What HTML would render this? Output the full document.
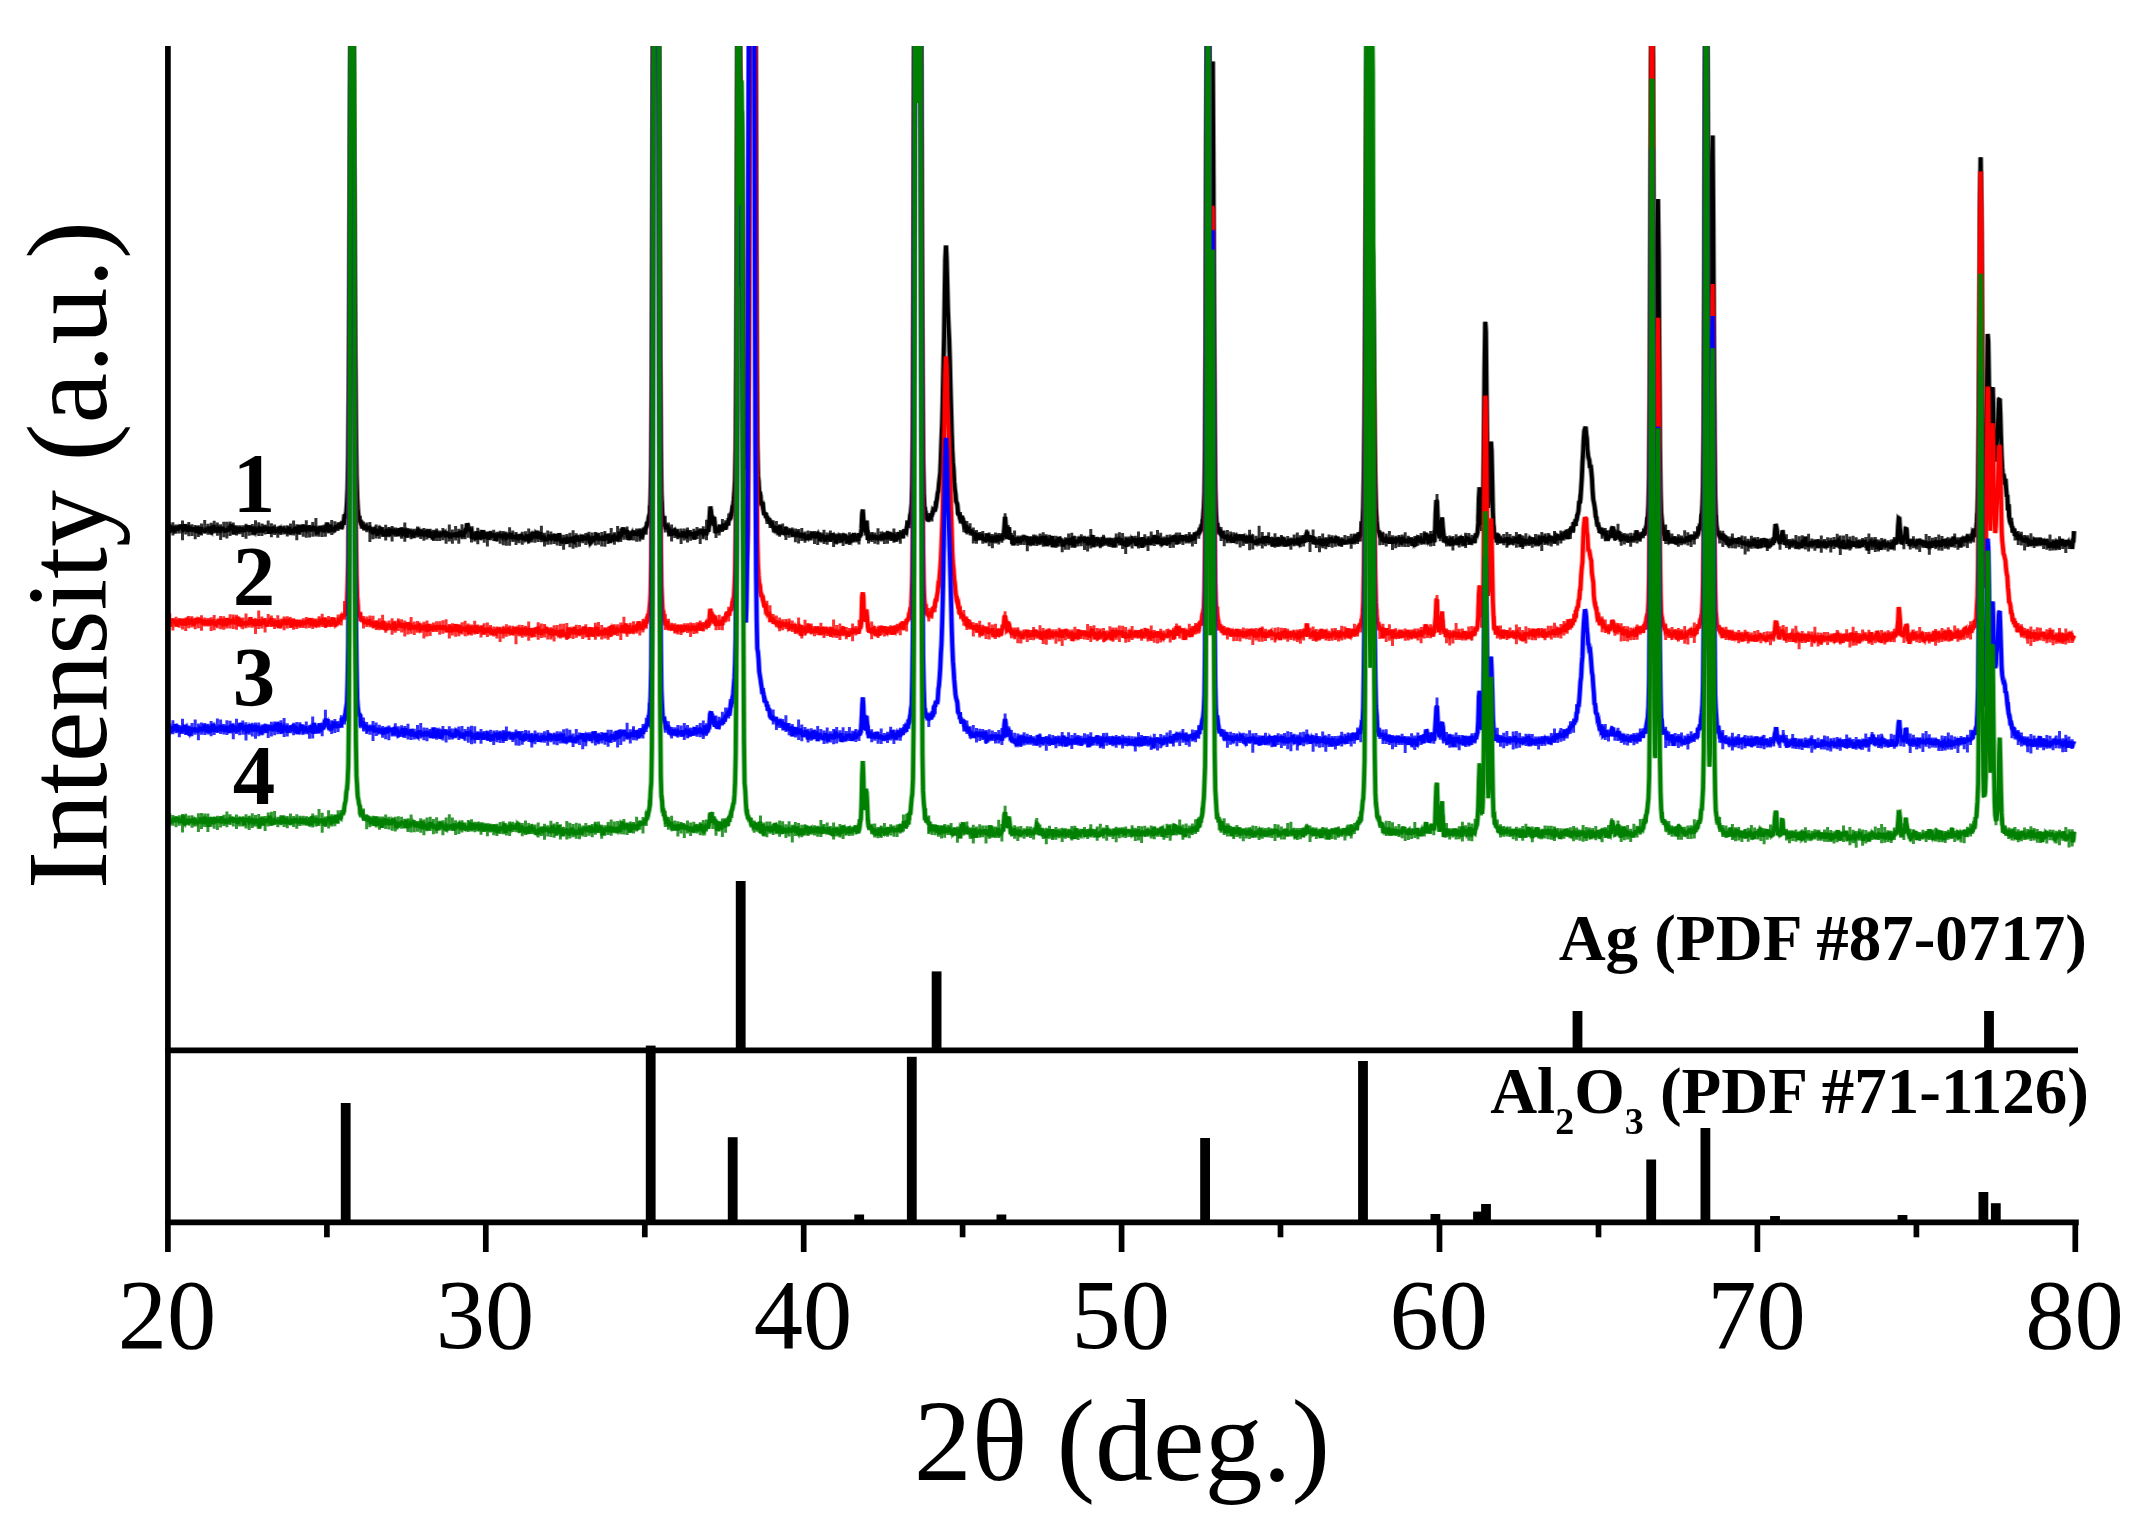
<!DOCTYPE html>
<html lang="en"><head><meta charset="utf-8"><title>XRD patterns</title>
<style>html,body{margin:0;padding:0;background:#fff}svg{display:block;filter:blur(0.65px)}</style></head>
<body>
<svg width="2150" height="1535" viewBox="0 0 2150 1535">
<rect width="2150" height="1535" fill="#ffffff"/>
<defs><clipPath id="plot"><rect x="166" y="46" width="1914" height="1180"/></clipPath></defs>
<defs><path id="c0" d="M168.5,528.8l.6,.8l.7-1.3l.6-1.1l.6,.9l.7-1.1l.6,2.3l.6,2.6l.7-3.9l.6,0l.7,2.2l.6-.5l.6-.5l.7-2.2l.6,1.7l.6,1.6l.7-4.2l.6,2l.6-3l.7,1.2l.6-1.1l.6,3.4l.7-2.1l.6,3.3l.6-.2l.7-.6l.6-4.8l.7,4.2l.6,1l.6,.2l.7-3.4l.6,2.3l.6-1.2l.7,.4l.6,3.8l.6-3.8l.7,1.6l.6,2l.6-2.9l.7,1l.6,.5l.6,.1l.7-2.6l.6,2.6l.6,2.6l.7-6l.6,4.9l.7-1.4l.6-1.8l.6,5.6l.7-2.6l.6-4.1l.6,2.5l.7,.9l.6-1.6l.6,1.9l.7-1.6l.6,1.3l.6,1.7l.7-4.3l.6,1.9l.6-1.4l.7,1.4l.6-2.7l.7,1.2l.6,.8l.6,2.3l.7,.5l.6-5.1l.6,.9l.7,3l.6-5.7l.6,3.1l.7,.7l.6,3l.6-1l.7-2.1l.6-.2l.6,0l.7,3.9l.6-4.2l.7,.3l.6,1.3l.6-.8l.7-.2l.6-1.8l.6,2.3l.7-.8l.6,3.4l.6-1.1l.7-1.4l.6,1.4l.6-2.3l.7,2.8l.6-2.2l.6,1.3l.7-3.8l.6,3.4l.6-4.3l.7-.7l.6,3.7l.7-1.3l.6,2.3l.6,4.5l.7-6.4l.6,.3l.6,1.7l.7,.5l.6-1.3l.6,0l.7,1.9l.6-.3l.6-3.3l.7,2.1l.6,.4l.6-2.2l.7,2.6l.6-2.3l.7,3.6l.6-1.6l.6-.2l.7-1.4l.6,1l.6-3.7l.7,1.8l.6,3.2l.6-5.3l.7,6.2l.6-5.5l.6,5.2l.7-3.3l.6,3.5l.6-1.3l.7-3.6l.6,5.7l.7,.4l.6-3.2l.6-.4l.7,.4l.6-1.6l.6,4.4l.7-3.4l.6,.9l.6-1.5l.7,.3l.6-1.4l.6,5.2l.7-2.9l.6,2.6l.6-2l.7-1.5l.6,.7l.7-.6l.6,1.3l.6-.9l.7,.2l.6-2.1l.6,1.4l.7,5.1l.6-4.8l.6-.7l.7,2.8l.6,2.2l.6-6l.7,2.8l.6-.8l.6-2.3l.7,5.4l.6-1.6l.6,.2l.7-1.8l.6,2.6l.7-2.1l.6,.8l.6-2l.7-.3l.6,5.2l.6-3.8l.7,1.7l.6-1.1l.6-.8l.7-.1l.6,2.5l.6-1.9l.7,.3l.6,.3l.6,2.4l.7-1.3l.6-.8l.7-1.8l.6-1.7l.6,4.8l.7,0l.6-2.4l.6,1.3l.7,.4l.6,0l.6,.1l.7-2.9l.6,4.1l.6-5.8l.7,4.3l.6-1l.6,.8l.7,2.2l.6-.7l.7-5.5l.6-1l.6,5.2l.7-3.7l.6,2.2l.6,1.8l.7-5.2l.6-1l.6,4.9l.7-.6l.6-.5l.6,.6l.7-1.8l.6-1.4l.6,2.9l.7-1.8l.6-1.5l.6,4.7l.7-1.1l.6,1.1l.7-3l.6,.7l.6-.6l.7,.1l.6,2.4l.6-2.2l.7,2.5l.6,.1l.6,3.6l.7-7.2l.6,4.7l.6-2l.7-.1l.6-3.1l.6,1.9l.7,2.4l.6-1.6l.7,.4l.6-.8l.6,3l.7-2.4l.6-4.6l.6,3.2l.7-2.7l.6-2.7l.6,5.6l.7,3.7l.6-2.7l.6-2.8l.7,.3l.6,4.3l.6-2.1l.7-.3l.6-.2l.7,0l.6,1.3l.6-.6l.7-.9l.6-2.8l.6,3l.7-2.6l.6,3.2l.6-5.2l.7,2.2l.6-.1l.6-3.2l.7,5.9l.6-1.2l.6-5l.7,1.6l.6-2l.7-7.7l.6,4.1l.6-3.3l.7-3.6l.6-9.4l.6-13.6l.7-33.8l.6-66l.6-118.6l.7-159l.6-105.2l.6,0l.7,0l.6,0l.6,0l.7,117.9l.6,126.1l.6,106l.7,74.2l.6,45.2l.7,22.1l.6,11.4l.6,5.9l.7,6.1l.6,.3l.6,.3l.7,.2l.6,.9l.6,5.8l.7-1.7l.6-.3l.6-.3l.7-1.1l.6,2.4l.6,2.4l.7-2.4l.6,.7l.7,.4l.6,1l.6-3.3l.7,3.1l.6-1.2l.6,3.9l.7-3.3l.6,2.9l.6,2.2l.7-3.9l.6-.4l.6,1.9l.7-.4l.6-2l.6,3.2l.7,3.3l.6-4.6l.7,.2l.6-1.8l.6,3l.7-3.3l.6,.4l.6,4.9l.7-4.5l.6,4.3l.6,1l.7-2.6l.6,.8l.6,2.9l.7-4.4l.6-.9l.6-1.6l.7,2.9l.6,3.1l.6-1.2l.7-3.8l.6,.1l.7,.9l.6,1.6l.6-1.1l.7,.8l.6,.3l.6-1.5l.7,.6l.6,.5l.6-.7l.7,1.2l.6,2.9l.6-2.6l.7-1l.6-3.7l.6,4.5l.7-5l.6,1.3l.7,4.8l.6-.2l.6-1.8l.7-3.3l.6,2.7l.6-.4l.7,2.6l.6,3.4l.6-4.2l.7-2.1l.6-.8l.6,2.4l.7-.2l.6-1.9l.6,2.6l.7-2.6l.6,4.9l.7,.2l.6-.1l.6-3.3l.7,2.2l.6-1.2l.6-.4l.7,0l.6-1.9l.6-.3l.7,4.7l.6-2l.6,.9l.7,1.7l.6-5.7l.6,2l.7,1.9l.6,.4l.7-1.4l.6,3l.6-1.9l.7-2.9l.6,.7l.6,3.7l.7-.7l.6-5.1l.6,7l.7-1.6l.6,1.5l.6-3.5l.7,.3l.6-1.7l.6,7.6l.7-5.6l.6,3.9l.6-4.7l.7,1.7l.6-3.8l.7,3.1l.6,2.9l.6-4.7l.7,4.8l.6-1.4l.6-2.8l.7,1.1l.6,0l.6,.6l.7-.8l.6-.5l.6,1.1l.7-1.6l.6-.3l.6,2.6l.7,2l.6-5l.7,3.2l.6-1.3l.6-.8l.7,3.8l.6-2.9l.6,4.3l.7-4.8l.6,2.5l.6-1.3l.7-1.1l.6,2.8l.6-1.6l.7,1.6l.6-1.3l.6-2.4l.7,2l.6,.3l.7,1.9l.6-3.9l.6,2l.7-3.6l.6,5.1l.6-3.7l.7-1.6l.6,3.5l.6,2.2l.7-5.6l.6,.7l.6,0l.7-3l.6-.8l.6-4.7l.7,1.8l.6,5.2l.6-2.6l.7,2.8l.6-1l.7,1.5l.6-.4l.6,8.1l.7-4.3l.6,1.2l.6-.5l.7,.5l.6-.1l.6,3.9l.7-6.2l.6-1.2l.6,1.3l.7-.6l.6,4.3l.6,.1l.7-3.7l.6-.7l.7,2.2l.6,3.6l.6-8.6l.7,7.1l.6-3.4l.6,4.4l.7-4.5l.6,1.7l.6-2.5l.7,1.2l.6,5l.6-1.4l.7-2.5l.6-1l.6-2.1l.7,3.2l.6,.7l.7-.1l.6,0l.6-2.2l.7,2.1l.6,.1l.6,2.9l.7,1.4l.6-4l.6-1.4l.7,1.3l.6-1.2l.6-.1l.7,1.6l.6-2l.6,3.5l.7-1.4l.6,.7l.7-.9l.6-1.1l.6-.3l.7,1.7l.6-.6l.6,1.6l.7-.5l.6-2.9l.6,3.2l.7-3.1l.6,1.5l.6,.8l.7-3.6l.6,4.5l.6,.1l.7-.4l.6-.5l.6,.2l.7-1.3l.6,1.5l.7-.5l.6,1.4l.6-2.7l.7,3.1l.6-.1l.6-.7l.7-.5l.6,2l.6-4.8l.7,4.6l.6-.5l.6,.1l.7,.1l.6-2.3l.6,.8l.7,1.9l.6-.5l.7-.4l.6-3.5l.6,4.1l.7,1.5l.6-.4l.6-1.7l.7-3.9l.6,5.3l.6-2.4l.7-5.2l.6,6.2l.6-4.1l.7,.3l.6,1l.6,2.9l.7-5.3l.6,.3l.7,4l.6,.9l.6-3.5l.7-.6l.6-1.4l.6,2.4l.7,2.9l.6,.3l.6-.5l.7,2.1l.6-3.7l.6,1.6l.7,1.7l.6-.1l.6,1.1l.7-1.3l.6-1.4l.6,1.6l.7-3l.6-1.3l.7,4.8l.6-1.3l.6,.9l.7-4.2l.6,2.7l.6-.4l.7-.4l.6-2.9l.6,3.8l.7,2.7l.6-1.2l.6-1.8l.7,1.3l.6,1.5l.6-7.3l.7,5.7l.6,1.3l.7,.5l.6,2.1l.6-1l.7-1.8l.6-.1l.6,1.1l.7-2.7l.6,1.2l.6,2l.7,2.1l.6-4.5l.6,.2l.7,.6l.6,2.3l.6-2.9l.7,2.9l.6-5.1l.7,1.8l.6,.1l.6,2.1l.7,.4l.6-5.3l.6,1.2l.7,2.4l.6-2.1l.6-1.9l.7,5.4l.6-1.2l.6-.1l.7-2.1l.6,3.3l.6-2.8l.7,2.8l.6-4.4l.7,.1l.6,2.4l.6-2l.7,2.7l.6-1l.6-2.7l.7,2.1l.6-.8l.6,2.7l.7-3.1l.6,.5l.6,3.5l.7,2.2l.6-.6l.6-4l.7,.2l.6,2.8l.6-3.3l.7-1.8l.6,2.4l.7,.7l.6-2.5l.6-1.9l.7,.3l.6,4.6l.6-3.1l.7,1.2l.6,.6l.6,.9l.7-2.1l.6,1.9l.6-3.1l.7,1l.6-1.3l.6,4.5l.7-2.5l.6-1.5l.7,.6l.6,.2l.6,1.9l.7-5.1l.6,1.2l.6,1.2l.7,6.1l.6-3.3l.6-2.4l.7,1.8l.6,2.5l.6-4.9l.7-.3l.6,3.1l.6-1.7l.7,.3l.6-2.5l.7,5.1l.6-.5l.6-2.4l.7,0l.6-5.9l.6,5.3l.7-2.2l.6-.1l.6-1.7l.7-3.7l.6-1.6l.6,6.2l.7-2.1l.6,0l.6-.2l.7,1.8l.6-3.3l.6,7.8l.7-2l.6,1.9l.7,1.9l.6-4.2l.6-3.8l.7,1.7l.6-.8l.6,1.3l.7,1.1l.6-4.3l.6,4.9l.7-4.1l.6,3.7l.6-1l.7-.7l.6,.3l.6-1.2l.7-.2l.6-2.5l.7,3.1l.6,3.6l.6-.1l.7-1.7l.6-1.9l.6-3.5l.7,3.8l.6-3.9l.6-.9l.7-1.6l.6-.5l.6-2.6l.7-1.3l.6-4.9l.6-2.3l.7-.2l.6-17.6l.7-33l.6-80.9l.6-177.8l.7-199.7l.6,0l.6,0l.7,0l.6,0l.6,0l.7,0l.6,0l.6,0l.7,0l.6,181.9l.6,162.7l.7,94.4l.6,47l.7,18.1l.6,9.3l.6-2.4l.7,7.5l.6-.3l.6,.8l.7,3.9l.6-2.2l.6-1.6l.7,4.3l.6-1.7l.6,2.5l.7,2.4l.6,.3l.6,2.8l.7-3.5l.6-2.5l.6,2l.7,0l.6-.5l.7,3.7l.6-2.2l.6-2.8l.7,5.7l.6-1.6l.6,1.2l.7-.5l.6,1l.6-1.3l.7,2.5l.6-1.7l.6,.1l.7,.1l.6-4l.6,2.8l.7-.1l.6,.9l.7-3.2l.6,6.3l.6-3.2l.7-2.9l.6-1.1l.6,2.8l.7,.4l.6-1.3l.6,1.8l.7-1.6l.6,2.5l.6-2.8l.7,1.4l.6,2.1l.6,3.3l.7-7.5l.6,1.1l.7-.9l.6,3.4l.6-4.1l.7,1.4l.6,1l.6-2l.7,.2l.6,1.1l.6-3.5l.7,1.2l.6,2.1l.6,.9l.7-1l.6-3.3l.6,2.4l.7,2.5l.6-.9l.6-1.8l.7-2.2l.6,2.1l.7-6.2l.6-9.9l.6-9.1l.7,4.2l.6,6.3l.6,7.6l.7-5.3l.6-.9l.6-1.4l.7,6.6l.6,9.5l.6-2.2l.7-2.3l.6,.8l.6,.8l.7,1.9l.6-3.9l.7-3.1l.6,2.8l.6,.2l.7-.2l.6,2.3l.6-2.5l.7,.6l.6-4.7l.6,3.8l.7,1.9l.6-3.4l.6-1.8l.7-1.2l.6,2.4l.6-6.7l.7,.5l.6-.2l.7-1.1l.6-4.7l.6-1l.7-4.1l.6-2.9l.6-5.4l.7-9.4l.6-11l.6-30.2l.7-81.6l.6-151.1l.6-210l.7-.4l.6,0l.6,0l.7,61.3l.6,46.4l.7-2.9l.6,33.1l.6,99l.7,104.6l.6,71.9l.6,36.9l.7,5.7l.6,7.3l.6-4.3l.7-2.9l.6-22.3l.6-68.7l.7-183.6l.6-181.5l.6,0l.7,0l.6,0l.6,0l.7,0l.6,0l.7,0l.6,0l.6,0l.7,193.5l.6,166.3l.6,78.9l.7,31.2l.6,5.2l.6,11.2l.7,.6l.6,2.7l.6,8.1l.7,0l.6-.1l.6,4l.7,4.6l.6,2.3l.7-2l.6,3.1l.6,2.2l.7-1.7l.6,3l.6,.2l.7,0l.6,1.1l.6,2l.7,.7l.6-.4l.6,.8l.7,3.8l.6-1.4l.6,2l.7,1.3l.6-.9l.7,3.9l.6-6l.6,3.9l.7-2l.6,4.9l.6,0l.7-7.4l.6,2.3l.6,3.7l.7,.6l.6,.1l.6-1.4l.7,1.3l.6,.5l.6-1.3l.7,2.5l.6-6.8l.6,6.3l.7-3.3l.6,4.3l.7-2.4l.6-1.2l.6,2.7l.7-2.5l.6,.2l.6-1.1l.7,3.3l.6,1.3l.6,1.1l.7-2.4l.6,2.6l.6-2l.7-.2l.6,1.5l.6,1.3l.7-2.9l.6,.5l.7,.3l.6,.5l.6-2l.7,4.1l.6-2.9l.6,1.9l.7-2.6l.6,2.8l.6,.1l.7-1.6l.6,5.2l.6-3.5l.7,3.2l.6-1.4l.6-3.3l.7,.7l.6,1.7l.7-.7l.6,0l.6-.7l.7-3.2l.6,3.5l.6-4.1l.7,5.6l.6-2.2l.6-.1l.7,1.1l.6,1.3l.6-3.5l.7-.7l.6,1.4l.6-2l.7,2.3l.6,5.5l.7-5.6l.6,3.7l.6-4.1l.7,3.4l.6-1.4l.6,.6l.7,1.3l.6,2.4l.6-3.2l.7,0l.6-2.5l.6,3.3l.7-1.6l.6,2.2l.6-1.7l.7,3.7l.6-7.9l.6,3.6l.7,2.5l.6-2.5l.7-.8l.6,1.1l.6-2.1l.7,3.2l.6,4.6l.6-2.8l.7-4.8l.6,.6l.6,1l.7,3l.6-3.7l.6,.4l.7,3.3l.6-.1l.6-2.4l.7-1.6l.6-.9l.7,1.9l.6-3.1l.6,6.3l.7-2.8l.6,2.5l.6,2.8l.7-1.6l.6-5l.6,4.3l.7,.5l.6-3.9l.6-.4l.7,1.8l.6-3.2l.6,6.1l.7-8.1l.6,2.7l.7,1.7l.6,.2l.6,.8l.7,.3l.6-1.1l.6,2.7l.7-7.2l.6,4l.6-2.3l.7-.4l.6-5.9l.6-13.3l.7-5.9l.6,9.1l.6,9.1l.7,1.6l.6,2.9l.6-4.4l.7-7.2l.6,9.7l.7,9.5l.6-1.5l.6-.5l.7-.6l.6-.6l.6,.8l.7-.6l.6,2.7l.6-2.1l.7-.4l.6-1.7l.6,2.3l.7-1.8l.6,1.4l.6,2.4l.7-1.4l.6,.2l.7-.2l.6-.8l.6-.5l.7-.3l.6,2.1l.6-4l.7,5.1l.6-2.6l.6-1.8l.7,.6l.6-.5l.6,1.9l.7-2l.6,3.9l.6-4.1l.7-3.2l.6,3.3l.7-2.8l.6,4.1l.6,2.2l.7-.9l.6-4.2l.6,1.1l.7,5.5l.6-3.1l.6-.6l.7,2l.6,2.8l.6-2.5l.7-2.5l.6,.1l.6,.4l.7-2.9l.6-1l.7,1.8l.6-2.2l.6,1.5l.7-.2l.6,4.4l.6-7.2l.7,1.1l.6-.7l.6,.4l.7,.5l.6-4.2l.6-1.8l.7-3.1l.6-.4l.6,1l.7-3.6l.6-5.6l.6-3.5l.7-7.9l.6-20.1l.7-57.8l.6-130.3l.6-256.3l.7-32.8l.6,0l.6,0l.7,0l.6,0l.6,0l.7,0l.6,0l.6,0l.7,0l.6,32l.6,202.4l.7,139.6l.6,77.6l.7,35.3l.6,13.9l.6,6l.7,0l.6,4.5l.6,1.7l.7,.6l.6,1l.6-2.9l.7-.1l.6,1.7l.6-5.2l.7,2.5l.6-2.4l.6-.8l.7-4.3l.6,.2l.7,.1l.6-.2l.6-2l.7-5.1l.6-3.7l.6-5.3l.7-2.2l.6-7.1l.6-5.2l.7-6.3l.6-14.9l.6-17.3l.7-16.8l.6-25.3l.6-29.7l.7-30.7l.6-40.3l.6-37.5l.7-14.3l.6,12.5l.7,27.4l.6,23.7l.6,15.5l.7,15.1l.6,19.5l.6,25.1l.7,24.9l.6,22l.6,18.6l.7,12.9l.6,6.8l.6,11.9l.7,8.2l.6,4.2l.6,7.6l.7,1.4l.6,2.2l.7,7.9l.6,1l.6,1.3l.7,3.2l.6,2.1l.6-.1l.7-4.6l.6,5l.6,1.7l.7,0l.6,3.4l.6,2.9l.7-2.7l.6-.6l.6,7.3l.7-4.7l.6-1l.7,3.7l.6,.8l.6-1.9l.7,3.6l.6-2.1l.6-.6l.7,2.7l.6,1.6l.6-2.6l.7,2.4l.6-.6l.6,6.4l.7-7.1l.6,4.7l.6-2.9l.7,.2l.6,2.1l.7,.7l.6,.9l.6-1.7l.7-1.7l.6,.3l.6,2.3l.7,.3l.6,1.8l.6-2l.7,1.5l.6,1.1l.6-2.7l.7-3.5l.6,.7l.6-.6l.7,6.4l.6-5l.6,4.4l.7-1.4l.6,2.5l.7-1.3l.6-2.4l.6-.2l.7,.5l.6,.4l.6-1.5l.7,1.1l.6,3.6l.6-6.9l.7,4l.6-2.6l.6,2.3l.7,1.3l.6-1.9l.6,1.7l.7-5.1l.6,5.3l.7-4.8l.6-1.1l.6-7.4l.7-9.9l.6,7.6l.6,8.4l.7,6l.6-3l.6-3.1l.7-5.7l.6,7.9l.6,4.4l.7-1.4l.6,.2l.6-2.6l.7,5.5l.6,4.1l.7-3.9l.6,1.1l.6-1.2l.7-3.2l.6,4.8l.6-5.3l.7,2.2l.6,1.1l.6,1.4l.7-1l.6,0l.6-2.4l.7-1.1l.6,2.8l.6-1.6l.7-1.4l.6,.1l.6,1.7l.7-2.7l.6,1.1l.7-.6l.6,3.7l.6,.4l.7,3.5l.6-7.3l.6,1.9l.7,3.2l.6-2.2l.6-.1l.7,4.3l.6-4.2l.6-1.9l.7-.3l.6,3.3l.6-.1l.7-3.4l.6,.8l.7,3.2l.6,.2l.6-2.8l.7,2.5l.6,0l.6-5l.7,2.9l.6,1.6l.6-2.1l.7-3l.6,3.9l.6,2.3l.7,1.6l.6-8l.6,10.2l.7-7.8l.6,4.5l.7,.6l.6-.5l.6-1.6l.7-2.6l.6,3.7l.6-2.7l.7-3.8l.6,11.2l.6-4.2l.7,2.2l.6-5.6l.6,4.9l.7,.3l.6-.1l.6-3.1l.7-2.4l.6,2.2l.7-4.1l.6,1l.6,3.8l.7-2l.6,1.7l.6,.1l.7,4.2l.6-1.5l.6-3l.7,2.8l.6-4.2l.6,.9l.7,2.5l.6-4.6l.6,2l.7-2.3l.6,3.1l.6,3.2l.7-4.9l.6,1.9l.7-2.4l.6-.7l.6-.2l.7,5.7l.6,1.9l.6-4l.7-2.5l.6,2.8l.6-2.3l.7,2.3l.6-1.2l.6-.1l.7,.7l.6-2.5l.6,.3l.7-2.7l.6,2.7l.7-2l.6,2.8l.6-1.7l.7,2.2l.6,.7l.6-4l.7,1.3l.6-.2l.6,3.7l.7,2.1l.6-2.2l.6-2.5l.7,3.9l.6-6.1l.6,6.4l.7-4.4l.6-4.7l.7,11.4l.6-2.2l.6-5.4l.7,2.5l.6-.7l.6,.6l.7-3.3l.6,1.7l.6,2.6l.7-.4l.6,2.1l.6-2.3l.7,4.7l.6-6.5l.6,1.9l.7-4.6l.6,1.5l.6,5.6l.7-4.7l.6,3.2l.7-1.4l.6-1.9l.6,1.4l.7-.5l.6,.1l.6,2.7l.7-.3l.6-2.7l.6-.8l.7,2.5l.6-.6l.6,2.5l.7,3.4l.6-3.8l.6-1.9l.7-.3l.6-1.6l.7-.1l.6-.1l.6,1.2l.7-.3l.6,2.5l.6-2.7l.7,.5l.6-2.1l.6,6.3l.7-2.6l.6,2.8l.6-2.1l.7,1.4l.6-3.6l.6,2l.7,4l.6-8.2l.7,5l.6,1.3l.6-2.8l.7,.6l.6,1.2l.6-4l.7,2.3l.6-3l.6,.5l.7,.1l.6,1.1l.6,.6l.7,.9l.6-3.8l.6,7.4l.7-2l.6-1l.7-2.3l.6,.5l.6,1.5l.7-.3l.6-4.4l.6,5.1l.7,4.7l.6-10.3l.6,5.9l.7-1.3l.6-1.1l.6,3.3l.7-5.2l.6,2.8l.6,2.9l.7-3.7l.6-.6l.6,1.2l.7-1.3l.6,4.1l.7-5.2l.6,3.7l.6-4.7l.7,3.9l.6-1.6l.6-5.4l.7,5.4l.6-2.4l.6,1.3l.7,4.4l.6-5.7l.6,0l.7,5.5l.6-2.8l.6,3.1l.7-2.7l.6-2.5l.7,1.8l.6,2.8l.6-.5l.7-2.2l.6,.1l.6-.4l.7-1.1l.6,5.5l.6-4.2l.7-2.3l.6,1.4l.6,2.6l.7-.1l.6-1.7l.6-1.4l.7,1.7l.6-3.7l.7,.7l.6,4l.6-4.1l.7-.6l.6,.5l.6,0l.7,.8l.6,5.7l.6-3l.7-2.9l.6,1.1l.6-1.4l.7-1.9l.6,3.1l.6,0l.7-3.7l.6,3.9l.6-.1l.7-.4l.6-2.6l.7,2.6l.6,.6l.6,.2l.7-2.8l.6,3.8l.6-4.1l.7,1.9l.6,3.1l.6-4.3l.7,.2l.6,3.4l.6-3.2l.7-.1l.6,.8l.6,1.7l.7-7.5l.6,2.5l.7-.8l.6-.7l.6,0l.7-.7l.6,1.5l.6-3.8l.7,.8l.6-1.1l.6-4.4l.7-.8l.6-.4l.6-7.8l.7-9.7l.6-14.3l.6-42.5l.7-101l.6-206.1l.7-137.1l.6,0l.6,0l.7,0l.6,102.9l.6,154.9l.7,3.2l.6-102l.6-96.9l.7-6.6l.6,112.2l.6,147.1l.7,110.1l.6,57.8l.6,21.7l.7,13.1l.6,.7l.7,5.7l.6-.2l.6,2.5l.7-2.9l.6,4l.6,1l.7,.2l.6-3.4l.6,6.9l.7-2.1l.6,.3l.6,.8l.7,.3l.6,1.6l.6-3.5l.7,.8l.6,2.8l.6-.1l.7-1l.6-.2l.7-.5l.6,1.7l.6,2.7l.7-4.6l.6,5.4l.6-1.4l.7-2.9l.6,2.7l.6-4.7l.7-.5l.6,.8l.6,1.8l.7,.4l.6-.5l.6,1.4l.7-4.7l.6,5.6l.7-3.9l.6,1.7l.6,.6l.7-1.7l.6-.4l.6,.8l.7,2.2l.6,1.2l.6,.1l.7-3l.6,.5l.6-.4l.7,2.8l.6-5.2l.6,6.9l.7-3.6l.6-.6l.7,2.3l.6,1.6l.6-1.3l.7,1.6l.6-2l.6,2.3l.7,.3l.6-2.8l.6,3.2l.7-2.7l.6,.1l.6-2l.7,1.4l.6,2.3l.6-4.5l.7,4.1l.6-.5l.6,0l.7-5.4l.6,4.6l.7,1.6l.6-3l.6,1.7l.7-5.3l.6,6.4l.6-2.7l.7,3.1l.6-5.6l.6,5.4l.7-1.7l.6,2.1l.6-3.4l.7,.6l.6,6.1l.6-6.5l.7,.2l.6,.9l.7-1.6l.6,4.8l.6,1l.7-5l.6-2.3l.6,6l.7-.1l.6-.4l.6,.8l.7-4.3l.6,1.6l.6-2.7l.7,.2l.6,5l.6-3.5l.7,6.2l.6-4.7l.7-1.4l.6,3l.6,2.2l.7-2.7l.6-3.8l.6,3.3l.7,2l.6-3.9l.6-.7l.7,3.7l.6-1.8l.6-2.7l.7,1.7l.6-.9l.6,2.1l.7-.5l.6,2.2l.7-1l.6-4.8l.6,4.2l.7,1.1l.6-1.1l.6,1l.7-3.1l.6-1l.6,3.9l.7-4.4l.6-2.4l.6,6.6l.7-3.8l.6,.2l.6-4.1l.7-1.8l.6,.1l.6,3.6l.7,3.3l.6-5l.7,6.5l.6-4.7l.6-.9l.7,3.2l.6-1l.6-1.8l.7,7.7l.6-5.3l.6,2.5l.7,0l.6,2.9l.6-3.9l.7,3.1l.6-3.6l.6,3.6l.7-4.1l.6,.9l.7,4.6l.6-3.3l.6-.3l.7,4.6l.6-3.9l.6-2.4l.7,3.3l.6-4l.6,4.8l.7,.2l.6-3.6l.6-.1l.7,1.7l.6-.3l.6-2.1l.7,3.4l.6-5.4l.7,3.3l.6-.1l.6,.2l.7,1.3l.6-3.4l.6,4l.7-1.7l.6-1.3l.6-1.4l.7,.4l.6,3.2l.6-2.5l.7,2.2l.6,2.1l.6,0l.7,1.1l.6-4l.6-1.8l.7,4.5l.6-1.8l.7,1.4l.6-2.4l.6,2.4l.7-.9l.6-.2l.6-.5l.7-.3l.6-.4l.6-.1l.7,1.4l.6-3.3l.6,4.7l.7-4l.6,2l.6-2.5l.7-.5l.6,4.3l.7-5.1l.6-2.3l.6,.7l.7,.4l.6,4.7l.6-4.7l.7,.7l.6-5l.6,1.6l.7-.9l.6,.3l.6-8.6l.7-3.7l.6-13.8l.6-31.7l.7-53.8l.6-92.7l.7-129l.6-124.6l.6-69.4l.7,0l.6,52.8l.6,119.6l.7,91.4l.6,44.6l.6-7.3l.7-38.9l.6-22.4l.6,10.7l.7,51.8l.6,67.5l.6,61.7l.7,46.3l.6,24.3l.7,12.8l.6,6.2l.6,4.6l.7-.9l.6,2.1l.6,1.9l.7-.4l.6,1.3l.6-.3l.7,6l.6-1.2l.6-1.5l.7-.9l.6,5l.6-3.7l.7-.5l.6,.9l.6,.1l.7,2.4l.6-2.8l.7,4.4l.6-5.9l.6,3.5l.7-3.5l.6,6l.6-4.5l.7,.7l.6,2.1l.6,.9l.7-4.7l.6,1.7l.6-2.1l.7,3.2l.6-.5l.6-.4l.7-.8l.6,.8l.7-.7l.6,2.9l.6,2l.7-7.3l.6,3.9l.6-.6l.7,2.1l.6-3.2l.6,1.7l.7-1.8l.6,3.7l.6-1.2l.7-.6l.6,1.2l.6-1.3l.7-2.8l.6,4.6l.7-.7l.6-.9l.6,2.4l.7,.5l.6-4.9l.6,.7l.7,4.8l.6-.3l.6-4.6l.7-.9l.6,1l.6,.2l.7-2.3l.6,3.3l.6-2.7l.7,0l.6,4.4l.6-3.3l.7,1.2l.6,1.3l.7,.1l.6-3.1l.6-.8l.7-5.2l.6,3.5l.6-.4l.7-.7l.6,3.9l.6,2.1l.7-.7l.6,2l.6-2.6l.7-5.4l.6,1.6l.6-1l.7,3.9l.6-.7l.7,3.7l.6-11l.6-18.2l.7-12.8l.6,1.7l.6,12.9l.7,14.2l.6,6.4l.6,2.6l.7-2.6l.6-7.4l.6-5.3l.7-5.2l.6,8l.6,6.5l.7,5.3l.6,4.4l.7-4.2l.6,3.5l.6,1.9l.7-2.1l.6,1.4l.6-2.9l.7,5.2l.6-.6l.6-1.8l.7-4l.6,1.4l.6,4.1l.7,1.5l.6-3l.6,2l.7-3.9l.6,.9l.7,.4l.6,.9l.6-4.1l.7,5.1l.6,.9l.6-5.3l.7-.4l.6,3.6l.6-2.3l.7-3.6l.6,6.7l.6-1.4l.7-1.4l.6,5.3l.6-4.2l.7-1.9l.6,1.8l.6-2.6l.7,.5l.6,2.5l.7-2.3l.6,.3l.6,4.3l.7-1.9l.6-.3l.6-.6l.7-.3l.6,1.9l.6-3.5l.7,3.6l.6-6.3l.6,.7l.7-3.3l.6,.6l.6-2.1l.7-9.4l.6-24.6l.7-11l.6,9.7l.6,17.3l.7,7.9l.6,2.3l.6-12.3l.7-21l.6-51.7l.6-70.8l.7-46.8l.6,9.4l.6,61.4l.7,55l.6,47.2l.6,12.9l.7-9.1l.6-25l.7-22.2l.6-9.9l.6,9l.7,31.1l.6,29.8l.6,14.5l.7,10.7l.6-2.6l.6,3.7l.7-3.1l.6,7.7l.6-5.6l.7-2.8l.6,4.6l.6,.1l.7,4.4l.6-4.5l.6,.7l.7,1.3l.6,2.1l.7-3.3l.6,2.3l.6-1l.7-1.7l.6,.8l.6,.1l.7-2l.6,4.6l.6-5.2l.7,5.5l.6-.3l.6-2.1l.7-1.3l.6,1.1l.6,1.6l.7,.4l.6-1l.7,1.4l.6-3.2l.6,1.6l.7-3.9l.6,4.9l.6-1.5l.7-.9l.6,3.5l.6-.8l.7-7.3l.6,6.1l.6-3l.7,5.5l.6,3l.6-6.4l.7,1.4l.6-.7l.7,1.2l.6,.5l.6,1.4l.7-4.8l.6,5.2l.6-5.2l.7,2.7l.6,1.7l.6-1.2l.7-3.4l.6,.5l.6,.4l.7,.8l.6,2.5l.6-5.3l.7,3.7l.6,.4l.7,0l.6-.1l.6,2.4l.7-2.3l.6,.6l.6-.8l.7,2.5l.6-7.8l.6,6.6l.7-3.2l.6-.2l.6-1.4l.7-2l.6,3.1l.6-.6l.7,2.6l.6-4.2l.6,5.9l.7-2.4l.6-1.2l.7-1.2l.6-.2l.6-.6l.7,1.2l.6,1.1l.6-.4l.7-2.6l.6,2.4l.6-1.3l.7,2l.6,3.4l.6-2.8l.7-2.1l.6-2.9l.6,.3l.7-.7l.6,4.7l.7-3.2l.6,1.4l.6-1.7l.7,1.1l.6,2.5l.6-4.4l.7,.4l.6-1.3l.6,3.2l.7-4.5l.6-.5l.6-.8l.7-.6l.6,3.5l.6,4.2l.7-8.1l.6,3.3l.7-2.1l.6-3.6l.6,.8l.7-.7l.6-2l.6,4.6l.7-9.1l.6,3.5l.6-1.5l.7-3.6l.6-.3l.6-.6l.7-4l.6-2.2l.6-2.9l.7-9.6l.6,2.2l.6-4.5l.7-10.3l.6-9.4l.7-15.9l.6-9.6l.6-13.7l.7-9.2l.6-1.6l.6-2.3l.7,7.5l.6,4.5l.6,11.3l.7,6.2l.6,2.2l.6,2.2l.7,7.5l.6-3.2l.6,5.7l.7,7.6l.6,11.9l.7,9.3l.6,2.9l.6,3.3l.7,5.1l.6,6.8l.6-1.1l.7,7.6l.6,2.2l.6-.9l.7,2.8l.6,1.5l.6,3l.7-4.6l.6,5.7l.6-2.3l.7-.2l.6,2.5l.7-.1l.6-1.2l.6-.9l.7,1.8l.6,5.4l.6,1.3l.7-2.3l.6,1.2l.6-3.5l.7,.9l.6,.5l.6-4.2l.7-3l.6-1.7l.6-.8l.7,2.5l.6,6.6l.7,.1l.6,3.1l.6-1.8l.7-1l.6-.9l.6-2.9l.7-1.5l.6,2.7l.6,4.4l.7,.8l.6,1.8l.6-6.4l.7,2.8l.6-.1l.6,1.4l.7-1.3l.6-.1l.6,2.8l.7-1.2l.6-2.9l.7,5.2l.6-.6l.6-3.2l.7,3l.6-3.2l.6,4l.7-2.9l.6-1.3l.6,1l.7-.9l.6,1.9l.6,0l.7-.3l.6-1.4l.6-6.9l.7,7.9l.6-4.3l.7,4.2l.6,1.6l.6-2l.7-1.6l.6-.1l.6-.3l.7-1.3l.6-.7l.6-1.5l.7,3.2l.6-3.8l.6,.3l.7-4.7l.6-2.1l.6-4.3l.7-4.4l.6-11l.7-30.3l.6-74.4l.6-143.7l.7-193.7l.6-57.4l.6,0l.7,53.5l.6,195.2l.6,137.6l.7,59.9l.6,8.6l.6-49.8l.7-86.3l.6-91.7l.6-33.9l.7,55.6l.6,103.9l.6,86.2l.7,48l.6,19.7l.7,8l.6,6.4l.6,.2l.7,6.9l.6,2l.6,4.7l.7-3.2l.6-2.3l.6-.1l.7-4.9l.6,6.5l.6,1.5l.7,2.7l.6-.5l.6,.2l.7-.7l.6,1l.7,1.7l.6-5.1l.6,1.4l.7-1.7l.6,6.4l.6-.5l.7-.9l.6-4.1l.6,2.9l.7-.9l.6,.7l.6-.6l.7,1.6l.6-1.9l.6,2.6l.7-1.3l.6-1.3l.7,.3l.6-.7l.6,2.7l.7-2.5l.6,1l.6-1.4l.7-2.5l.6,4.8l.6-4.4l.7,3.7l.6-.8l.6-4.6l.7,1.3l.6,.7l.6-.7l.7-1.2l.6,3.7l.7-2.4l.6,.7l.6-2.3l.7,.9l.6-3l.6,.6l.7,0l.6-2.4l.6-2.7l.7-3.6l.6-.2l.6-3.5l.7-6.7l.6-10.1l.6-18.8l.7-51.9l.6-133.8l.6-214.3l.7-79.8l.6,0l.7,0l.6,72l.6,216.7l.7,118.1l.6,40.5l.6-14.7l.7-67.9l.6-113.1l.6-101.1l.7-21l.6,85.5l.6,124.8l.7,99l.6,49.1l.6,20.7l.7,10.6l.6,4.1l.7,4.1l.6,.9l.6-.9l.7,2l.6,1l.6,.9l.7,.4l.6-1.4l.6-2.4l.7,3.4l.6-2.4l.6,4.6l.7,.4l.6-3.3l.6,5.2l.7,.7l.6-1.6l.7,3.6l.6,.7l.6-6.2l.7,4.9l.6-1.3l.6,0l.7,1.2l.6-3.5l.6,.3l.7-.1l.6,.1l.6,1.4l.7-2.9l.6,.8l.6,3.5l.7-1.4l.6,1l.6-4.8l.7,2.3l.6,.7l.7,1.4l.6-1.4l.6,3.4l.7-2l.6,.1l.6,0l.7,1.5l.6-2.2l.6,3.4l.7-1.4l.6-.5l.6-.3l.7,.9l.6,1l.6-.2l.7-1l.6,1.2l.7-1.7l.6,2.5l.6-2.6l.7-4.5l.6,7.2l.6-2.6l.7-2.8l.6,2.2l.6-1.3l.7,6.3l.6-3.4l.6-4.4l.7,4.6l.6-2l.6,4.8l.7-6.2l.6-2.5l.7,4.8l.6-.9l.6-.1l.7-3.9l.6,5.4l.6,2.7l.7-7.7l.6,6.6l.6-3.5l.7,6l.6-3.9l.6-1.5l.7,2.7l.6-1.2l.6-2.7l.7,2.6l.6-3l.7-3.5l.6,5.4l.6-11l.7-7.8l.6,1.8l.6,3l.7,6.5l.6,4.3l.6,.7l.7,1.3l.6,2l.6-4.4l.7-1l.6-3.7l.6-4.1l.7,6.7l.6,1.1l.6,5.9l.7-.8l.6-.7l.7-2.8l.6,3.2l.6-1.8l.7,3.2l.6-1.8l.6-1.4l.7,3.6l.6-.5l.6-2.6l.7,3.6l.6-3.2l.6,0l.7,1.1l.6-1.9l.6,.7l.7,.5l.6,3.6l.7,0l.6-3.8l.6,3.9l.7-3.4l.6,.8l.6,1.1l.7-1.3l.6,4.5l.6-4.6l.7-3.1l.6,5.3l.6-3.7l.7,.2l.6-5.6l.6,8.5l.7-.5l.6,0l.7,.4l.6,1.6l.6-3.6l.7,2.2l.6-3.4l.6,.9l.7,3l.6-1.3l.6-3.4l.7,3.5l.6-1.1l.6-1.4l.7,2.8l.6-1.7l.6-2.5l.7,.9l.6,6.2l.6-7.1l.7,3.8l.6,.8l.7,.1l.6-3.8l.6,2l.7,1l.6,1.3l.6-3.1l.7-1.1l.6,4.4l.6,.3l.7-1.6l.6-2.1l.6,2.1l.7-.7l.6,1.4l.6-4.5l.7,2.7l.6-.6l.7-1.9l.6,2.8l.6-.5l.7-1l.6,1.8l.6-3.8l.7,2.9l.6,1l.6-.3l.7,1.9l.6-4.8l.6-.5l.7,3.7l.6,.4l.6,3.4l.7-3.2l.6-3.2l.7,3.5l.6-3.4l.6-1.4l.7,8.6l.6-4.7l.6,.8l.7-.2l.6,2.4l.6-3.2l.7,1.8l.6-4.7l.6-.8l.7,5.9l.6,0l.6-2.1l.7-.6l.6-.2l.7-1.8l.6,4.8l.6-1.9l.7-.4l.6-.2l.6,1.6l.7-1.3l.6,.6l.6-4l.7,3.5l.6,3.6l.6-5.7l.7,.8l.6,2.2l.6,0l.7-.7l.6-4.5l.6,4.5l.7-3.5l.6,.8l.7,2.8l.6-1.8l.6,2.4l.7,5.1l.6-4.8l.6,0l.7-3.2l.6,.7l.6-.8l.7,1.1l.6-1l.6,1.1l.7,.8l.6-1.5l.6-.8l.7,0l.6,3.8l.7-.8l.6,2l.6,0l.7-2.8l.6,2.1l.6-4.4l.7,7.8l.6-2.3l.6-2.9l.7-2l.6,3.2l.6-4.8l.7,2.3l.6,3.2l.6-1.3l.7-1l.6,3.1l.7-4.2l.6,2.8l.6-1.8l.7-.7l.6,2.6l.6-3.2l.7,6.1l.6-5.5l.6,5.2l.7-6.7l.6,3.4l.6-4l.7-.4l.6,2.7l.6,.6l.7-5.3l.6,1.4l.6-13.2l.7-8.7l.6,.4l.7,10.9l.6,3.6l.6,10.8l.7-1l.6-1.8l.6-1.1l.7-1.8l.6-1.6l.6-1.2l.7-7.1l.6-.5l.6,7.3l.7,8.7l.6-2.3l.6-.1l.7,4.4l.6-1.7l.7-.7l.6-1.3l.6-1.9l.7,.9l.6,1.4l.6,.5l.7,1.1l.6,.4l.6-.7l.7,.2l.6-2.5l.6-2.2l.7,3.6l.6-.7l.6,.4l.7,.9l.6-2.2l.7,.2l.6,2.2l.6,.4l.7-1.7l.6,2.3l.6-1.7l.7-1.8l.6,2.2l.6,4l.7-5.2l.6,3.9l.6,.5l.7,0l.6-4.8l.6,5.8l.7-3.9l.6-.8l.7,.1l.6,1.7l.6-1.1l.7-.5l.6,3.1l.6-4.3l.7-.8l.6,3.7l.6-.4l.7,.7l.6-4.6l.6,4.7l.7-1.3l.6,2.9l.6-6.2l.7,2.9l.6-1l.6-2.9l.7,2l.6,3.9l.7-3.3l.6-.5l.6,3.2l.7,.2l.6-.1l.6-3.8l.7,1.5l.6,2.2l.6-3.6l.7-.2l.6,3.2l.6,1.5l.7-5.7l.6-3.2l.6,2.4l.7,.7l.6,1.8l.7,1.5l.6-1.6l.6-1.2l.7,1.8l.6-2.1l.6,1.7l.7-1.4l.6,6.8l.6-4.2l.7-3.6l.6-.5l.6,.9l.7-2.6l.6,1.8l.6-.3l.7,3.3l.6-3l.7-1l.6-1.2l.6,.2l.7,1.9l.6-.6l.6,2.6l.7-4l.6,3.1l.6-2.4l.7-1.1l.6-5l.6,.4l.7,3.1l.6,0l.6-4.5l.7-1.6l.6-7.3l.6-10.4l.7-27.9l.6-57.6l.7-104l.6-113.1l.6-51.4l.7,51.5l.6,109.7l.6,98.4l.7,64l.6,20.8l.6,5.2l.7-2.9l.6-22.9l.6-46.3l.7-56.5l.6-44.3l.6,7.1l.7,42.5l.6,56.3l.7,16.3l.6-4.2l.6-34l.7-29l.6-1.7l.6,23.6l.7,29.2l.6,19.9l.6,.8l.7-3.3l.6-10.8l.6-6.8l.7-13.2l.6-15.8l.6-11.6l.7-.5l.6,15.7l.7,23.6l.6,17.9l.6,11.4l.7,8.9l.6-2.3l.6,3.9l.7,6.6l.6-5.7l.6,8.7l.7,8.1l.6,.4l.6,14.3l.7-6l.6,13l.6,4.1l.7,1.9l.6,.3l.7,3.6l.6-.7l.6,5.2l.7-2.8l.6,3.1l.6,3.7l.7-3.5l.6,2.3l.6,1.8l.7-2.3l.6,5.7l.6-1.2l.7-3.5l.6,3.4l.6-1.4l.7,.6l.6,1.9l.6-1.5l.7,3.7l.6-3.2l.7,3.7l.6-2l.6,2l.7-2.8l.6,.4l.6-1.1l.7,3.9l.6,.5l.6,2.5l.7-1.7l.6-2.1l.6-1l.7,1.5l.6-.8l.6,3.3l.7-1.1l.6-3.7l.7,.4l.6,4.5l.6-2.2l.7-1.3l.6,3l.6-3.1l.7,.1l.6-.1l.6-3l.7,6.1l.6-4.2l.6,1.4l.7-.3l.6,3.2l.6-1.7l.7,.2l.6-3.5l.7,3.5l.6-3.1l.6,3.8l.7,.1l.6-.5l.6,4.4l.7-3.2l.6,.2l.6-.7l.7-.9l.6,2.6l.6,.2l.7-5l.6,5l.6-.9l.7,.9l.6-.9l.6-3.5l.7,.3l.6,6.3l.7-3l.6-3.6l.6,3.8l.7-1.5l.6-3.2l.6-.9l.7,1.5l.6,3.8l.6-.8l.7-.2l.6,1l.6,.6l.7-5.6l.6,3.8l.6-1.1l.7-.8l.6,1.5l.7,.9l.6-.4l.6-2.4l.7,2.2l.6,5.2l.6-6.3l.7-1.4l.6-10"/>
<path id="c1" d="M168.5,619.5l.6,6.1l.7-2l.6,2.8l.6-5.7l.7-.8l.6,3.2l.6-4.1l.7,3.9l.6-1.9l.7,.8l.6,1.2l.6-.6l.7,3.9l.6-2.5l.6-4l.7,4.6l.6-4.7l.6,2.8l.7-2.8l.6,.9l.6,4.5l.7-3.9l.6-.2l.6,0l.7,.8l.6,3.6l.7-5.3l.6-.3l.6,3.7l.7-4.6l.6,2.5l.6,3.2l.7-2.4l.6-.8l.6-.5l.7-.5l.6,.6l.6,1.5l.7,2.3l.6-.7l.6-3.2l.7-.4l.6,3.1l.6-5.4l.7,2.9l.6,.2l.7-1.5l.6,.2l.6,3l.7-4l.6,1.6l.6,.5l.7,1.6l.6-3.1l.6,5.2l.7-2.9l.6,.1l.6-.2l.7-.5l.6-.8l.6,4.5l.7-2l.6-.5l.7,2.4l.6-3.6l.6,2.9l.7-1.4l.6-1.9l.6,3.4l.7-4.6l.6,4.7l.6-3.2l.7,2.6l.6,2l.6-1.6l.7-2.5l.6,1.3l.6-.9l.7-1.6l.6,0l.7,2.5l.6,.9l.6-4.8l.7,3.4l.6,1.1l.6-.9l.7-2.4l.6,4.2l.6-4.8l.7,4l.6,2.1l.6-7.7l.7,4.7l.6,.1l.6-.2l.7-2l.6,.9l.6-2.1l.7,3.1l.6,.9l.7-2.6l.6-.7l.6,.9l.7,1.2l.6,.1l.6-.3l.7,.3l.6-2.8l.6-2.8l.7,6.9l.6,1.7l.6-6.1l.7,1.6l.6,2.1l.6,1.3l.7-.6l.6,1.3l.7-2.6l.6,1.1l.6-.1l.7-1.7l.6,3.3l.6-1.1l.7,.8l.6-3l.6,3.1l.7-4.3l.6,2.9l.6-6.1l.7,3.4l.6,3.7l.6-2.5l.7,1.2l.6-3.7l.7,6.5l.6-1.9l.6-1.4l.7,.9l.6-.2l.6,2.3l.7-2.5l.6-3.5l.6,2.6l.7,3.1l.6-1.6l.6-1.9l.7,2.1l.6-1l.6,.9l.7-4.5l.6,1.6l.7,3.2l.6-1.9l.6,1l.7,3.2l.6-4.5l.6,1.2l.7-1.5l.6-.1l.6,1.1l.7-2.8l.6-1.4l.6,7.3l.7-3l.6,2.5l.6-2.1l.7-.1l.6,1.3l.6,0l.7-4l.6,4.9l.7-4.7l.6,2.7l.6,4.8l.7-4.9l.6,3.4l.6-4.2l.7,1.9l.6-1l.6,.9l.7-2.8l.6-.2l.6,2.6l.7-3.7l.6,1.6l.6,3.1l.7-2.5l.6-.7l.7-.5l.6,2.7l.6-1l.7,.9l.6-.7l.6,4.3l.7-4.7l.6-3l.6,4.3l.7-.3l.6,.2l.6-3.4l.7,5.7l.6-2.5l.6,.1l.7-3.3l.6,4.3l.7-1.2l.6,2.7l.6-3.6l.7-1.6l.6,2.9l.6-2.1l.7,2.7l.6-3.2l.6,1.8l.7-.4l.6,.4l.6-1l.7-.5l.6,1.4l.6-1.1l.7,1.6l.6-1.2l.6-3.9l.7,4.3l.6,2.9l.7-2.2l.6,.6l.6-.3l.7-1.8l.6-1.8l.6,4.5l.7,.4l.6-.9l.6-.2l.7,0l.6-1.1l.6,.7l.7-.5l.6,.8l.6-2.5l.7,.4l.6,2.5l.7-1.9l.6-4.3l.6,5.2l.7-4.8l.6,8.5l.6-2.4l.7-.4l.6-2.6l.6-1l.7,1.7l.6,.6l.6-1.6l.7,1.9l.6,.8l.6-.3l.7-3.5l.6-2.3l.7,4.4l.6-1.5l.6,2.1l.7,2.2l.6-.4l.6-3l.7,1.4l.6,.9l.6-3.5l.7,.2l.6,.8l.6-2.2l.7-1.4l.6-1.2l.6,.8l.7-2.1l.6,1.8l.7-3.6l.6,1.9l.6-2.9l.7-8.5l.6-1.6l.6-17l.7-28l.6-65.6l.6-109.6l.7-145.5l.6-152.2l.6-78.4l.7,0l.6,26.1l.6,97.7l.7,113.4l.6,120.1l.6,95.6l.7,73.7l.6,41.6l.7,22l.6,7.8l.6,12.2l.7-3.5l.6,2.8l.6-.2l.7,5.6l.6-2.8l.6,3.8l.7-3.3l.6,3.2l.6-.9l.7,2.9l.6-2.1l.6-.8l.7,2.7l.6-3.2l.7,.7l.6,3.5l.6-5.2l.7,5.3l.6-2.2l.6-.9l.7,2.4l.6,1.1l.6-2.4l.7,.7l.6,2.2l.6-.1l.7-1.5l.6-1.2l.6-.1l.7,.8l.6,2.7l.7-.3l.6-.5l.6,2.1l.7-3.4l.6-.2l.6,.1l.7,4.8l.6-7.9l.6,4.8l.7,.3l.6-.5l.6,4.6l.7-2.3l.6-.7l.6-3.3l.7,2.8l.6-1.6l.6,.9l.7,.3l.6-1.1l.7,2.2l.6,1.8l.6-1.2l.7-1.6l.6-4.3l.6,6.1l.7-.1l.6-2.6l.6-.8l.7,2.3l.6-2.9l.6,3.2l.7-3.6l.6,.5l.6,2l.7-2.8l.6,2.7l.7,.9l.6-3.7l.6,4.5l.7-2.9l.6,2.1l.6-.6l.7-1.2l.6-.1l.6-2.2l.7,2.1l.6-.2l.6,4.7l.7-1l.6-4.9l.6,4.4l.7-1l.6-1l.7,2l.6,.7l.6-2.8l.7,.8l.6,.9l.6-2l.7,2.2l.6-.4l.6-1.2l.7-.5l.6,2.1l.6,1.2l.7-1l.6-2.3l.6,3.3l.7-1l.6,.7l.7,1.2l.6-4.2l.6,1.7l.7-1l.6-.5l.6,5.7l.7-2.1l.6-5.2l.6,4.4l.7-1.8l.6,3.4l.6-2.1l.7-.5l.6,.6l.6,.4l.7-.6l.6-.7l.6,.3l.7,1.2l.6-3.2l.7,2.4l.6-.3l.6-.7l.7,2.5l.6-4l.6,1.8l.7-.9l.6,2.8l.6-1.9l.7,1l.6,.7l.6-3.7l.7,4.1l.6-2.4l.6,.8l.7,.3l.6,1.8l.7,0l.6,1.8l.6-2.9l.7-1.3l.6-.1l.6,2.7l.7,1.8l.6-2.5l.6-1.7l.7,1.6l.6,.3l.6-.4l.7-1.5l.6-3.5l.6,3.9l.7,3.3l.6-1.6l.7-4.8l.6,4.3l.6-3.8l.7,7.5l.6-3.4l.6-2.8l.7,3.9l.6-3.1l.6,2.6l.7-1l.6-2.3l.6,3.8l.7-3.9l.6,5.1l.6-2.4l.7-2l.6-1.7l.6,6.7l.7-.3l.6-5.6l.7,5.7l.6-2.8l.6-.8l.7,.5l.6-.6l.6,3.2l.7-2.4l.6-4l.6,7.8l.7-2.5l.6-3.9l.6,1.6l.7-.9l.6,1.9l.6,.9l.7-.1l.6-1.7l.7-.3l.6,3.4l.6-1.9l.7,4.5l.6-6.1l.6,3.2l.7-1.3l.6-1.6l.6,4.1l.7-2.4l.6-1.8l.6,1.1l.7,2.7l.6-4.3l.6,5.2l.7-1.2l.6-1.9l.7,3.1l.6,.9l.6-2.1l.7-.8l.6,3.3l.6-.7l.7-4.7l.6,1.5l.6-.1l.7-.3l.6-2.1l.6,4.6l.7-1.7l.6,0l.6,2.6l.7-3.9l.6,1l.7,.8l.6-1.4l.6,.6l.7,1.6l.6-1.5l.6,2.7l.7-4.3l.6,1.9l.6-3.1l.7,2.6l.6-1.1l.6,4.1l.7-1.5l.6-.4l.6,2.7l.7-.7l.6-1.4l.6-2.8l.7-1.4l.6,2.8l.7-.6l.6-.6l.6,.8l.7-2.5l.6,6.3l.6-5.2l.7,1l.6,2.5l.6-4.5l.7,5.1l.6-.1l.6-2.4l.7-1.3l.6,1.3l.6-2.7l.7,6.5l.6-2.7l.7-1.4l.6-.2l.6,2.9l.7,1.8l.6-5.4l.6,1.3l.7-2.2l.6,4.8l.6-1l.7,4.1l.6-4.6l.6-.7l.7-.7l.6,2.9l.6-5.5l.7,3.6l.6-1.6l.7-1l.6-.1l.6,3.9l.7,1.3l.6-4.3l.6,2.6l.7,2.8l.6-4.4l.6,.8l.7-1.9l.6,2.1l.6,.2l.7-.6l.6-.6l.6-1.7l.7,.3l.6,.8l.6,3.2l.7-2.3l.6-.7l.7,3.2l.6-.1l.6-2.5l.7,.1l.6,2.5l.6-.5l.7-2.4l.6,2.1l.6-.4l.7,2.3l.6-4l.6,3.4l.7-.6l.6-2.8l.6,4.3l.7-.3l.6-4.3l.7,6.7l.6-6.3l.6,.5l.7,1.2l.6,2.2l.6-.3l.7-1.3l.6,2.9l.6-2l.7,1.9l.6,2.9l.6-5.2l.7-5.7l.6,4.2l.6-1.3l.7,2.2l.6-.3l.7-2.5l.6,.2l.6,1.6l.7,.1l.6-4.9l.6,7.1l.7-2l.6-.2l.6,.6l.7-2.8l.6,1.9l.6,2.1l.7,.1l.6-1.2l.6-1.7l.7-1l.6,4.1l.7-1.5l.6-2l.6-3.6l.7,2.6l.6-2l.6,6.4l.7-2.1l.6-1.8l.6,.8l.7,5.8l.6-2.7l.6-5.3l.7,2.5l.6-2l.6-1.2l.7,3.8l.6,4.7l.6-1.7l.7-3.1l.6-.9l.7,1.4l.6,1.6l.6-5l.7-.9l.6,7.8l.6-3.3l.7,2.7l.6-3l.6,2.8l.7-4.5l.6,2.3l.6,2.3l.7-1.2l.6-3l.6,2.9l.7-3.3l.6-1.5l.7,4.1l.6,1.7l.6-1.2l.7-4.3l.6,4.3l.6-.4l.7-2.5l.6-4.1l.6,7.3l.7-.4l.6-.8l.6-4.6l.7,.5l.6,5l.6-.6l.7-.6l.6-1.5l.7,1.2l.6-2.1l.6,.4l.7-1.3l.6,2.5l.6-1.7l.7,2.5l.6-1.2l.6-4.9l.7,4.5l.6-5.4l.6,4.3l.7,1.3l.6-.1l.6-7.2l.7,7.6l.6,1.2l.6,.7l.7-7.6l.6,3.1l.7,1.2l.6-.9l.6,3.7l.7-4.2l.6,3.9l.6-1.6l.7-4.4l.6,.9l.6,1.1l.7,1.1l.6,1.6l.6-2.6l.7,2.1l.6-5.4l.6-3.3l.7,5.3l.6,1.3l.7-2.1l.6-1.8l.6,2.7l.7,2.7l.6-4.7l.6-2l.7-.8l.6,5.1l.6-5.1l.7,.3l.6-.3l.6-2.1l.7-6.2l.6,1.3l.6-3.8l.7-6.7l.6-11l.7-34.1l.6-76.1l.6-167l.7-280.6l.6-29.9l.6,0l.7,0l.6,0l.6,0l.7,0l.6,0l.6,0l.7,104.6l.6,191.7l.6,155.9l.7,84.3l.6,42.5l.7,16.1l.6,11.1l.6,0l.7,5.5l.6,3.4l.6,2.5l.7,.3l.6,0l.6-2.9l.7,6l.6,.3l.6-.3l.7,.5l.6-1l.6-1l.7,3.4l.6,.6l.6-4.6l.7,4.4l.6-1.2l.7,1.5l.6-1.1l.6,1.8l.7,0l.6-.3l.6-4.7l.7,4.8l.6-1.8l.6-2.4l.7,3.9l.6-4.2l.6,4.7l.7,1.6l.6-4.6l.6,3l.7-1.2l.6,.5l.7-4.3l.6,3.9l.6-1.1l.7,1.2l.6-1.5l.6,2.3l.7-1.6l.6,.7l.6,1.4l.7-2.6l.6,1.4l.6-1.7l.7,.7l.6-2.3l.6,2.7l.7,1l.6-2.6l.7,1.7l.6-.7l.6-3.2l.7,2.9l.6,1.9l.6-3.9l.7-2.7l.6,4l.6-1.9l.7,5.3l.6-4.2l.6-.1l.7-1.3l.6,1.7l.6-1.9l.7-.8l.6,1.5l.6-2l.7,4.1l.6-5.8l.7,.1l.6-6l.6-7.1l.7,6.1l.6-3l.6,10.5l.7-7.1l.6,1l.6,5.6l.7-6.1l.6,3.7l.6,6.2l.7-2.4l.6-1.6l.6,1l.7-1.9l.6,2.1l.7,2.5l.6-4.1l.6,.7l.7,1.7l.6,1.2l.6-5.8l.7,1.4l.6-2.3l.6-.5l.7-.1l.6-1.2l.6-2.8l.7-1.5l.6,1.7l.6,.7l.7,.9l.6-4.9l.7-.8l.6-.2l.6-2.2l.7-4.7l.6-3.8l.6-1l.7-11.8l.6-13.8l.6-34.4l.7-73.2l.6-154.2l.6-207.6l.7-96.8l.6,0l.6,27.1l.7,128.9l.6,37.6l.7,3.6l.6,34.8l.6,96.6l.7,105.6l.6,71.6l.6,33.8l.7,7.5l.6,8.3l.6-2.8l.7-8.1l.6-18l.6-61.9l.7-189.5l.6-275.1l.6,0l.7,0l.6,0l.6,0l.7,0l.6,0l.7,0l.6,0l.6,37.8l.7,249.5l.6,166.1l.6,78.6l.7,26.8l.6,10.6l.6,7.5l.7,2.2l.6,6.5l.6,2l.7,1.4l.6,3.2l.6,2.4l.7,2.5l.6,2.4l.7,1l.6-.1l.6,6.1l.7,0l.6-.6l.6,2.8l.7-.4l.6-.1l.6,1.5l.7,6.1l.6-2.8l.6,.7l.7-2.3l.6,2.4l.6,3.9l.7-3.1l.6,1.9l.7,.5l.6-.9l.6,2.2l.7-2.2l.6,.9l.6-2l.7,7l.6-4.3l.6-.1l.7,2.8l.6-3.6l.6,1.3l.7-1.2l.6,1.9l.6-.7l.7,2.1l.6-1.3l.6-.7l.7,.7l.6,.6l.7-.6l.6,3l.6-.4l.7-.8l.6-2.5l.6,3.6l.7-3.4l.6,3.2l.6,0l.7-1.3l.6-.5l.6,.8l.7,5.8l.6-4.5l.6,.2l.7,2.4l.6-.7l.7,1.2l.6-4.5l.6,.4l.7,9l.6-6.9l.6-.5l.7,.9l.6,1.7l.6-4.2l.7,3l.6-.5l.6,1.6l.7-.8l.6-1.5l.6-.9l.7-3.1l.6,7l.7-5l.6,2.3l.6,4.1l.7-4.1l.6,2l.6-1.6l.7,1.9l.6-1.2l.6-1.1l.7,3.8l.6-3.4l.6-2.1l.7,2.2l.6,1.5l.6-3.2l.7,3.9l.6,0l.7,2.8l.6-5.4l.6,2.7l.7-4.5l.6,2.5l.6,1l.7,.9l.6-.8l.6-.1l.7-1.1l.6,.4l.6,1.8l.7,.5l.6,.1l.6,.8l.7,.4l.6-5.9l.6,2.7l.7,.9l.6-.9l.7,3.5l.6-.6l.6-1.6l.7,.5l.6,2.5l.6-3.3l.7,.1l.6,2.6l.6-.8l.7,1.8l.6-2l.6,.9l.7-2.7l.6-.7l.6,1.7l.7-5.4l.6,6.2l.7,.9l.6-2l.6-.6l.7,2.8l.6-2.2l.6,2l.7,2.4l.6-2.9l.6,.2l.7-.9l.6-.5l.6-.2l.7-.5l.6,2l.6-5.5l.7,2.6l.6,1.8l.7-3.1l.6,1.2l.6-1.3l.7,2.2l.6,.5l.6,1l.7-2.2l.6-3.1l.6,.8l.7-2.4l.6-7.1l.6-22.5l.7-4.2l.6,4.4l.6,19.5l.7,5.1l.6-4.1l.6-6.1l.7,.2l.6,6.5l.7,8.9l.6,4.6l.6-1.7l.7,.6l.6-2.2l.6,4.9l.7-3.1l.6-.3l.6,.7l.7-.9l.6,1.2l.6,3.1l.7-.8l.6,1.3l.6,0l.7-4.7l.6,2.6l.7,2l.6,1.4l.6-7.5l.7,0l.6,3.8l.6-1.7l.7-1.2l.6,2.8l.6-2.3l.7-2.9l.6,4.5l.6,.1l.7,1l.6,.5l.6-1.6l.7-.9l.6-.7l.7-2l.6,2.4l.6,2.9l.7-1l.6,2.7l.6-4.5l.7-3.3l.6,5l.6,.3l.7-4.6l.6-1l.6,3.5l.7,1l.6-3.9l.6,1.4l.7-1l.6-1l.7-.6l.6,2.7l.6-1.4l.7-1.1l.6-4.5l.6,8.2l.7-6l.6,.9l.6-2.6l.7,2l.6-4.7l.6,2.2l.7-2l.6,.6l.6-6l.7-1.8l.6-2.5l.6,0l.7-16l.6-17.5l.7-57.3l.6-129l.6-252.1l.7-131.8l.6,0l.6,0l.7,0l.6,0l.6,0l.7,0l.6,0l.6,0l.7,0l.6,130.5l.6,198.8l.7,142.8l.6,70.1l.7,39.5l.6,12.4l.6,5.4l.7,.3l.6,5.6l.6,2.3l.7,.7l.6-1.8l.6,1.6l.7,.6l.6,1.7l.6-1.6l.7-2.7l.6-.9l.6-.7l.7-1.1l.6-2.8l.7,.8l.6-4.8l.6-2.4l.7-.2l.6-4.9l.6-3l.7-8l.6,.3l.6-8.1l.7-8.5l.6-9.3l.6-13.9l.7-19.2l.6-17.1l.6-33.4l.7-31.1l.6-34.1l.6-36.7l.7-16.6l.6,8.7l.7,32.7l.6,20.1l.6,12.4l.7,17.7l.6,16.7l.6,18.7l.7,27.4l.6,18.9l.6,22.2l.7,11.4l.6,6l.6,9.1l.7,5.5l.6,7.6l.6,4.3l.7,5l.6,1.9l.7-.5l.6,3.8l.6,6.5l.7,1.3l.6-1.2l.6,1.6l.7,1.2l.6,1.6l.6-2.3l.7,6.2l.6-2.2l.6,2.5l.7-4.5l.6,6.2l.6,2.8l.7-6.6l.6,8.1l.7-1.5l.6-2l.6-1.2l.7,5.8l.6-1.6l.6,1.1l.7-1.3l.6-.6l.6,3.4l.7-3.3l.6,4l.6-4.8l.7,1.7l.6-.9l.6,5.8l.7-6.1l.6,1.4l.7,3.9l.6-.6l.6,4.1l.7-.6l.6-2.4l.6,.3l.7-4.8l.6,2l.6,1.2l.7,.3l.6-2.1l.6,.9l.7,.1l.6,3.9l.6-1.2l.7-1.4l.6,.1l.6,1.4l.7-1.7l.6,.8l.7-2.9l.6,4.8l.6,.8l.7-1.2l.6,.2l.6-.2l.7,3.4l.6-3.6l.6-3l.7,.7l.6,3.5l.6,.6l.7-.6l.6,0l.6-1.5l.7-3.6l.6,1l.7-3.5l.6-.9l.6-8.4l.7-1l.6,3.3l.6,2.8l.7,8.5l.6-.4l.6-7.4l.7,.9l.6,3.1l.6,1.7l.7,4.4l.6-.5l.6,2l.7-1.5l.6-.5l.7,1.6l.6,.7l.6-.9l.7-1.2l.6-.5l.6,1.1l.7-.4l.6,1.6l.6,.2l.7-.5l.6,.3l.6,.5l.7,2.9l.6-.6l.6-3.4l.7,2.1l.6-1.7l.6,.5l.7-.2l.6-.9l.7-1.5l.6-2.2l.6,5.3l.7,1.9l.6-4l.6,3l.7-1.8l.6,1.3l.6-2.2l.7,1.2l.6,.2l.6-4.5l.7,5.1l.6-.7l.6-5l.7,6.4l.6-1.5l.7,.3l.6,.2l.6-1.6l.7-1.4l.6,1.3l.6,.1l.7,5.5l.6-.7l.6-4.9l.7,.1l.6,1.6l.6,.4l.7-2.6l.6-.6l.6,6l.7-1.7l.6-5.4l.7-.2l.6,1.7l.6,2.1l.7,.7l.6-1.6l.6-2.6l.7,3.6l.6,.7l.6-1.3l.7-1l.6,2.3l.6-1.2l.7-2.3l.6,2.4l.6-2.7l.7,4.8l.6-1.1l.7-3l.6,2.4l.6,2l.7-7.2l.6,4.2l.6,3.7l.7-6.6l.6,3l.6-2.5l.7,2.7l.6-4.9l.6,1.7l.7,2.2l.6,1.4l.6,.3l.7,.1l.6,1.5l.6-.9l.7,0l.6-3.5l.7,1.7l.6,7l.6-1.9l.7-2.9l.6-.4l.6,.5l.7-2.8l.6,4.9l.6-4.8l.7,.6l.6,4.7l.6-8.7l.7,5l.6-4.1l.6,2.4l.7,1l.6-.5l.7,1.1l.6-2l.6,1.1l.7-2.2l.6,1.9l.6-2.1l.7,4.3l.6-3.8l.6,4.2l.7-2.2l.6,.2l.6,3l.7-2.3l.6-4.1l.6,5l.7-7.1l.6,6.6l.7-1.4l.6-2l.6,3.1l.7-.8l.6,4.8l.6-5.1l.7,4.9l.6-1.3l.6-4l.7-.3l.6,4.4l.6-3.1l.7,.8l.6-.7l.6-2l.7,1.8l.6-1.3l.6-1.2l.7,2.4l.6,4.3l.7-.4l.6-3.7l.6,.5l.7,.7l.6,1.8l.6-2.2l.7-1.7l.6,0l.6,3.2l.7,3.1l.6-6.8l.6-3l.7,6l.6-2l.6,.5l.7,2.2l.6-2.4l.7-2.9l.6-1l.6,3.8l.7-2.4l.6,3l.6-3.4l.7,1.8l.6-2.6l.6,2.5l.7-.2l.6,2.3l.6,1.7l.7-3.1l.6-1.5l.6,5.8l.7-3.4l.6,.5l.7-.1l.6,1.8l.6-.9l.7-.5l.6,.1l.6-3.5l.7,.4l.6,1.2l.6,.4l.7-.2l.6,.7l.6-.6l.7-.7l.6-2.6l.6,5.2l.7-.7l.6-3.1l.7,3l.6-.2l.6-.6l.7-4l.6,1.4l.6,1.2l.7,4.8l.6-5.1l.6,1l.7-1.5l.6,1.4l.6,1.8l.7-4.9l.6-1.6l.6,7.5l.7-1.4l.6-1.2l.6,3.3l.7,.2l.6-6.4l.7,4.1l.6,2.7l.6-3.8l.7,.8l.6,2.6l.6-2.7l.7-2l.6,1.2l.6-1.4l.7,3.9l.6-4.7l.6,5.6l.7-5.6l.6,3.6l.6-3.2l.7,2.4l.6,3l.7,.1l.6,.4l.6-3l.7,.3l.6,.1l.6,.8l.7-2.2l.6,3.1l.6-1.9l.7,1.7l.6-1.7l.6,.6l.7-3.1l.6,.5l.6-2l.7,2l.6,.1l.7,2.1l.6-4.9l.6,8.6l.7-8.9l.6,1.9l.6,.2l.7-6.1l.6,5.6l.6,3.8l.7-8.6l.6,5.8l.6-4l.7,1.6l.6,2.1l.6-4l.7,4.3l.6-1.7l.6-.2l.7,3.1l.6,5.9l.7-6.6l.6,.4l.6-1.2l.7-1.7l.6,2.1l.6,2.4l.7-2.9l.6,1.4l.6-2.5l.7,5.7l.6-8.9l.6,4.4l.7-.3l.6-.8l.6-3l.7-.5l.6,1.6l.7,.4l.6-3.3l.6-.4l.7,2.6l.6,.2l.6-4.4l.7-1.8l.6-1.7l.6,4.5l.7-6.7l.6-4.6l.6-2.5l.7-4.7l.6-16.8l.6-42.4l.7-89.4l.6-184.4l.7-254.6l.6-13.5l.6,0l.7,0l.6,239.2l.6,138.9l.7,0l.6-90.4l.6-87.4l.7,2l.6,99.6l.6,129.2l.7,90.1l.6,55.8l.6,20.3l.7,9.1l.6,2.7l.7,4.7l.6,1.6l.6,8.8l.7-2.7l.6-.7l.6,1.3l.7,.6l.6,1.3l.6-.7l.7,1.2l.6,2.4l.6,0l.7-.9l.6,2.2l.6-2l.7-2.3l.6-1.4l.6,2.3l.7,1.5l.6,1.2l.7,1.5l.6-3.3l.6-.3l.7,3.3l.6,.8l.6-3.5l.7,1.7l.6,2.3l.6-2.2l.7-.7l.6-4.1l.6,7.3l.7-1.4l.6-1l.6-1.1l.7-1.6l.6,2.4l.7-.1l.6,2.4l.6-4.8l.7,5.7l.6-2.9l.6,2.3l.7-4.6l.6,2.9l.6,1.7l.7-2.1l.6-3.2l.6,2.4l.7,1.9l.6-4.2l.6-.1l.7,3.5l.6-2.6l.7,3.5l.6-3.9l.6-1.2l.7,2.3l.6,4.8l.6-5l.7,1.9l.6,.5l.6-2.6l.7,4.3l.6-1.8l.6,.6l.7-4.5l.6-.2l.6-2.2l.7,5.5l.6-.2l.6,1.9l.7,1.7l.6-3.6l.7,.1l.6,1.5l.6,2.2l.7-4.9l.6,2.8l.6-1.8l.7-.3l.6,2.5l.6-3.4l.7-.5l.6,3.8l.6-1.6l.7-.3l.6,.2l.6,1.2l.7-1.8l.6,2.5l.7-.8l.6,2.1l.6-.5l.7-.8l.6-2.3l.6,.7l.7-1.5l.6,7.4l.6-6.5l.7,1.8l.6,1.7l.6-5.6l.7,1.2l.6,1l.6-1.3l.7-.4l.6,1.8l.7,3.8l.6-1l.6-1.5l.7,.1l.6-3.7l.6,5.1l.7-.6l.6-3.1l.6,2.8l.7-1l.6-.6l.6-.8l.7,.6l.6-.8l.6,3l.7-.2l.6-.1l.7-1.1l.6-.4l.6,5.1l.7-8.2l.6,6.5l.6-1.5l.7-.8l.6-1.2l.6,.4l.7-2.1l.6-.5l.6,2.6l.7-3.6l.6,4.5l.6-.7l.7-11.4l.6,4l.6,5.3l.7,1.3l.6,.4l.7,.6l.6,.2l.6-.6l.7,1.6l.6-3.4l.6,2.6l.7-4.7l.6,3.6l.6-2.3l.7,5.9l.6,2l.6-3.7l.7-3.9l.6,2.5l.6,.3l.7,.1l.6,1.7l.7-.3l.6-7.6l.6,8.4l.7-3.9l.6-.1l.6,4.1l.7-3.4l.6-2.4l.6-.1l.7,3l.6,1.8l.6,1.3l.7-3.5l.6-.7l.6,4.4l.7-4.4l.6,4l.7-2.6l.6,.1l.6-.9l.7,1.1l.6-1.7l.6-.4l.7,.9l.6-1l.6,2.1l.7-.6l.6-.7l.6,.1l.7-.1l.6,4.2l.6-3.7l.7-1.1l.6,.6l.6,2.1l.7-2l.6,.2l.7-.2l.6,.8l.6,.6l.7-.1l.6-4.4l.6,1.1l.7-3.5l.6,6.9l.6,.7l.7,.4l.6-2.7l.6,1.9l.7-2.6l.6-.2l.6-3.2l.7,1.3l.6,.1l.7,3l.6,1.1l.6-4.8l.7,1.4l.6-.9l.6-2.9l.7-2.6l.6,1.1l.6-2.7l.7,.8l.6-1.6l.6-3.3l.7-6.1l.6-12l.6-31.5l.7-51.1l.6-96l.7-118.6l.6-127.6l.6-90.1l.7-4.9l.6,83.4l.6,109l.7,95.2l.6,42.5l.6-9.4l.7-34.4l.6-22.9l.6,11.3l.7,47.9l.6,68.6l.6,61l.7,42.7l.6,25.8l.7,12.5l.6,6.6l.6,1.6l.7,.6l.6,6.5l.6-2.6l.7,2.5l.6-2.9l.6,3.9l.7-1.5l.6,8.3l.6-8l.7,.3l.6,4.2l.6,.6l.7-6.7l.6,5.3l.6,1.3l.7-4.3l.6,4l.7-2.5l.6-.9l.6,1.4l.7,0l.6-2l.6,7.7l.7-5.5l.6-.3l.6,3.5l.7-2l.6,3l.6-3.3l.7,1.3l.6-.5l.6,.3l.7-.8l.6,.1l.7,3.6l.6-5.1l.6,.3l.7,.5l.6,2.1l.6-.3l.7,1.2l.6-4.6l.6,3.2l.7-.8l.6-.2l.6,1.1l.7-4.5l.6,4.7l.6-.3l.7-3.2l.6,2.7l.7,3.4l.6-3.9l.6,2l.7-1.9l.6-1.3l.6-.2l.7,1l.6,3.5l.6-1.1l.7-3.1l.6,3.6l.6-2.5l.7-1.1l.6,2.4l.6-2.9l.7-1.3l.6,5.8l.6-6.7l.7,4.5l.6-4.5l.7,2.9l.6-1l.6-1.8l.7-5.9l.6,2.8l.6,1.4l.7,.5l.6,3.1l.6,2.6l.7-3.7l.6,1.4l.6-4.3l.7,2.1l.6,.9l.6,5l.7-2.9l.6-1.2l.7,.8l.6-9.4l.6-6.9l.7-16.5l.6-.5l.6,16.7l.7,9.3l.6,6.6l.6-4.9l.7,2.4l.6-6.4l.6-6.8l.7-5l.6,12.4l.6,5.5l.7,.9l.6,.3l.7,1.4l.6,5l.6-2.9l.7-.5l.6,1.9l.6-1l.7,.7l.6,1.1l.6-.6l.7,1.3l.6-4.2l.6,2.5l.7-.9l.6,1l.6-.4l.7-1.4l.6,.5l.7,2.8l.6-2.9l.6-1.5l.7,3.8l.6,.7l.6-2.4l.7,.6l.6-1.9l.6,1.3l.7,2.6l.6-.7l.6-1.3l.7-1l.6-2.8l.6,4l.7,.2l.6,1.1l.6,2l.7-3.4l.6,1l.7-4.4l.6,4.7l.6-1l.7,.7l.6-1.7l.6-.5l.7,1.8l.6-4.7l.6,2.4l.7,.6l.6-4.3l.6-1.5l.7,2.5l.6-2.2l.6-2.8l.7-10.3l.6-21.1l.7-9l.6,10.8l.6,12.9l.7,7.7l.6-2.7l.6-6l.7-24.9l.6-63.5l.6-72l.7-52.1l.6,6l.6,60.5l.7,67.8l.6,47.2l.6,18.6l.7-7.1l.6-27.4l.7-29l.6-13.9l.6,13.7l.7,39.3l.6,29.9l.6,14.3l.7,13l.6,.6l.6,.8l.7,4.4l.6-8.3l.6,2.3l.7,5.2l.6-1.4l.6-1.1l.7,5.1l.6-1.9l.6-3.5l.7,1.5l.6,3.3l.7,2l.6-7.6l.6,4.7l.7-1.5l.6-2.6l.6,3.2l.7-2.9l.6,2.1l.6,4.6l.7-2.3l.6,.6l.6-.4l.7-.5l.6,1.3l.6-4.3l.7,1.7l.6,2.5l.7-3.1l.6,.6l.6,3.4l.7,.7l.6-4.5l.6-.5l.7,2.9l.6-.8l.6-2l.7,2.7l.6,0l.6-1l.7,5.8l.6-3.3l.6-1.1l.7,.4l.6,3.9l.7-3.9l.6-3.8l.6,2.1l.7-.7l.6-1.2l.6,1.8l.7,0l.6-.6l.6-.9l.7,2.5l.6-5l.6,4.8l.7-1.7l.6,.4l.6-5.3l.7,8.3l.6-7l.7,1.9l.6,3.2l.6-2.6l.7,.3l.6-3.8l.6,3.9l.7,1.2l.6,.8l.6-2.1l.7,.9l.6,.4l.6-2.3l.7-.1l.6,5.7l.6-5.7l.7,4.3l.6-2.5l.6,2.9l.7-4.5l.6,2.2l.7-.5l.6-1.2l.6,1.2l.7-2.2l.6,1.2l.6-.7l.7,2.4l.6-1.8l.6-3l.7,2l.6,.5l.6-2l.7,4.5l.6-2.2l.6,.8l.7-3.2l.6,.5l.7,2.8l.6-5.1l.6,3.6l.7-.5l.6-1.5l.6,.9l.7-2.8l.6,2.3l.6-3.1l.7-.5l.6,5.3l.6-4.7l.7-3.4l.6,6l.6-4l.7-6.4l.6,6.5l.7,1.4l.6-1.8l.6,1.9l.7-4.7l.6,.6l.6-4.1l.7,1.2l.6,1.4l.6-3.4l.7-2.3l.6-6.2l.6,1.2l.7-4.7l.6,1.1l.6-6.8l.7-2.1l.6-8.2l.6-.8l.7-14.2l.6-7l.7-6.4l.6-17.9l.6-15.3l.7-7.2l.6-4.3l.6,1.1l.7,.6l.6,12.9l.6,3.3l.7,14.5l.6,.1l.6,1.2l.7,4.4l.6,3.1l.6,1.9l.7,13.2l.6,4l.7,4.5l.6,13.3l.6,6l.7,4l.6,2.3l.6,.3l.7,6.5l.6,4.4l.6-.3l.7,3.3l.6-3.5l.6,5.1l.7,.8l.6-4.1l.6,.8l.7,2.8l.6,2.4l.7,1.4l.6-1.1l.6,.9l.7,.3l.6,.9l.6,1.2l.7,0l.6-1l.6,.8l.7-1.6l.6,2.4l.6-3.7l.7,1.3l.6-7.3l.6,.8l.7,2l.6,4.5l.7,2.6l.6,.2l.6-1.3l.7-1.5l.6,1l.6-1.8l.7,.6l.6,3.6l.6-1.1l.7-2.5l.6,4.2l.6-3.5l.7,1.3l.6,4.9l.6-.9l.7-2.2l.6,.2l.6,1.2l.7-3.5l.6,4.9l.7-1.6l.6,4.7l.6-6.2l.7,4.6l.6-3.4l.6,3.4l.7-4.3l.6,3.8l.6-2.6l.7-1l.6,1.2l.6,1.3l.7-.2l.6,2.1l.6-1.8l.7-7.5l.6,4.5l.7-3.5l.6,2.9l.6,1.8l.7-4.4l.6-.1l.6,2.4l.7-1.4l.6,3.3l.6-3.5l.7-.6l.6,1.2l.6-6.4l.7-1l.6-4.8l.6-1.1l.7-4l.6-10l.7-30.1l.6-69.1l.6-134.8l.7-187.7l.6-144.2l.6,1.6l.7,137.4l.6,184.2l.6,137.8l.7,51.9l.6,6.8l.6-46l.7-76.7l.6-84.8l.6-30.8l.7,53.2l.6,92.4l.6,82l.7,48.9l.6,18.6l.7,4.4l.6,3.6l.6,3.6l.7,1.7l.6,2l.6-.3l.7,3.6l.6-.5l.6,1.3l.7-.1l.6,1.6l.6-3.7l.7,6l.6-2.3l.6,.4l.7,.5l.6,1.3l.7-.7l.6-.9l.6-.9l.7-3l.6,4l.6-1l.7,.1l.6,6l.6-8.8l.7,4l.6,2.6l.6-.4l.7,.7l.6-5.3l.6,.5l.7,3.3l.6-1.7l.7,4.2l.6-3.2l.6-.2l.7,.5l.6-1.6l.6,.7l.7-1.9l.6,1.3l.6-1.2l.7,1.6l.6-3.8l.6-.4l.7,3.8l.6-.8l.6-2.7l.7,1.3l.6-2l.7,6.2l.6-8.1l.6,6.4l.7-6.1l.6,1.9l.6-2.4l.7-1.2l.6,1.5l.6-1.9l.7-4.2l.6-3.8l.6,2.9l.7-6.3l.6-11.1l.6-19.9l.7-47.9l.6-112.2l.6-186l.7-209.9l.6-21.9l.7,20.2l.6,207.1l.6,186.1l.7,102.2l.6,37.8l.6-11.7l.7-63.3l.6-98.6l.6-84.9l.7-16.9l.6,71.1l.6,110.5l.7,81.8l.6,41l.6,23.7l.7,6.9l.6,8l.7-1.5l.6,1.4l.6,2.8l.7,.6l.6-2.5l.6,3.9l.7-.4l.6,4.1l.6,2.5l.7-7.1l.6,.7l.6,.5l.7,.8l.6,0l.6,1.8l.7,2.5l.6-5l.7-.4l.6-.5l.6,6.3l.7,.7l.6-5.8l.6,0l.7,3.9l.6,1.9l.6,.1l.7-1.7l.6,.9l.6-.9l.7-1.8l.6,5.2l.6-3.9l.7-2.2l.6,1.6l.6-2.1l.7,3.3l.6,2.2l.7-4.9l.6,5.1l.6,2.1l.7-3.5l.6-3.2l.6,.6l.7,1.1l.6-1.7l.6-.1l.7,2l.6,.3l.6,1.7l.7-3.8l.6,6.3l.6-1.7l.7-.3l.6-3.2l.7,5l.6-4.3l.6,4.5l.7-1.5l.6-4.1l.6,1.1l.7,4.9l.6-1.9l.6-2.5l.7,.7l.6-.1l.6-2l.7,1l.6-.8l.6,.5l.7,1.8l.6-3l.7,3.5l.6-1.4l.6,1.5l.7,.2l.6,.6l.6-1.1l.7,.3l.6-1.9l.6,1.6l.7-3.1l.6,1.5l.6,1.8l.7-1.7l.6,.9l.6-3.3l.7,4.8l.6-4.4l.7,1.5l.6-2.7l.6-3l.7-8.4l.6-1.2l.6,3.5l.7,8.1l.6,0l.6,4.2l.7,2.1l.6-7.9l.6,1.1l.7,1.1l.6-1.3l.6-2.1l.7,3.1l.6,3.1l.6,1.4l.7,2.6l.6-2.1l.7-3.8l.6,1.8l.6,1.4l.7-2.1l.6,1.3l.6-.4l.7-.5l.6,3.1l.6-2.3l.7-1.3l.6,.7l.6,1.6l.7,4.2l.6-3.8l.6,2.6l.7-2l.6-5.3l.7,5.3l.6-2.6l.6-1.2l.7,.6l.6,6.1l.6-7l.7,2l.6,3.9l.6-1.1l.7-4.9l.6,3.5l.6-.7l.7,.7l.6,2.1l.6-2.8l.7,.5l.6,3.7l.7-7l.6,3.1l.6,1.7l.7-3.5l.6,1.2l.6-1.5l.7,3.1l.6-1.6l.6,3l.7,.5l.6-2l.6-.9l.7,1.4l.6-.4l.6-2.5l.7,4.9l.6-1.8l.6,1.3l.7-4.5l.6,4.8l.7,2.6l.6-3.3l.6-4.5l.7,3.1l.6-.3l.6,.4l.7-1.1l.6,1.6l.6-2.1l.7,1.5l.6-1.9l.6,1.7l.7,1.9l.6-3l.6,2.4l.7-3.4l.6,1.1l.7,.3l.6,3.2l.6-4.3l.7,4.1l.6-5.9l.6,2.9l.7,2.2l.6-.6l.6-3.7l.7-.4l.6,4.3l.6-4.6l.7,4.1l.6-2.4l.6,1l.7,5l.6-1.6l.7-1.5l.6-4.7l.6,3.6l.7-.5l.6-.3l.6,3l.7-6.5l.6,4.2l.6-.3l.7-1.7l.6,5.1l.6-6.3l.7,3l.6,.1l.6-5l.7,1.6l.6,.8l.7,3.8l.6,.5l.6-.9l.7-.7l.6-5l.6,5.1l.7-1.5l.6,3.6l.6,.4l.7,1.6l.6-3.3l.6,.2l.7-4l.6,2.3l.6-2.6l.7,4.6l.6-4.4l.6,2.2l.7-1.5l.6,.7l.7,1.9l.6-2.2l.6,1.6l.7-2.7l.6,5.2l.6-4.3l.7,3.7l.6,2.3l.6-9.6l.7,3.2l.6,1.6l.6,2.9l.7-3.4l.6,1.8l.6-2.4l.7,2.8l.6-3.8l.7,4l.6-8.1l.6,2.3l.7,8l.6-3.6l.6-2.2l.7,6.8l.6-2.4l.6,0l.7-3.4l.6,2l.6-.5l.7-4.5l.6,4.8l.6-1.6l.7,3.2l.6-.1l.7-4.3l.6-.2l.6,1.7l.7,.6l.6-2.2l.6,.5l.7,1.6l.6-.4l.6,1.6l.7-2l.6-2.5l.6-2.2l.7,5.2l.6-2.7l.6-.3l.7-1l.6-6.1l.6-5.6l.7-14.4l.6,4.7l.7,8.3l.6,14l.6,.3l.7-.4l.6,1.2l.6,1.4l.7-3.7l.6-1.1l.6-5.1l.7,1.4l.6-3.9l.6,1.4l.7,10.2l.6,5.4l.6-6.9l.7,9.6l.6-7.4l.7,2.3l.6-3.3l.6,.6l.7-2.2l.6,.5l.6-2.2l.7,7l.6-5l.6,3.1l.7-.1l.6-2.1l.6,1.5l.7-.1l.6-.9l.6,1.3l.7,0l.6-2.3l.7-.5l.6,1l.6,2.1l.7,2.7l.6,.5l.6-2.5l.7,1.1l.6-1.6l.6,2l.7-2.2l.6,.5l.6-1.3l.7,.6l.6,4.1l.6-6.7l.7,2.6l.6-1.3l.7,3.3l.6,1.9l.6-4.7l.7-5.2l.6,7.5l.6-.1l.7-5l.6,3.1l.6,.4l.7-5.1l.6,6.4l.6-.7l.7-.5l.6-3l.6,.8l.7,.1l.6,2.4l.6-3.4l.7,5.1l.6-2.3l.7-5.5l.6,8.3l.6-3.4l.7-1.5l.6,1.4l.6-4.4l.7,4.4l.6-5.8l.6,3.1l.7,5.2l.6-.2l.6-3.5l.7-1.4l.6,4.1l.6-2.2l.7,.5l.6,.8l.7-3.8l.6,4.1l.6-6.5l.7,7.8l.6-6.6l.6,2l.7-.2l.6,3l.6-.2l.7-1l.6,.2l.6-.3l.7-1.2l.6-4.1l.6-.9l.7-.4l.6,4.7l.7-.7l.6-.1l.6,.5l.7-1.5l.6-2.1l.6-1.6l.7-1.5l.6,6.1l.6-1.4l.7-5.7l.6,1.3l.6,.3l.7,1l.6-6.6l.6-.8l.7-1.4l.6-12.2l.6-10.6l.7-31.3l.6-75l.7-117.4l.6-137.7l.6-63.2l.7,57.1l.6,136.7l.6,121l.7,68.2l.6,28.9l.6,4.4l.7-4.3l.6-24.6l.6-52.5l.7-70.7l.6-49.1l.6,3.9l.7,55.1l.6,61.7l.7,23.3l.6-19.8l.6-42.5l.7-40.3l.6-4.7l.6,31.6l.7,40.3l.6,28l.6,9.7l.7-8.3l.6-11.4l.6-10.3l.7-20.1l.6-17.8l.6-19.5l.7,1l.6,18.8l.7,34l.6,30.3l.6,11.1l.7,6.6l.6,6.4l.6,1.2l.7,3.2l.6,2.4l.6,8l.7,5.5l.6,2.2l.6,10.9l.7,7.5l.6,7.4l.6,.8l.7,3.3l.6,7.9l.7-1l.6,4l.6,2.9l.7,2.3l.6,0l.6-1l.7,5.7l.6-2.2l.6,.8l.7,6.4l.6-1.8l.6-3.4l.7,1.8l.6,1.1l.6-.6l.7-2.2l.6,6.4l.6,.3l.7-.8l.6-1.2l.7,1.7l.6,1.2l.6-3.4l.7,1.8l.6-.2l.6,2.9l.7-.6l.6-3.3l.6,1.6l.7,5.3l.6-5.9l.6,2.6l.7-1.6l.6,4.1l.6-2.8l.7-.7l.6-1.5l.7,2.2l.6,2.4l.6-.3l.7-4.2l.6,6.4l.6-4.2l.7-1.8l.6,2.7l.6-1.5l.7,.1l.6-.1l.6,1.2l.7-1.1l.6-2.5l.6,4.8l.7-2.2l.6,3.8l.7-1.4l.6,.3l.6-1l.7,2.3l.6-3.6l.6-1.4l.7,3l.6-6.5l.6,5.1l.7,1.2l.6-1.2l.6,3.8l.7-1.1l.6-1.1l.6-1l.7,3.3l.6-3.9l.6,.5l.7,2.6l.6-.2l.7,3.2l.6-4.9l.6-3.6l.7,5.5l.6,1.3l.6-3l.7,3.9l.6,.5l.6-5.3l.7,.4l.6-1.8l.6,3.9l.7,.3l.6-.1l.6-3.9l.7,1l.6-1.5l.7-.4l.6,.5l.6-.3l.7,2.9l.6,1.3l.6,.3l.7-1.4l.6-1.6"/>
<path id="c2" d="M168.5,728.2l.6-1.6l.7,5l.6-3.3l.6-1.9l.7,3.9l.6-.5l.6-.4l.7,0l.6-1.3l.7,.6l.6-4.3l.6,1.3l.7,.8l.6,3.2l.6,2l.7-3l.6,0l.6,2.8l.7-3.1l.6,2.2l.6-.4l.7-3.6l.6,3.4l.6-.3l.7-2.7l.6,.2l.7-.4l.6,5.4l.6,1.6l.7-3l.6,2l.6-6l.7,5.7l.6,1.2l.6-.7l.7-5.3l.6,4.4l.6-2.6l.7,2.4l.6-3.7l.6,1.3l.7-1.2l.6,2l.6-1.2l.7,2.7l.6-.6l.7-.9l.6-1l.6-.7l.7,.6l.6,1.4l.6-1.4l.7,.3l.6-.7l.6-.1l.7-1.4l.6-2.6l.6,5.1l.7,.1l.6-3.4l.6,5.9l.7-6.6l.6,4.4l.7-1.6l.6,.2l.6,1.8l.7-.4l.6-2l.6-2.3l.7-.3l.6,2.9l.6,3l.7-1.5l.6-1.7l.6,.7l.7,.7l.6,2.1l.6-5.2l.7,3.2l.6-.9l.7-2.3l.6-.5l.6,4.8l.7-2l.6-1l.6,.7l.7,1.9l.6-1.9l.6,3.2l.7-4l.6-1.1l.6,1.6l.7-1.8l.6,1.3l.6,3.3l.7,1l.6-2.4l.6-1l.7-2.4l.6-.2l.7,3.1l.6-.5l.6-1.5l.7,.3l.6,4.3l.6-1.2l.7-1.9l.6,.4l.6,2.2l.7-1.9l.6-.3l.6-3.9l.7-.2l.6-.5l.6-.8l.7,4.5l.6,.7l.7-2.5l.6,2.9l.6-.1l.7-1.1l.6-2.9l.6,6.1l.7-.2l.6-3.9l.6,5.3l.7-4l.6-1.6l.6,.7l.7-2.7l.6,3.2l.6-2.8l.7,5.9l.6-1.8l.7-3.6l.6,3.9l.6-4.6l.7,3.8l.6,.7l.6-.8l.7-2.5l.6,2l.6,.1l.7,.5l.6,3.1l.6,.5l.7,0l.6-4.6l.6-.2l.7,1.3l.6,1l.7-5.2l.6,3l.6,4.8l.7-6.3l.6,1.1l.6,.1l.7,2.5l.6-1.1l.6-.6l.7-2.5l.6,4.4l.6-1.1l.7-1.4l.6,1.3l.6,1.8l.7-4.7l.6-.2l.6,1.1l.7,.3l.6-4.6l.7,5.1l.6,3.8l.6-3.1l.7,2.7l.6-8.1l.6,5.9l.7,2.9l.6,.5l.6-4.6l.7-.6l.6,2.6l.6-3.4l.7,1.8l.6-2.5l.6,3.6l.7-.3l.6,3.3l.7-2.6l.6-2.2l.6,1.2l.7-2.5l.6,2.8l.6-.6l.7,1.2l.6,1.1l.6-6.2l.7,5l.6,.8l.6-4.1l.7,6.6l.6-5.4l.6,6.6l.7-3.7l.6,.5l.7-1.2l.6,1.4l.6-4.2l.7,.3l.6-2.4l.6,5.6l.7-2.6l.6,3.1l.6-.4l.7-4l.6,4.4l.6-.8l.7-.1l.6,.6l.6-.9l.7,.1l.6,2.2l.6-4.4l.7-.5l.6,.9l.7,3.7l.6-2.8l.6,4.6l.7-10.5l.6,4.9l.6,.5l.7,1.4l.6,2.3l.6-3.3l.7-1.7l.6,3.8l.6,1.4l.7-8.8l.6,6.6l.6-.5l.7-2.4l.6,.4l.7,1.4l.6-1l.6-1.7l.7-4.6l.6,0l.6-2.6l.7,3.2l.6-.5l.6,2.2l.7,2.9l.6,.4l.6,1.6l.7-4l.6,3.8l.6-.2l.7-2l.6,.8l.7-5.6l.6,5.9l.6-1.2l.7-4.2l.6,5.6l.6-2.4l.7,1.8l.6-1.5l.6,1.2l.7-1.1l.6-1.4l.6,.9l.7,0l.6-7l.6,3.9l.7-2.3l.6-2.4l.7,3.5l.6-3l.6-7l.7-4.5l.6-3.8l.6-20.4l.7-38.2l.6-82.2l.6-130l.7-178.5l.6-188l.6-59.3l.7,0l.6,0l.6,117.4l.7,141.6l.6,145.8l.6,115.8l.7,87.9l.6,49.5l.7,34.6l.6,8.2l.6,5.3l.7,2.2l.6,2l.6-1.8l.7,11.9l.6-3.8l.6,1.3l.7-2.3l.6,3.6l.6,1.5l.7-.5l.6,1.8l.6-2.6l.7,2.7l.6,1.5l.7-.4l.6-.1l.6-.8l.7-1.6l.6,3.3l.6-1.9l.7-1l.6,3.7l.6-5l.7,2.4l.6,2.7l.6,.7l.7-2.6l.6,1l.6,1l.7-1.3l.6-1.3l.7,2.6l.6-.5l.6-.1l.7,2.1l.6-1.7l.6-1.6l.7,1.5l.6,3.8l.6-5.4l.7,1.1l.6-1.1l.6,2.6l.7-3.4l.6,3.7l.6,.6l.7-3.2l.6,0l.6-1.2l.7,3.3l.6-2.4l.7,1.1l.6,.4l.6-.4l.7,3.1l.6,1.6l.6-7.8l.7,2.8l.6,2.3l.6-2.7l.7,1.2l.6,1.6l.6,2.5l.7-.5l.6-2.9l.6,1l.7-.8l.6,.3l.7-2.1l.6-1.2l.6,3l.7,2.6l.6-.3l.6-5.5l.7,3.5l.6-.7l.6,2.1l.7-2.9l.6,4.2l.6-2.3l.7,1.8l.6,.7l.6-5.7l.7,3.6l.6,3.5l.7-2.9l.6,2.3l.6-1.2l.7-2.1l.6,1.7l.6,1.6l.7,.5l.6,.4l.6-5.3l.7,4.1l.6-4.8l.6,2.7l.7-.1l.6,1.9l.6-.8l.7,2l.6-3.9l.7,3.2l.6-1l.6-.8l.7-2.4l.6,3.6l.6-.6l.7,1l.6-1.7l.6-.4l.7,1.3l.6,.1l.6,.4l.7,2.7l.6-5.2l.6,5.4l.7-10.4l.6,8.2l.6-3.7l.7,5.8l.6-6l.7,4l.6-4.2l.6-.3l.7,4.1l.6,.3l.6-3.2l.7,6.3l.6-5.7l.6,4.2l.7-5.5l.6,.1l.6,2.2l.7-2.2l.6,3l.6-5.4l.7,4.8l.6-1.5l.7-.9l.6,2.3l.6-.9l.7-.4l.6,2.7l.6-1l.7,.1l.6,2.1l.6-2.9l.7,1.8l.6-2.5l.6,2.2l.7-.2l.6-2.1l.6-1.9l.7,.5l.6,.7l.7,3.1l.6-1.4l.6-.4l.7,1.7l.6,.6l.6,1.4l.7-4.1l.6,2.4l.6,.5l.7-3.4l.6,2.4l.6-2.2l.7,1.5l.6,1.6l.6-4.5l.7,1.9l.6,0l.6,1.9l.7-1.6l.6,2.3l.7-2.5l.6,.6l.6,2.6l.7-.5l.6-.3l.6-.3l.7,2.3l.6,.7l.6-3.6l.7-.8l.6-.6l.6,6l.7-5.6l.6-.9l.6,3.3l.7,1.6l.6-4.8l.7,2.5l.6-2.7l.6,1.5l.7,4.9l.6-3.1l.6-.8l.7,.6l.6,.5l.6-.7l.7-2.2l.6,.3l.6,6.5l.7-5.8l.6,4.1l.6-4.1l.7,4.4l.6-1.5l.7-1.9l.6,4.6l.6-6.1l.7,1.5l.6-1.2l.6,.1l.7,.9l.6-1.3l.6,1.2l.7,4l.6-6.9l.6,1l.7,.5l.6,1.1l.6,2.9l.7-.7l.6-.4l.7-.7l.6,4.5l.6-7.2l.7-.1l.6,2.1l.6,.6l.7-1l.6-1.4l.6-.9l.7,2.1l.6-.8l.6,.4l.7-1.4l.6,5.1l.6-1.8l.7,2.9l.6-4.8l.6,1l.7-.5l.6,.5l.7-.5l.6,.5l.6-3.6l.7,3.5l.6,2.1l.6-5.4l.7,3.5l.6,1.9l.6,1.7l.7-2.8l.6,1.2l.6,2.8l.7-.9l.6-3.7l.6-.2l.7,3.6l.6-1.7l.7-1.5l.6,.6l.6,1.3l.7-1l.6,0l.6,.2l.7-2.6l.6,6.8l.6-.9l.7,.6l.6-3.4l.6,.5l.7,.9l.6,.6l.6-5.4l.7,4.5l.6-2.9l.7,2l.6-1.4l.6,5.1l.7-2.5l.6-1.1l.6,2.8l.7-3.1l.6-1.4l.6,1.1l.7-.4l.6,.9l.6,1.6l.7-2l.6,.1l.6,2.4l.7-1.5l.6,1.4l.6-1.8l.7-3l.6,.3l.7-1.1l.6,5.8l.6-1.6l.7-1.8l.6-1.1l.6,3l.7-1.1l.6,1l.6-2.6l.7-.7l.6,5.5l.6-5.2l.7,2.2l.6,2.9l.6-6.6l.7,5.2l.6-1.1l.7-.2l.6,.9l.6-2.8l.7-2.1l.6,8.5l.6-4.6l.7,2.5l.6,.4l.6-1.8l.7,.3l.6,.5l.6,1.9l.7-2.3l.6,1.6l.6-3.2l.7-.2l.6,1.1l.7,.5l.6,.3l.6,2.9l.7-2.3l.6-1.6l.6,4l.7-3.3l.6,.1l.6,.2l.7-1.8l.6-1.7l.6,2.4l.7-1l.6-1.3l.6,1.9l.7-.9l.6-1.1l.7-2.4l.6,3.4l.6,4.1l.7-1.8l.6,.3l.6-2.4l.7,2.3l.6-3.6l.6,.4l.7,2l.6-4l.6,3.2l.7,.3l.6,3l.6-4.9l.7,2.3l.6-2.3l.6,.2l.7-4.5l.6,3.5l.7,4.3l.6-1.3l.6-.6l.7,4.7l.6-4l.6-3.6l.7,2.2l.6,.3l.6,3.4l.7-5.1l.6,2.9l.6,1.4l.7-3.8l.6,1.9l.6-4.4l.7,4.5l.6-4.8l.7,3.6l.6,4.5l.6-2.8l.7-.8l.6,.1l.6,4.2l.7-3.3l.6,.8l.6-3.1l.7-.1l.6-1.2l.6,2l.7-1.2l.6,3.5l.6-.7l.7-1.5l.6-1.1l.7-5l.6,4.7l.6,1.7l.7,.6l.6-7.8l.6,1.2l.7,5l.6-3.5l.6-.1l.7-1.5l.6,2.9l.6-4l.7,2.7l.6,2.8l.6-1.4l.7-1.4l.6,3.3l.6-.2l.7-2.4l.6,3l.7-.2l.6-1.7l.6,2.2l.7-4.5l.6,4.1l.6-2.1l.7-1.6l.6,.7l.6,3.5l.7-3.9l.6,.3l.6-.8l.7-.3l.6,3.3l.6,2.5l.7-2.2l.6-1.8l.7,.2l.6-2.8l.6-.6l.7-1.9l.6,4.9l.6-4.1l.7-1.4l.6-.7l.6,.7l.7-2.8l.6-.3l.6-1.4l.7,.4l.6-7.9l.6-.4l.7-7.9l.6-12l.7-28.5l.6-84.9l.6-180.5l.7-302.5l.6-93.6l.6,0l.7,0l.6,0l.6,0l.7,0l.6,0l.6,0l.7,175.4l.6,211.3l.6,156.6l.7,94.7l.6,46l.7,15.9l.6,11l.6,3.5l.7-3.8l.6,5.4l.6,.5l.7,5.3l.6,1.3l.6-3.5l.7,1.6l.6,2l.6-.2l.7,2.7l.6,.9l.6-.6l.7,1.4l.6,0l.6-2l.7-.5l.6-.7l.7,3.4l.6,.2l.6,.2l.7-2.5l.6-.2l.6,1.5l.7,1.9l.6-1.7l.6-.2l.7-2.2l.6,2.7l.6,.2l.7-3l.6,5.6l.6-5.6l.7,3.7l.6-2.1l.7,.8l.6-2l.6,.5l.7,2.7l.6-2.1l.6-.4l.7,2.5l.6-.4l.6-1.2l.7,0l.6,2.9l.6-3.8l.7,1l.6,.1l.6-3.8l.7-1.1l.6,4.4l.7,1.4l.6-1.5l.6-1.6l.7-.3l.6,2.9l.6-2.5l.7-2.7l.6,4.4l.6-1l.7,.1l.6,1.2l.6,.4l.7-1.6l.6-1.7l.6-4.3l.7,4.7l.6-1.2l.6,2.6l.7-.6l.6-2.4l.7-.6l.6-8.3l.6-6.1l.7-2.1l.6,6.2l.6,4.3l.7,.7l.6-6.1l.6,4.1l.7,6.2l.6-5.5l.6,2.8l.7,.7l.6,1.8l.6,1.8l.7-2.1l.6-3l.7-2l.6,1.4l.6-.4l.7,0l.6-3l.6,4.5l.7-5.5l.6,2l.6-1.7l.7-3.5l.6,1.3l.6-1.1l.7-1.4l.6,.7l.6-3.9l.7,4.9l.6-4.7l.7-6.2l.6-5.5l.6,4.9l.7-5.6l.6-4.6l.6-7.7l.7-8.8l.6-14.9l.6-23.4l.7-80.4l.6-158.2l.6-207.7l.7-180l.6-6.8l.6,113.8l.7,122.9l.6,42.9l.7-5.1l.6,38.2l.6,97.2l.7,102.6l.6,67.3l.6,31.5l.7,1.1l.6,4.1l.6-18.1l.7-43.9l.6-118.6l.6-282.3l.7-153.6l.6,0l.6,0l.7,0l.6,0l.6,0l.7,0l.6,0l.7,0l.6,224.3l.6,213.8l.7,127.7l.6,48.8l.6,27.9l.7,3.8l.6,7.5l.6,11.5l.7,4.4l.6,3.7l.6,4.5l.7,4.5l.6,5.6l.6-2.1l.7,3.2l.6,2.4l.7,3.1l.6,2.1l.6-1.1l.7,5l.6-1.7l.6,3.5l.7,1.5l.6,1.2l.6,4.7l.7,1.3l.6,0l.6,2l.7-3.1l.6,4.4l.6-2.1l.7,1.3l.6,.8l.7-2.7l.6,2.2l.6,1.5l.7,1.7l.6-.6l.6-1.2l.7-.1l.6,3l.6-2.1l.7,.5l.6,2.8l.6,1l.7-1.9l.6-1.8l.6,4.9l.7,1.4l.6-2.1l.6,.3l.7-3.8l.6,7l.7-4l.6,4.2l.6-2.4l.7,1.3l.6,.2l.6-3.2l.7,9.9l.6-8.9l.6,3.6l.7-1.7l.6,1.3l.6,3.6l.7-6.7l.6,4l.6,1.3l.7-.4l.6,.9l.7-2.3l.6-1.8l.6,.9l.7,1.9l.6,2.5l.6-1.3l.7,3.4l.6-2.9l.6,.2l.7,.2l.6-4l.6,5.1l.7-3.5l.6,1.7l.6,5.9l.7-7.4l.6,2.9l.7,.3l.6-.4l.6-.1l.7-1.1l.6,5.6l.6-8.4l.7,2.1l.6,5.3l.6-1.8l.7-2.5l.6-.3l.6,1.3l.7,6.1l.6-4.5l.6-3.2l.7,2.6l.6-1.7l.7,4.5l.6-2.4l.6,2.1l.7-2.3l.6,3.9l.6-3.3l.7-.3l.6-2.8l.6,1.3l.7,1.7l.6-1.7l.6,6.3l.7-5.3l.6-1.6l.6,3.8l.7-3l.6,1.8l.6-1.1l.7-1.4l.6,4.7l.7-2.6l.6,2.1l.6-3l.7-2.4l.6,.4l.6,1.8l.7,.5l.6,.5l.6,1.1l.7-3.5l.6,3l.6-3.1l.7,1.2l.6,6.8l.6-2.7l.7-3.3l.6,4.4l.7-.8l.6-1.2l.6,1.3l.7-3.5l.6,.1l.6-1.5l.7,3.1l.6-3.7l.6,1.5l.7,1.9l.6-1.9l.6,1.8l.7,3.1l.6-6l.6,5l.7-4.4l.6-.6l.7,2.4l.6,1.7l.6-3.9l.7,0l.6,.2l.6-1l.7,1.6l.6-2.2l.6,0l.7-1.7l.6-9.9l.6-11.4l.7-12.9l.6,8.4l.6,19.6l.7,4.1l.6-7.1l.6-4.9l.7,.2l.6,6.4l.7,9l.6,1.9l.6,3l.7-6.2l.6,5.9l.6-1.1l.7-1.6l.6,.7l.6,.2l.7-1.9l.6,1.6l.6,2.8l.7-4.9l.6,2.5l.6-4.1l.7,3.9l.6,2.2l.7-.9l.6,.1l.6-2.4l.7,3.5l.6-3l.6,3.7l.7-1.5l.6-1.3l.6,3.9l.7-3.8l.6,3.1l.6-2l.7-.4l.6,1.9l.6-1.3l.7-1l.6-.3l.7,.6l.6-.3l.6-1l.7-1.5l.6-3.6l.6,5l.7-.3l.6,2.9l.6-1.6l.7,1.4l.6,1.1l.6-4.2l.7-1.8l.6,3.2l.6-3.4l.7,.5l.6,3.3l.7-2.1l.6,.7l.6-5.5l.7,2.4l.6,1.9l.6-5.5l.7,2.4l.6-.1l.6-6.5l.7,7.3l.6-5.7l.6,.2l.7,2.5l.6-8.9l.6,2.7l.7-4.5l.6-2.2l.6-6.6l.7-4.2l.6-26.2l.7-52.4l.6-130.6l.6-254.3l.7-235.4l.6,0l.6,0l.7,0l.6,0l.6,0l.7,0l.6,0l.6,0l.7,39.1l.6,192l.6,208.2l.7,135.7l.6,75l.7,32.6l.6,18.7l.6,4.8l.7,1l.6,2.1l.6,1.5l.7-.5l.6,3.7l.6-.9l.7-1.8l.6-3.5l.6,5.8l.7-4.6l.6-1.9l.6,3.8l.7-3.1l.6-6.7l.7-1l.6,.5l.6-4.2l.7-.7l.6,2.4l.6-3.4l.7-11.3l.6-4l.6-7.2l.7-10.9l.6-14.1l.6-9.3l.7-21.6l.6-23.3l.6-30.5l.7-40.1l.6-33.4l.6-37.8l.7-19.3l.6,10.2l.7,33.8l.6,25.7l.6,11.9l.7,16.5l.6,17l.6,22.5l.7,27.1l.6,24.4l.6,18.5l.7,16l.6,7.9l.6,9.9l.7,8.2l.6,7.1l.6,3.5l.7,2.5l.6,2.4l.7,8.8l.6,2.3l.6-1.3l.7,6.4l.6-1.4l.6,2.6l.7,3.2l.6-2.5l.6,.7l.7-1l.6,5.1l.6,1.3l.7,1.8l.6,.1l.6-.4l.7,2.7l.6-4l.7,3.6l.6,.8l.6-.7l.7,4.6l.6-2.4l.6,2.2l.7-.5l.6-2l.6,4.7l.7-1.6l.6-1.9l.6-.2l.7-1.8l.6,2l.6-.1l.7,1.2l.6-1.1l.7,2.3l.6-1.4l.6-3l.7,2.3l.6-.6l.6-.7l.7,2.3l.6,2.7l.6-4.4l.7-1.7l.6,4l.6,6.7l.7-7.4l.6,2l.6-1.6l.7,2.8l.6,1.1l.6-3.2l.7,3l.6-4.6l.7,2.8l.6-3l.6,3.2l.7-1.6l.6,1.9l.6-2.9l.7,2.9l.6-.2l.6-1.3l.7-.4l.6-.8l.6,1.7l.7,1.7l.6-1l.6,.5l.7,2.2l.6-3.9l.7-.1l.6-3.4l.6-8.8l.7-5.1l.6,4.1l.6,11.8l.7-.4l.6-1.5l.6-1.6l.7-.6l.6,2l.6,1.8l.7,4.5l.6,.4l.6-.4l.7,1.4l.6,0l.7-.8l.6,3.5l.6-4.3l.7,4.1l.6,1.6l.6,0l.7-3.8l.6-1l.6-3l.7,3.2l.6,5.4l.6-8.4l.7,0l.6,5.1l.6-.6l.7-5.3l.6,3.8l.6,.9l.7-3.8l.6,5.3l.7-4.8l.6,5.2l.6-1.7l.7-1.9l.6-2l.6,2.6l.7,.6l.6-.1l.6-.9l.7,.7l.6,2.5l.6-3.6l.7,1.4l.6,1.4l.6-1l.7,1.9l.6,1.6l.7-4.1l.6,1.3l.6-6.6l.7,5.4l.6,2.1l.6-3.8l.7,5.1l.6-6.7l.6,6.9l.7-3.9l.6-1.1l.6,1.1l.7,.3l.6-1.5l.6-.8l.7,1.9l.6,3l.7-1.2l.6,2l.6-4l.7,.4l.6,.1l.6,.9l.7,.8l.6,2.6l.6-2.3l.7-1.1l.6,2.4l.6-4.6l.7-1.1l.6,4.1l.6-1l.7,0l.6,1.5l.7-2.7l.6,.5l.6,1.1l.7,.7l.6,.6l.6-2l.7,.4l.6-5.5l.6,7.7l.7-5.7l.6,3.2l.6,5.5l.7-6.1l.6-2.7l.6,6.9l.7-4.5l.6,.9l.6,0l.7,1.9l.6,.1l.7-1.9l.6,2.6l.6-4.4l.7,3.4l.6-2.7l.6,2.7l.7-2.9l.6,.2l.6,4.3l.7-5.5l.6,0l.6,3.7l.7-1.9l.6-.3l.6,.6l.7,4.6l.6-6.5l.7,1.4l.6,.9l.6-2.5l.7,1.7l.6,1.1l.6-2.9l.7,4.3l.6-4.6l.6,1.9l.7,1.1l.6,5.9l.6-10.4l.7,4.2l.6,4.7l.6-6.5l.7,3.6l.6-1.7l.7-3.5l.6,4l.6-2.7l.7,2.1l.6-3.2l.6,4.6l.7-6.6l.6,4.7l.6,3l.7-1.6l.6-2l.6,.2l.7-.4l.6,6.7l.6-5.9l.7,.2l.6-1.4l.6,.4l.7,2.4l.6-2.6l.7-.5l.6,.7l.6,.4l.7,1.1l.6-1.3l.6,.6l.7-1.2l.6,4.4l.6-2.6l.7-.9l.6,1.3l.6-.6l.7-3.4l.6,2.9l.6,3.9l.7-2.4l.6,1.4l.7-3.8l.6-1.8l.6,1.8l.7,4.3l.6-4.6l.6,.5l.7,4l.6-2.9l.6,.3l.7,1l.6-.7l.6-.7l.7,1.2l.6-2.1l.6,1.4l.7,1.3l.6-3.5l.7,1.7l.6-2l.6,4.1l.7-.4l.6,.7l.6,.3l.7,0l.6-.6l.6-3.2l.7,3.6l.6-3.9l.6,6.8l.7-4.3l.6,.7l.6-4l.7,4.9l.6,.3l.7-5.7l.6,2l.6,.1l.7-.2l.6,4.2l.6,1.7l.7-6.7l.6,4.5l.6-2.7l.7,3.5l.6-8l.6,4.3l.7,3.5l.6-4.2l.6,4.2l.7-3.5l.6,3.5l.6-1.1l.7-2.2l.6-.9l.7,1.2l.6,2.6l.6-2.4l.7-1.4l.6,8.4l.6-10.2l.7,2.6l.6,1.6l.6-3.2l.7,2.2l.6-1l.6-2.1l.7,4.1l.6-3.4l.6,.7l.7,4.1l.6-5.1l.7,3.7l.6,1.1l.6-.4l.7-1.3l.6-1.5l.6-2.5l.7,3.1l.6,.5l.6-2l.7-1.2l.6,3.9l.6-4.2l.7,3l.6-2l.6-2.6l.7,6.9l.6-2.3l.7-.2l.6-4.2l.6,1.7l.7-.8l.6-3l.6,5.7l.7-6.4l.6,6.5l.6-5.5l.7,.2l.6-.2l.6,3.4l.7-2l.6,1l.6-.2l.7-1l.6,1.1l.6-.2l.7,1.4l.6-.1l.7-4.3l.6,3.8l.6,3.7l.7-3.7l.6,.7l.6-1.4l.7,.1l.6,1.1l.6-2.7l.7,2.4l.6-3.4l.6,4l.7-4.4l.6,4.4l.6,.6l.7-6.1l.6,4.5l.7-2.6l.6,2.8l.6-4.3l.7-.3l.6-1l.6,2.1l.7-8.2l.6,3.9l.6-3.5l.7-3.9l.6-3.1l.6-2.5l.7-8.1l.6-14.5l.6-47.7l.7-112.9l.6-218.9l.7-307.4l.6-1.2l.6,0l.7,0l.6,276.3l.6,164.1l.7,8.7l.6-113.6l.6-108.8l.7-.1l.6,119l.6,156.4l.7,117.1l.6,60.5l.6,23.6l.7,12.2l.6-6l.7,7.8l.6,2.9l.6,4.8l.7,0l.6,2.5l.6-3.8l.7,3.3l.6,2.5l.6-.9l.7-.1l.6,1.9l.6,3.2l.7-7.6l.6,8.1l.6-2.5l.7-2.3l.6,3.4l.6-1l.7,2.5l.6-4.1l.7,3.8l.6-3.8l.6,2.6l.7,.8l.6-1.5l.6,1.6l.7-2.5l.6,3.4l.6-3.2l.7-.3l.6,1.4l.6,.2l.7-1.6l.6,3.5l.6-1.9l.7,1.7l.6-4.5l.7,.5l.6,2.3l.6-1.5l.7,1.9l.6,1.6l.6,1.1l.7,.9l.6-1.3l.6-3.2l.7,2.6l.6-2.3l.6,2.2l.7-3.2l.6,5.1l.6-1.9l.7-1.4l.6-2.1l.7,3.6l.6-1.7l.6,1.7l.7-1.9l.6,.4l.6,2.5l.7,2l.6-5.7l.6,2.3l.7,1.2l.6-1.2l.6-.4l.7,5.4l.6-6.2l.6,2.5l.7-1.8l.6,.9l.6-4.7l.7,6.8l.6-2.3l.7-1.6l.6,5.4l.6-4.1l.7-.7l.6-.3l.6,4l.7-2.3l.6-.8l.6-2.1l.7,.7l.6,2.6l.6-.7l.7-4.2l.6,2.2l.6,2.4l.7,5.2l.6-7.2l.7-3.2l.6,6.2l.6-2.8l.7-1.7l.6,4l.6-1.8l.7-1.4l.6-.9l.6,2.6l.7,.4l.6-4l.6,5.6l.7-4.7l.6,5.6l.6-2.4l.7-.9l.6,1.1l.7-1.7l.6,.9l.6,3.4l.7-4.6l.6,2.8l.6-3.6l.7,2l.6,2l.6-4.6l.7,3.3l.6-5.1l.6,2.1l.7,1.5l.6,2.9l.6-.3l.7-3.6l.6,1.9l.7,.7l.6-3.7l.6,4.2l.7,2l.6-.2l.6-3.9l.7,.4l.6-1.1l.6,1.2l.7,.2l.6,2.1l.6-1.4l.7-2.4l.6,3.1l.6-1.3l.7-4.7l.6,.8l.6,2l.7-1.7l.6,4.1l.7,1l.6,2.3l.6-4.4l.7-1.6l.6,.7l.6,2.6l.7,.9l.6-3.4l.6,2.3l.7,1.1l.6-5.5l.6,7l.7-3.4l.6,2.4l.6-1.9l.7-.4l.6,.2l.7,.8l.6,1.4l.6-2.4l.7-1.7l.6,.8l.6-.3l.7,3.6l.6-3.6l.6,5.3l.7-2.8l.6-.6l.6,2.8l.7-3.5l.6,.2l.6,2.3l.7,0l.6-3.9l.7,7.3l.6-3.9l.6-3.7l.7,2.2l.6,2.3l.6-1.5l.7,1.3l.6,2.9l.6-3l.7,2.3l.6-2.9l.6-2.9l.7,4.5l.6-4.4l.6,3.3l.7-.8l.6-3.4l.6,.1l.7,1l.6,.9l.7,1.9l.6-2.7l.6,3.7l.7-2.2l.6-3.1l.6,0l.7,1.4l.6-1.3l.6,.8l.7,1.5l.6-1.2l.6,1.4l.7-3.8l.6-.8l.6-1.2l.7-1l.6,2.6l.7,.7l.6-.8l.6-.1l.7,3.8l.6-7.3l.6,.9l.7-1.2l.6-2.1l.6,3.6l.7-4.5l.6,.5l.6-8.4l.7-.4l.6-13.6l.6-37.6l.7-58.1l.6-99l.7-132.2l.6-143.8l.6-91.7l.7-3.1l.6,83l.6,118.5l.7,104l.6,46.9l.6-6.3l.7-40.1l.6-28.2l.6,17.4l.7,54.6l.6,73.1l.6,64.5l.7,49.6l.6,27.2l.7,9.5l.6,11.2l.6,4.8l.7,.3l.6,4.5l.6-3.1l.7,3.3l.6-3.3l.6,3.2l.7-.8l.6-.5l.6,0l.7,3.5l.6,.7l.6-2l.7-1.1l.6,.8l.6,3.5l.7-3.9l.6,4.9l.7-6l.6,4.4l.6,1l.7,1.3l.6-3.5l.6-.6l.7-1.2l.6,4.9l.6-2.2l.7-.7l.6,.2l.6,1.5l.7-.4l.6,2.4l.6-6.9l.7,6.4l.6-2.8l.7,.9l.6-.7l.6,.5l.7,1.9l.6-1.2l.6-3.5l.7,2.9l.6,0l.6,1l.7-.8l.6-.2l.6,2.4l.7-4.5l.6,6.9l.6-5.6l.7-1l.6,3.9l.7,.6l.6,.3l.6,.6l.7-2.1l.6-.9l.6,.7l.7-.8l.6-1.2l.6,4.4l.7,.4l.6-3.9l.6-.7l.7-.6l.6-2.5l.6,2.2l.7,.4l.6,1.1l.6-2.3l.7-1.9l.6,5.2l.7,1.9l.6-8.8l.6,2.2l.7-.8l.6-6.1l.6,1.4l.7,6.1l.6,1.2l.6-.4l.7,4.5l.6-1l.6-3.6l.7-2.8l.6-.2l.6,3.9l.7-1.5l.6,3.2l.7-2.1l.6-8.8l.6-9.3l.7-12.5l.6-1.9l.6,11.1l.7,13.4l.6,4.4l.6,1.9l.7-1.6l.6-6.3l.6-5.4l.7-1l.6,3l.6,5.8l.7,7.7l.6,.4l.7,1.3l.6-2l.6,2l.7-2.4l.6,4.3l.6,1.4l.7-5.3l.6-3.6l.6,4.5l.7,0l.6,1.5l.6-.2l.7,1l.6,4.8l.6-6.8l.7,.4l.6,1.6l.7-4.6l.6,5.4l.6-3l.7-1.8l.6,1.3l.6,2.8l.7,.5l.6,1.1l.6-1.7l.7-2.6l.6,2.7l.6-1.3l.7,4.9l.6-9.2l.6,7.8l.7-1.8l.6-.6l.6-1l.7-1l.6-1l.7-1.3l.6,7.5l.6-2.4l.7-.8l.6-.7l.6-4.9l.7,3.3l.6,.6l.6,2.1l.7-4.8l.6,2.2l.6-1.8l.7-.2l.6-3.3l.6-1.6l.7-11.8l.6-24l.7-5.8l.6,12.8l.6,11.8l.7,13.5l.6-4.3l.6-6.4l.7-16.5l.6-47.7l.6-56.7l.7-40.9l.6,11.6l.6,44.6l.7,55.1l.6,35.3l.6,10.3l.7-8.5l.6-18.8l.7-23.5l.6-6l.6,12l.7,22.2l.6,25.7l.6,10.2l.7,10.9l.6,.3l.6,2.6l.7-4.2l.6-.1l.6-1.2l.7,5.4l.6-3.6l.6,5.5l.7-2.3l.6,1.3l.6-4.4l.7,1.6l.6,1.7l.7,1.3l.6-4.3l.6,3.6l.7-2.4l.6,3.5l.6-2.1l.7-.1l.6,1.5l.6,1.5l.7-3.1l.6,3.2l.6-4.7l.7,2.5l.6-2.8l.6,2.9l.7-2.2l.6,1.7l.7,1.1l.6-3.3l.6-1.5l.7,3.2l.6,1.6l.6-.7l.7-2.3l.6,3.8l.6-2.4l.7,2.1l.6-3.3l.6,3l.7,1.6l.6-3.8l.6,.8l.7,2.1l.6-.3l.7-.4l.6-1l.6-3l.7,3.1l.6-2.5l.6,2.8l.7-5l.6,7.8l.6,1.1l.7-3l.6-2.8l.6,1.2l.7,2.5l.6-.4l.6-2.7l.7,4l.6-1.1l.7-.4l.6-1.8l.6,.7l.7-1.6l.6,1.8l.6-1.8l.7,3.8l.6-2.4l.6,.4l.7,.2l.6-.1l.6-3.6l.7,5.5l.6-2.4l.6-1.6l.7-.9l.6,.6l.6,.1l.7,1.1l.6-1.9l.7,2l.6-.1l.6-1.9l.7,5.8l.6-5l.6,.9l.7-.6l.6-.7l.6,1.5l.7,1.3l.6-3l.6-1.8l.7,2.7l.6-5.7l.6,4.4l.7-.9l.6,.9l.7-3.9l.6,2l.6-1.7l.7,.7l.6,2.3l.6-1.9l.7-1.1l.6,3.2l.6-2.8l.7-4.6l.6,1.5l.6,2.7l.7-.4l.6-1l.6-.5l.7-3l.6,1.1l.7-2.8l.6,0l.6-1.1l.7-.8l.6-.1l.6-1.1l.7-2.5l.6,2.4l.6-4.7l.7,2.2l.6-3.3l.6-6.9l.7,1.5l.6-8.2l.6,1.8l.7-7.1l.6-8.5l.6-9.5l.7-5.2l.6-12.8l.7-7.5l.6-19l.6-11.8l.7-9.8l.6-6.4l.6,2l.7,6.1l.6,11.3l.6,5.5l.7,9.7l.6,.5l.6,5.3l.7-.3l.6,5.8l.6,7.8l.7,9.5l.6,2.7l.7,10.6l.6,6.9l.6,10.8l.7,.7l.6,7.7l.6,1l.7,1.1l.6,5.8l.6-.4l.7,5.6l.6,1.7l.6,2.4l.7-3.7l.6,6.5l.6-.4l.7-5l.6,9.1l.7-.4l.6-5l.6,3.4l.7-3l.6,3l.6,1.1l.7,1.2l.6-2.8l.6,1.8l.7-1.9l.6,2.3l.6-.8l.7-4.5l.6-1.6l.6-.6l.7,3.5l.6,5l.7-3.2l.6,3.1l.6-3.3l.7,3.2l.6-2.4l.6,.5l.7-2.8l.6,1.8l.6,3.3l.7,.8l.6,1.7l.6-2.7l.7-1l.6,.1l.6,5.7l.7-5.1l.6,1.7l.6-1.3l.7,4l.6-3.2l.7,3.8l.6-3.9l.6,2l.7,1l.6,.6l.6-4.4l.7,1.8l.6,.6l.6-3.7l.7,5.1l.6-.7l.6,.1l.7-4.3l.6,3.1l.6,.4l.7,1l.6-3.4l.7,2.3l.6,2.4l.6-5.4l.7-.2l.6-.1l.6-2.9l.7,1.8l.6,3.3l.6-6.2l.7,.6l.6,1.7l.6-2.8l.7-2.6l.6-3.7l.6-3l.7-5.3l.6-9.3l.7-28.1l.6-64.9l.6-138.2l.7-177.6l.6-147.7l.6,0l.7,141.9l.6,182.7l.6,126.4l.7,58.7l.6-.3l.6-40.2l.7-77.4l.6-83.4l.6-32.2l.7,52l.6,91.4l.6,80.2l.7,45.8l.6,22.2l.7,6.6l.6,5.6l.6,2.5l.7-4.1l.6,4.6l.6-.6l.7-1.6l.6,1.7l.6,1.8l.7,5.1l.6-2.8l.6-.2l.7,.9l.6-1.3l.6,2.2l.7-.5l.6-2.9l.7,2.6l.6,8l.6-5.4l.7-1.4l.6,1.7l.6-3.1l.7,2.2l.6,1.8l.6-5.1l.7,1.9l.6,.8l.6,.1l.7-.4l.6,1.7l.6,1.6l.7-1.3l.6,1.5l.7,.1l.6-3.4l.6,1.9l.7-1.4l.6,2.1l.6-2.2l.7,.3l.6,3.7l.6-4l.7-3.1l.6,3.3l.6-.1l.7-1.8l.6,.9l.6,1.7l.7-3.2l.6,.2l.7-1.6l.6,1.6l.6-1.5l.7-2.4l.6,.9l.6,3.1l.7-8.4l.6-.7l.6,1.7l.7-5.8l.6,3.9l.6-10.9l.7-5l.6-8.1l.6-19.2l.7-60l.6-136.5l.6-230.6l.7-248.8l.6-3.2l.7,0l.6,249.1l.6,221.4l.7,132.4l.6,45.9l.6-16.9l.7-76.3l.6-115.1l.6-112l.7-18.5l.6,83.9l.6,131.6l.7,102.8l.6,60l.6,14.3l.7,10.1l.6,9.9l.7,1.5l.6-4.4l.6,7l.7,1.7l.6,4.1l.6-5.7l.7,3.5l.6,4l.6,0l.7-3.1l.6,1.7l.6-2.3l.7,6.1l.6-3.6l.6,3.7l.7-.7l.6-3.4l.7,1.8l.6,1.8l.6-.2l.7,2.2l.6-.7l.6-1.5l.7,.9l.6-2.7l.6,.4l.7,2.5l.6-.5l.6-2.9l.7,1.9l.6-1.4l.6,.5l.7,3.8l.6-4.7l.6,.4l.7,2.5l.6-.9l.7,.1l.6-3.4l.6,2.8l.7-.8l.6-.8l.6,.6l.7,.4l.6,2.4l.6,2.2l.7-3.5l.6,2.9l.6-2.9l.7-3.3l.6,3.1l.6,2.4l.7,.2l.6-4.6l.7,6.3l.6-6l.6-.1l.7,.5l.6,3.9l.6-2.2l.7,1l.6-6.5l.6,4.7l.7,0l.6,1.8l.6-2.2l.7,3.5l.6-3.8l.6-1.3l.7-.4l.6,5.9l.7-1l.6-3.2l.6,3.9l.7-2.4l.6,.1l.6-2.8l.7,1.9l.6,1.3l.6,.1l.7-1.5l.6,3.1l.6,1.1l.7-4.7l.6,2.3l.6-4l.7,3.8l.6-3l.7,.8l.6-1.2l.6-5.5l.7-2.8l.6-3.8l.6,6.1l.7,6.2l.6,1.1l.6,1.1l.7-.9l.6-1.4l.6,2.2l.7-3.6l.6-1.5l.6,.9l.7-.4l.6,1.9l.6,1.8l.7,0l.6-2.5l.7,7.5l.6-2.5l.6,4l.7-5.8l.6,2.5l.6-.7l.7-.6l.6,2.2l.6-2l.7-.1l.6,.4l.6-4.8l.7,2.9l.6-.1l.6,4.9l.7-2.1l.6,.4l.7-.3l.6-1.7l.6,3.9l.7-3.8l.6-2.5l.6,4l.7,1.2l.6-2.1l.6,.4l.7,1.3l.6,1.2l.6-2l.7,2.3l.6-2.8l.6,3.6l.7-6.9l.6,4.8l.7-1.3l.6-.5l.6-2.8l.7,4.8l.6-2.6l.6-1.6l.7,.7l.6,.9l.6,.9l.7-1.9l.6,.1l.6,2.7l.7-.9l.6,4l.6-4.7l.7,2.4l.6,1.9l.6-3.8l.7,2.6l.6-1.4l.7-.6l.6,3.1l.6-5.3l.7,.8l.6-2.3l.6,3.2l.7,2.1l.6-2.6l.6,2.2l.7-3.3l.6,3.7l.6-2.5l.7-.6l.6,4.2l.6-3.4l.7,1.2l.6-.9l.7,1.3l.6-1.1l.6-2.6l.7,3l.6,.3l.6-.2l.7-1.3l.6,4.2l.6-5l.7,1.8l.6,.2l.6-2.7l.7-.3l.6,3.7l.6,.1l.7-1l.6-3.5l.7,2.5l.6,1l.6,.8l.7,1.3l.6-1.4l.6,1l.7,1.5l.6-7.9l.6,6.6l.7-3l.6,1.9l.6-.5l.7-2.5l.6,.3l.6,2.7l.7-1.3l.6,1.7l.7-2.3l.6,5.1l.6-4.7l.7,4.6l.6-5.8l.6,2.7l.7,1.1l.6-4.9l.6,.6l.7,2.7l.6,1.4l.6,.5l.7-1.7l.6,.9l.6-4.3l.7,1.4l.6,3.9l.6-4.1l.7,.6l.6-3.1l.7,3l.6-3l.6,4.2l.7,2.2l.6-2.2l.6-.5l.7-1.2l.6,1.5l.6-4.2l.7-.8l.6,3l.6-7l.7,3.8l.6,.4l.6,6.1l.7-3l.6-2.1l.7-.1l.6,4.5l.6-1.3l.7-1.1l.6-2.6l.6,2.6l.7,2.2l.6-.2l.6-4.2l.7-.6l.6,1.1l.6,3.5l.7-3.4l.6,.9l.6,2.2l.7-1.7l.6-1l.7,4.6l.6-1.1l.6,.6l.7,.2l.6,1.2l.6-2.9l.7-.4l.6-3.3l.6,3l.7-.7l.6,3.1l.6-.9l.7,1.7l.6-1.1l.6-.2l.7-2.4l.6-3.7l.6-8.4l.7-7.6l.6-2.1l.7,11.2l.6,5.9l.6-1l.7-.6l.6,4.1l.6,.5l.7-.2l.6,1.5l.6-8.1l.7-5.6l.6,4.5l.6,6l.7,4.9l.6-4l.6,2l.7-.1l.6,4l.7-1.6l.6-1.3l.6,1.4l.7-2.3l.6,.4l.6,.4l.7-1.1l.6,.6l.6,1.4l.7-.1l.6,2.5l.6-1.1l.7-2l.6-4.2l.6,1.3l.7,2.1l.6,.2l.7-1.8l.6,1.9l.6,1l.7-1.5l.6,.7l.6,.2l.7-1.2l.6-.4l.6,1.5l.7,.9l.6-2.6l.6-1.9l.7,2.1l.6,2.8l.6-4.1l.7,5.1l.6-3l.7,1.6l.6-1.6l.6,2.7l.7-.9l.6,.6l.6-4.8l.7,5.3l.6-4.7l.6,2.8l.7,1.7l.6-1.4l.6,1.4l.7-.7l.6-.2l.6-1.7l.7,3.8l.6,.2l.6-3.4l.7-.6l.6,2.1l.7-2l.6,1.8l.6,1.4l.7-.4l.6,1.6l.6-2.1l.7-3l.6,.3l.6,2.6l.7,2.7l.6-4.5l.6-1.3l.7,4.5l.6-3.1l.6,1.6l.7,.8l.6-4.2l.7,1.4l.6-.6l.6,1.9l.7,.2l.6-2.4l.6,1.9l.7-4.6l.6,4l.6-.2l.7-.8l.6-3l.6,2.7l.7-2l.6,4.8l.6-3.5l.7,0l.6,0l.7,1.1l.6-1.2l.6,.6l.7-3.1l.6,3.8l.6-3.5l.7,1.9l.6-1.6l.6,1.1l.7-3l.6-3.5l.6-.5l.7,.7l.6,1.7l.6-5.7l.7-1.9l.6-2.2l.6-13.9l.7-24.5l.6-59.6l.7-101.8l.6-107.3l.6-48.3l.7,48.2l.6,104.5l.6,104.5l.7,52.3l.6,22.4l.6,4.5l.7-6.4l.6-17.9l.6-50.1l.7-50.9l.6-42l.6,8.3l.7,45.1l.6,46l.7,24.4l.6-2.5l.6-30.5l.7-24.4l.6-3.6l.6,22.5l.7,26.1l.6,15l.6,2.8l.7-3.9l.6-10.4l.6-3.6l.7-14.3l.6-13.4l.6-9.9l.7-1.3l.6,16l.7,21.3l.6,18.9l.6,7.9l.7,4.1l.6,2.7l.6-.2l.7,2.8l.6,8.3l.6-1.4l.7,5.5l.6,7.1l.6,4.1l.7,5.6l.6,.8l.6,3l.7,7.7l.6-1.7l.7,3.5l.6,2.5l.6-2.6l.7,4.6l.6,.3l.6,3.3l.7-.8l.6-3l.6,6.7l.7-6l.6,4.6l.6-.2l.7,.6l.6,1.8l.6,2l.7-3.4l.6,.9l.6,2.8l.7,0l.6,.8l.7-.5l.6-1l.6-.3l.7,0l.6,2.9l.6,1.3l.7,1l.6-5.9l.6,1.6l.7,.7l.6-.2l.6-1.9l.7,6.5l.6-1.1l.6-3.3l.7-.5l.6,1l.7-2.3l.6,1.9l.6,2.3l.7,1.6l.6-1.5l.6,.9l.7-4.6l.6-4.5l.6,9.4l.7-2.3l.6-.5l.6,3.5l.7-5.3l.6,.1l.6,.4l.7,4.8l.6-1.2l.7-5.4l.6,6.8l.6-3.2l.7,.7l.6-2.4l.6,5.4l.7-2.9l.6,1.7l.6-4.6l.7,3.3l.6-1.2l.6-.7l.7-1.1l.6,.2l.6-.8l.7,.9l.6,1.4l.6,1.2l.7-4.2l.6,1l.7,.7l.6-2l.6,2.8l.7,.1l.6,.1l.6,1.2l.7,1.1l.6-.4l.6-1l.7,.8l.6-2.8l.6-.3l.7,3.2l.6-.4l.6,3.4l.7-4.8l.6-1.4l.7,2.5l.6-1.3l.6-.9l.7,4.5l.6,1l.6-3l.7-2.1l.6,1.8"/>
<path id="c3" d="M168.5,819.1l.6,2.2l.7,2.4l.6-3.2l.6,.1l.7,.1l.6-1.6l.6,2.9l.7-2.3l.6-1l.7,3.4l.6-5.2l.6,3l.7,.3l.6,.8l.6-2.9l.7,1.2l.6,1.8l.6,1.3l.7-1.5l.6,0l.6-1.3l.7,1.8l.6-5.9l.6,7.3l.7,.6l.6-2.2l.7-2.1l.6,4.8l.6-4.2l.7,4.3l.6-3.3l.6-1.1l.7,1.2l.6-.9l.6,1.3l.7,1.2l.6-1.6l.6-.6l.7,.9l.6,.9l.6-.9l.7,1.2l.6,0l.6-.7l.7,.7l.6-1.5l.7,2.4l.6-1.7l.6,1.1l.7-2.1l.6-2.7l.6,2.2l.7,1l.6,.8l.6-.9l.7,3l.6-5.7l.6-.8l.7,3.4l.6-1l.6,1.4l.7,1.2l.6,4.4l.7-8.5l.6,.5l.6,2l.7-2.9l.6,1.5l.6,4.4l.7-2.9l.6,0l.6,2.5l.7-5.9l.6,3.8l.6-.3l.7,.8l.6-2.7l.6,1.1l.7,.6l.6,1.7l.7-3.1l.6,2.8l.6-5.7l.7,5.2l.6,.9l.6-3.4l.7,1.3l.6,.5l.6,.6l.7,1.9l.6-2.2l.6-.9l.7,0l.6,.9l.6,1.2l.7-1.2l.6-1.7l.6,.5l.7-.9l.6-.2l.7,.8l.6-.1l.6,2.7l.7-4.1l.6,2.5l.6-2.5l.7,3.9l.6-.9l.6,2.1l.7-1.4l.6-3.3l.6,2.1l.7-1.5l.6,.3l.6-1l.7,1.3l.6,.7l.7,.1l.6,4.6l.6-5.3l.7,.4l.6-.3l.6-.2l.7-.1l.6,.7l.6-.5l.7,1.9l.6-.7l.6-2.5l.7,1.8l.6,.8l.6-1.1l.7,0l.6,.2l.7,1.6l.6-.8l.6-1.6l.7,1.2l.6,2.5l.6-4.4l.7,3.4l.6-1.9l.6,8.1l.7-6.2l.6-1.1l.6-.4l.7-2.8l.6,2.2l.6,5l.7-3.2l.6-1.3l.7,.6l.6,0l.6-2l.7,2.1l.6,.9l.6-4l.7,2.6l.6-4.9l.6,2.1l.7,5l.6,.7l.6,1.2l.7-6.3l.6,2.5l.6-.5l.7,2.6l.6-1.4l.6-.5l.7,1.1l.6-2.2l.7,2.8l.6-2.5l.6,2.8l.7-1.8l.6,.2l.6-2.8l.7-.8l.6-.1l.6,4.2l.7-5.4l.6,6.9l.6-3.4l.7-2.1l.6,3.5l.6-3.2l.7,2.6l.6-.6l.7,2.8l.6-.6l.6,0l.7-2.8l.6,3.5l.6-2.6l.7,.4l.6,.7l.6-.3l.7-3.2l.6,4l.6-4.4l.7,4l.6-1l.6,.4l.7-2.4l.6,4.2l.7-2.2l.6,1.9l.6-3.1l.7,.1l.6,1.5l.6,1.9l.7-4.5l.6,1.5l.6,.1l.7,.5l.6-.4l.6,3.2l.7-.9l.6-1.4l.6,1.5l.7,.4l.6-3.3l.6-.2l.7,2.7l.6,2.8l.7-9.2l.6,3.5l.6,2.7l.7-3l.6,3.2l.6-1.3l.7-3l.6,1.7l.6,1.6l.7-2.5l.6,3l.6-.5l.7-1.2l.6,1.3l.6-1.5l.7,1.1l.6-2.6l.7,4.8l.6-3.4l.6,2.9l.7,2l.6-1.1l.6-3.3l.7,.2l.6-.5l.6,.7l.7-2.2l.6-2l.6,4.1l.7-.6l.6,2.9l.6,.6l.7-6.5l.6,.7l.7,3.2l.6,.8l.6-2.4l.7-.4l.6-4.2l.6,8.1l.7-6.5l.6,2.2l.6-1l.7-3l.6,3.1l.6,.3l.7-3.7l.6-.4l.6-.2l.7-.5l.6-2l.7-5.7l.6-2.8l.6-2.6l.7-8.7l.6-3.1l.6-6.5l.7-17.3l.6-47.8l.6-156.5l.7-392.4l.6-162l.6,0l.7,0l.6,0l.6,0l.7,73.9l.6,308.7l.6,241.4l.7,111.1l.6,34.8l.7,10.9l.6,10.4l.6,2.5l.7,4.9l.6,1.1l.6,7.9l.7,1l.6-3.1l.6,.5l.7,3.2l.6,2.2l.6,2l.7-2l.6-1.9l.6,3.4l.7,.3l.6-3.4l.7,3.2l.6,.1l.6-1l.7,2.6l.6,1.8l.6,0l.7-3.6l.6,.9l.6,2.7l.7-1.8l.6,.1l.6,5.1l.7-9.4l.6,3.9l.6-.2l.7,1.8l.6,3.5l.7-3.7l.6-.4l.6,1l.7-.7l.6,1.4l.6,4.6l.7-6.5l.6,1.1l.6,.3l.7-4.1l.6,5.6l.6-1.3l.7-3.7l.6,3.5l.6,.7l.7-2.2l.6,3.9l.6-3.3l.7-1.8l.6,4.7l.7-1.8l.6,.7l.6-3.5l.7,.3l.6,.8l.6,1.6l.7,.1l.6,3.2l.6,.3l.7-2.9l.6-.5l.6,4.1l.7-3.5l.6,1.9l.6-3l.7,.7l.6-.4l.7-.8l.6,2.2l.6-2.4l.7,1.6l.6,1l.6,3.7l.7-8.1l.6,4.2l.6,1.2l.7-1.9l.6,2.5l.6-.5l.7-.1l.6-1.8l.6,.5l.7,.1l.6-1.5l.7,2.4l.6-2.4l.6,.5l.7-1l.6,5.1l.6-3.3l.7-.7l.6,3.5l.6-2.5l.7,1.6l.6-1l.6,1.2l.7-.3l.6-4.7l.6,7.4l.7-1l.6-4.8l.7,4.9l.6-2.3l.6,.4l.7,2.4l.6-.7l.6,.2l.7,2.1l.6-1.7l.6-3.5l.7-1.3l.6,4.2l.6-5.2l.7,2.7l.6,0l.6-.7l.7,4.3l.6-2.1l.6-.9l.7,2.1l.6-2.5l.7,3.4l.6,1.6l.6-4.2l.7,0l.6,2.7l.6-6.3l.7,1.6l.6,.5l.6-1.2l.7,3.3l.6,.5l.6-.7l.7,.1l.6,2l.6,.3l.7,.4l.6-3l.7,.4l.6,2.9l.6-2.1l.7,1.6l.6-3.4l.6,1l.7-1.3l.6,1.4l.6,1l.7-1.7l.6,4.8l.6-7.1l.7,4.8l.6-3.9l.6,2.9l.7-2.1l.6,1.6l.7-.2l.6-1.8l.6-.8l.7,1l.6,1.4l.6,1.6l.7,1.6l.6-6.6l.6,4.6l.7-1.8l.6,.9l.6,.7l.7,.9l.6-.7l.6-.9l.7,3.2l.6-2.6l.6-.3l.7,2.2l.6-4.6l.7,.4l.6,4.6l.6-3.2l.7-3.2l.6,5.1l.6,1.1l.7-3.9l.6-1l.6,2.4l.7,.8l.6-1.9l.6-.4l.7,3l.6,.2l.6-4.4l.7,1l.6,1.6l.7-.6l.6,1.7l.6,.4l.7,2.8l.6-2.9l.6,1.1l.7-4.8l.6,1.7l.6,3.5l.7-4.8l.6,5.8l.6-1.5l.7-.6l.6-.3l.6-2.1l.7,.2l.6,1.2l.7,.1l.6,3.5l.6-4.6l.7,.7l.6-2.2l.6,3.8l.7-.3l.6,2.3l.6,1.6l.7-2.7l.6-2.8l.6,2.3l.7,.1l.6-.6l.6-2.1l.7,2.9l.6-3l.7,2l.6-.5l.6-4.7l.7,6.4l.6,3.1l.6-5l.7-.5l.6,3.1l.6-4.6l.7,2.6l.6,.3l.6-1.4l.7,.8l.6-1.7l.6,.6l.7,2.3l.6-2.9l.6,.6l.7-.3l.6,2.4l.7-1.8l.6-1.1l.6,2.4l.7-4.8l.6,.4l.6,4.5l.7,3.2l.6-4.8l.6,1.9l.7-3.3l.6,3l.6,.4l.7,.9l.6-2.4l.6,5.4l.7-5.7l.6,4.9l.7-5.2l.6,3.6l.6,1.1l.7,1.8l.6-4.5l.6-3.1l.7,5.1l.6-2.9l.6-.6l.7,1.2l.6-.6l.6,3.3l.7-1l.6,1.2l.6,.5l.7-2.5l.6,2.2l.7,1l.6,1.3l.6-3.4l.7-.9l.6-1.3l.6,1.1l.7,.7l.6,.4l.6-3.3l.7,1.9l.6,.4l.6-.9l.7,0l.6,2l.6-2.6l.7,2.9l.6-3.1l.6,2.4l.7-2.6l.6,4.5l.7-.9l.6,1.3l.6-4.5l.7-1l.6,0l.6,2.3l.7,2.8l.6-.9l.6-.1l.7-3.6l.6,4.6l.6-.4l.7-2.6l.6-3.9l.6,3.5l.7,1.4l.6,3.3l.7-2.6l.6-.4l.6,3.4l.7,0l.6-2.3l.6,.6l.7,1.1l.6-3.9l.6,2.3l.7-1.6l.6-.9l.6,2.9l.7,1.2l.6,1.5l.6-2.3l.7,.7l.6-2.6l.7-2.6l.6,1.8l.6,1.9l.7-2.1l.6,5.1l.6-1.3l.7-3.1l.6,3.8l.6-2.3l.7,1.9l.6-3.8l.6,2.1l.7-2.1l.6,.4l.6,2.2l.7,1.4l.6-3.7l.7,.2l.6-2.4l.6,1.3l.7,1.4l.6-3.6l.6,1.5l.7-1.5l.6,2.6l.6,1.3l.7-1.1l.6-1.2l.6-1.3l.7-1.3l.6,3.3l.6,3.1l.7-3.8l.6,.6l.6-.8l.7-1.4l.6,4.2l.7-.7l.6-4.3l.6,.4l.7,5.3l.6-4.4l.6,1.5l.7-2l.6,2.6l.6-2.2l.7,.5l.6-.9l.6,6.2l.7,1.3l.6-4.8l.6,.9l.7-.3l.6-.9l.7,0l.6-.6l.6,2.2l.7-4.1l.6,.8l.6,2.8l.7-4.3l.6,5.9l.6-3.8l.7,.8l.6,2.3l.6-2.8l.7,.3l.6-1.4l.6,2.2l.7,.4l.6-3l.7,2.9l.6,.6l.6-1.1l.7-2.6l.6,3.3l.6,.8l.7-4.2l.6-4.1l.6,.2l.7,.2l.6,3.6l.6,1.3l.7-1l.6-3.5l.6,3l.7-.5l.6-1.3l.6-1.1l.7,5.7l.6-5.2l.7,5.8l.6,2l.6-4.7l.7-1.8l.6,.3l.6-.1l.7,2.1l.6,1.2l.6-3.8l.7,.8l.6-.9l.6,3.6l.7-.6l.6-3.9l.6,.9l.7,.6l.6-4.2l.7,2.2l.6,1.2l.6-3.6l.7,3l.6-.9l.6-1.9l.7,2.6l.6-4.8l.6,1.6l.7-2.5l.6,1.3l.6-5.8l.7,.5l.6-2.9l.6-2.8l.7-4.4l.6-13.5l.7-8.7l.6-34.6l.6-134l.7-490.4l.6-117.3l.6,0l.7,0l.6,0l.6,0l.7,0l.6,0l.6,0l.7,0l.6,436.1l.6,258.5l.7,74.9l.6,21l.7,4.5l.6,9.3l.6,0l.7,5.8l.6-1l.6,3.7l.7,0l.6,5.1l.6-4.4l.7,1.6l.6,4.9l.6-.8l.7-1.3l.6,0l.6-1.7l.7,2.5l.6,1.7l.6,2l.7-.2l.6,1.2l.7-2l.6-1.9l.6,.8l.7,3.9l.6-2.6l.6,2.6l.7-5.9l.6,2.3l.6-.4l.7,2.3l.6-2.1l.6-1.1l.7,2.7l.6-4.5l.6,3.6l.7,2l.6-3.5l.7,2.3l.6-1.7l.6,1.1l.7,1.2l.6,.5l.6,0l.7-2.3l.6,4.5l.6-2.2l.7-2.1l.6,4l.6-3.5l.7,4.7l.6-2.1l.6-2l.7-.8l.6-.7l.7,0l.6,.9l.6,3.5l.7-2.4l.6-.6l.6,1l.7-1.6l.6-2l.6-.6l.7,6l.6-3.7l.6,3.7l.7,.5l.6-3.3l.6,.9l.7-2.3l.6,.3l.6,.2l.7-.5l.6,2.1l.7-5.3l.6-2.8l.6-7.6l.7,.9l.6,7.7l.6-3.4l.7,4.6l.6-6l.6,3l.7,2.3l.6,2.1l.6-.8l.7-2.5l.6,9.9l.6-2.5l.7-2.5l.6-3.4l.7,5.1l.6,1.9l.6-2.4l.7-4.9l.6,2.3l.6,1.5l.7-.8l.6,2.2l.6-4.7l.7,.4l.6-4.2l.6,7l.7-1.6l.6-2.8l.6-3.8l.7,4.4l.6-5.9l.7-1.4l.6-3.2l.6-1.2l.7-2.2l.6-4.2l.6-.6l.7-8.3l.6-12.8l.6-27.4l.7-85.8l.6-258.8l.6-404.1l.7,0l.6,0l.6,0l.7,195.5l.6,3.5l.7-124.5l.6,48.1l.6,252.5l.7,238.8l.6,121l.6,42.3l.7,7.4l.6,12.5l.6,8.7l.7,3l.6,2.1l.6,.1l.7,2.3l.6-.2l.6-1.1l.7,5.2l.6,2.2l.6-.9l.7-.1l.6,2.3l.7-.6l.6,2.1l.6-3.1l.7-2.5l.6,5.3l.6,.9l.7-3.3l.6,2.3l.6,1.1l.7-7.2l.6,11.2l.6-3.4l.7-1.8l.6-1.9l.6-1l.7,10.6l.6-7.7l.7,2.1l.6-2.7l.6,.9l.7,2l.6-3.4l.6,2l.7-.2l.6,1.4l.6,.9l.7-2.2l.6,3.5l.6-3.9l.7,.1l.6,1.1l.6-.8l.7,2.2l.6-7.6l.7,2.4l.6-.8l.6,7.6l.7-1l.6-3.2l.6,2.4l.7-4.6l.6,3l.6,3.8l.7-1.9l.6,3.1l.6-5.4l.7,3.5l.6-2.3l.6,.5l.7,0l.6,.9l.6,1.4l.7-2.6l.6,.7l.7-1l.6,.8l.6-2.3l.7,3.8l.6-.7l.6-.8l.7-.5l.6-1.4l.6-.4l.7-.3l.6,.7l.6,3.6l.7-1.2l.6-3.7l.6,1l.7,4.8l.6,.7l.7-1.7l.6,2.8l.6-6.1l.7,2.4l.6-2.2l.6,6.1l.7-3.8l.6,.1l.6-.2l.7-2.3l.6,1.5l.6-4.6l.7,4.2l.6-1.2l.6,3.7l.7,1.2l.6-2.3l.7-2.6l.6-.3l.6,3.9l.7-2.2l.6-.1l.6-1.9l.7,2.8l.6-.2l.6,1.2l.7-3.7l.6,1.9l.6-3.1l.7,3.6l.6-.4l.6-.9l.7,2.6l.6-4.5l.7,6.2l.6-2.5l.6,.3l.7-.7l.6-2l.6,.4l.7,3.3l.6-2l.6,.4l.7-1.7l.6,2.6l.6-.2l.7-4.1l.6,6.9l.6-1.9l.7-.3l.6-1.1l.6-.8l.7,1.9l.6,3.8l.7-5.6l.6-2l.6,2.3l.7,.3l.6,2l.6-4.6l.7,1.8l.6,.3l.6,2.8l.7,.3l.6-1.9l.6,1.8l.7-2.2l.6,.1l.6-5l.7,2.8l.6-.5l.7,3.2l.6-.9l.6-2.3l.7,2.6l.6-.5l.6,1l.7-2l.6-.4l.6,4.1l.7-3.2l.6,2.8l.6-4l.7,1.3l.6-.3l.6-1.5l.7,3.3l.6-4.4l.7,3.3l.6-5.3l.6,5.8l.7-1.6l.6,2l.6,1.5l.7-6.3l.6,.2l.6-4.8l.7-3.4l.6-14.6l.6-28l.7-15.2l.6,15.2l.6,26.9l.7,6.7l.6-5.8l.6-15.1l.7,3.8l.6,10.1l.7,18l.6,5.4l.6,.7l.7,1.1l.6-2.2l.6,2.5l.7,.5l.6,1.9l.6,.7l.7-1.7l.6,.8l.6,1.2l.7-2.7l.6,4.1l.6,2.1l.7-3.4l.6-1.8l.7,1.3l.6,2.2l.6,.3l.7-5.7l.6,3.6l.6-2.1l.7,.5l.6,1.3l.6,.7l.7-1.7l.6-1.2l.6,1.2l.7-1.6l.6,5.7l.6-6.9l.7,4.4l.6-1l.7-.3l.6-2.7l.6,1.3l.7,.3l.6-.6l.6,.5l.7,.6l.6-1.2l.6,1.8l.7,.7l.6-2.7l.6,2.5l.7-1.7l.6-1.3l.6,1.9l.7,1.1l.6-3.3l.7-3.2l.6,5.1l.6,0l.7-4.8l.6,1.9l.6,.8l.7-6.5l.6,6l.6-.6l.7-.7l.6,.6l.6-6.3l.7,2.9l.6,1.2l.6-11.5l.7,1.6l.6-1l.6-7.3l.7-8.2l.6-3.6l.7-15.9l.6-53.2l.6-197l.7-522.2l.6,0l.6,0l.7,0l.6,0l.6,92.4l.7,4.4l.6-96.8l.6,0l.7,0l.6,295.5l.6,324.4l.7,129.4l.6,35.6l.7,12.1l.6,5.8l.6,9.9l.7,.7l.6-1.9l.6,2.5l.7,1.8l.6,1.1l.6,1.1l.7-2.2l.6,7.4l.6-.4l.7,.6l.6-.8l.6,1.2l.7-1.5l.6-3.3l.7,4.7l.6,0l.6-2.7l.7-1.7l.6,7.2l.6-4.5l.7,1.9l.6-.7l.6,5l.7-6.6l.6,5.4l.6-7.4l.7,7.3l.6-3l.6-3.7l.7,5l.6-.2l.6-3.1l.7,3.9l.6-.8l.7,1.1l.6-4l.6,1.4l.7-.5l.6,2.5l.6-1.3l.7-1l.6,5l.6-3.9l.7,3.6l.6-.5l.6-3.1l.7-2.3l.6,4.3l.6,1l.7,1.1l.6-1.6l.7,0l.6-2.4l.6-.3l.7,8.2l.6-4.8l.6-6.9l.7,.4l.6-1.5l.6-3.1l.7,6.1l.6,3l.6,1.7l.7-1.5l.6-4.8l.6,1.4l.7,1.5l.6,2.3l.7,1.7l.6-4l.6,1.8l.7-.7l.6-.4l.6,.5l.7,4.9l.6-.1l.6-.6l.7-6.6l.6,4.2l.6,4.6l.7-4.3l.6-2.3l.6,2.8l.7-1.9l.6-.3l.7,1.3l.6,.4l.6-1.4l.7,.2l.6-2.1l.6,2.1l.7,1.6l.6-1.1l.6-.5l.7-2.5l.6,5.4l.6-4.8l.7,4l.6-2.3l.6,2.5l.7,.4l.6-2.8l.6-6l.7,2.1l.6,2.3l.7,.1l.6,2.6l.6,3.5l.7-2.9l.6-1.6l.6,3l.7-3.1l.6,2.1l.6-1l.7-4.8l.6,6.2l.6,1.6l.7-4.7l.6,2.3l.6-.6l.7-2.1l.6-.8l.7,1.3l.6-8.4l.6-8.3l.7-2.2l.6,5.3l.6,9.4l.7-.7l.6-2.3l.6,1.1l.7-8.5l.6,4.8l.6,5.5l.7,7.1l.6-2.4l.6-2.2l.7,2.8l.6,3.1l.7-6.7l.6,1.1l.6,5.1l.7-1.9l.6-2.4l.6,1.8l.7,.4l.6-2.6l.6,1.2l.7,4.5l.6-2.5l.6,1.5l.7-2.2l.6-1.2l.6,1.8l.7-2.4l.6,2.6l.6-1.6l.7-.3l.6,.1l.7-1.5l.6,5.1l.6-6.1l.7,3.7l.6-3.1l.6,4.5l.7-2.5l.6,.9l.6,.5l.7-.3l.6-.4l.6,.4l.7-.3l.6-2l.6-.7l.7-2l.6-3.9l.7,.5l.6,6.8l.6-3.5l.7,7.3l.6-5.5l.6,1.1l.7-1.8l.6,1l.6,3.2l.7,3l.6-3.5l.6,.4l.7-.7l.6,5.3l.6-1.8l.7-.2l.6-2.3l.7-3.9l.6,5l.6-4.7l.7,2.6l.6,3.2l.6-3.2l.7-.1l.6-2.9l.6,6l.7-.5l.6-1.9l.6,1.9l.7-4.2l.6,1.3l.6,2.5l.7,1.4l.6-2l.7-2.7l.6,1.6l.6,3.1l.7-3.6l.6,1.8l.6,.3l.7-2.1l.6,1.2l.6-3.9l.7,2.4l.6,1.3l.6,1.4l.7,1.5l.6-3.7l.6,1.9l.7-1.3l.6-1.5l.6,.1l.7,1.7l.6,.1l.7-1.7l.6,7.2l.6-5.8l.7,1.4l.6-2l.6,6.3l.7-10.5l.6,4l.6,1.1l.7,2l.6-2.7l.6-1.9l.7,5.4l.6-1.9l.6-1.9l.7,.1l.6,.1l.7,.8l.6-3.9l.6,3.9l.7-1.5l.6,2.5l.6-.5l.7-2.8l.6,4.9l.6-1.3l.7-3.3l.6-.2l.6,.5l.7,2.1l.6,1.8l.6-4.6l.7,.2l.6,2.8l.7-1.2l.6,0l.6-.1l.7-.5l.6,4.3l.6-1.7l.7-2.6l.6,3.3l.6,1.4l.7-3l.6-.3l.6-1.6l.7,1.2l.6,0l.6,2.4l.7-4.6l.6-1.4l.6,2.3l.7,1.7l.6-4.8l.7,3.7l.6-1.4l.6-.6l.7,2.4l.6,2.1l.6-5.2l.7,3.3l.6-.8l.6,1.8l.7-1.3l.6-1.3l.6,3.3l.7-.8l.6-3l.6-2l.7,2.6l.6,1.8l.7,1.1l.6-2.7l.6,.4l.7-3l.6,2.8l.6,1.1l.7-1.4l.6,1.1l.6-2.1l.7,.1l.6,2.5l.6-3.9l.7,3.4l.6,2.5l.6-3.7l.7,.2l.6-.6l.7-.9l.6,1.5l.6-1.5l.7,2.1l.6-.7l.6-1.4l.7,2.5l.6,1.8l.6-.4l.7-2.3l.6,.6l.6-2.1l.7,1.8l.6,1.9l.6,.2l.7,1.1l.6-5.9l.7,6.4l.6-2.4l.6,2.5l.7-3.2l.6,2.6l.6-2.4l.7-2.2l.6,2.8l.6-1.7l.7,.9l.6,.9l.6,.5l.7-.2l.6,.6l.6-5.3l.7,5.7l.6-4l.6,2l.7-1.1l.6-1.4l.7,4l.6-3.8l.6,1l.7,4.2l.6-8.1l.6,1.3l.7,5.3l.6-2.7l.6,2.6l.7-1.7l.6-1l.6,2.3l.7-3l.6,.2l.6,1.5l.7-2.9l.6-.7l.7-.4l.6,5.5l.6,2.1l.7-1.6l.6-3.6l.6,.2l.7-1l.6,2l.6,2.3l.7-2.2l.6,.1l.6-6.8l.7,7.3l.6-3.3l.6,2.1l.7,1l.6-.6l.7,1.1l.6,1.3l.6-9.3l.7-.7l.6,5.2l.6-1.1l.7-.2l.6,2l.6,.9l.7,1.6l.6-4.2l.6,.2l.7-1.9l.6,7.1l.6-1.5l.7-2l.6-1.8l.6,2.9l.7,1.8l.6,2.8l.7-1l.6-4.7l.6-.2l.7-1.4l.6,2.9l.6-2.5l.7,2.7l.6-.6l.6,0l.7-3l.6,4.1l.6-3.1l.7-2.5l.6,2l.6,0l.7-.6l.6,1.5l.7-.1l.6,1.7l.6-5.7l.7,2l.6-8.8l.6,8.2l.7-5.4l.6,.9l.6-5.4l.7-1.3l.6-3.6l.6-7.7l.7-6.9l.6-15.4l.6-15.8l.7-74.1l.6-209.3l.7-390.5l.6-86.7l.6,0l.7,69.8l.6,385.6l.6,173.8l.7-24.1l.6-172.1l.6-183.4l.7-5.9l.6,188l.6,197.6l.7,116.7l.6,37.5l.6,9.5l.7,11.9l.6,8.1l.7-.9l.6-.9l.6,3.6l.7,.1l.6,9.3l.6-3.8l.7-5.2l.6,7.5l.6,0l.7-2.7l.6,1.3l.6,1.5l.7,4.1l.6-4.5l.6-.2l.7,3.7l.6-3.1l.6-.6l.7,2.1l.6,2.1l.7-1.2l.6-1l.6,3.9l.7,.1l.6-6.4l.6,1.1l.7,.7l.6,1.5l.6,1l.7-.3l.6,.4l.6,.9l.7-3.6l.6-1.8l.6,5.3l.7,1.9l.6-2.2l.7-1.2l.6,1.9l.6-1.9l.7-2l.6,2l.6,2.3l.7-1l.6,.7l.6-2.6l.7,2.5l.6,1.7l.6-3.5l.7-.4l.6,3.8l.6-2.4l.7-2.6l.6,1.7l.7,3.7l.6-1.9l.6,3.1l.7-2.5l.6-.8l.6,1.6l.7-3.5l.6,3.5l.6-2.5l.7-.2l.6,1.3l.6-1.9l.7-1.4l.6,.6l.6,3.1l.7-.5l.6-.4l.6,1.4l.7-3.5l.6,1.1l.7,4.3l.6-5.2l.6,4.8l.7-3.2l.6,1.8l.6-.8l.7-1.2l.6,.7l.6,1.8l.7-3.5l.6-.8l.6,3.9l.7-2.7l.6,.4l.6,.1l.7-.3l.6-3l.7,3.5l.6-.9l.6-1.8l.7,1.6l.6,1.6l.6,3.1l.7-4.7l.6,3.8l.6-3.9l.7,1.9l.6-1.4l.6,2.2l.7-1l.6-1.2l.6-2.2l.7,4.9l.6-5.3l.7,1.7l.6,5l.6-3.2l.7-.3l.6,.1l.6,.2l.7-1.2l.6,1.5l.6-1.2l.7-.3l.6,1.7l.6,.3l.7-.7l.6,1.4l.6,2.1l.7-.3l.6-3.3l.7-2.5l.6,4.6l.6-2l.7,1.5l.6-2.3l.6,2.6l.7-4.1l.6,2.7l.6-3.3l.7,6.9l.6-4.8l.6-4.1l.7,6.9l.6-1.3l.6-.8l.7-7.1l.6,3l.6,4l.7-1.4l.6,1.9l.7-1.1l.6-.7l.6,2.6l.7-5.2l.6,2.6l.6,2.3l.7-.4l.6,1.8l.6-5.9l.7,6.6l.6-4.8l.6,2.1l.7-.1l.6,1.7l.6-1.6l.7-.5l.6,2.3l.7,2.8l.6-5.7l.6,.1l.7,.1l.6-1.4l.6,.3l.7,1.6l.6,2.3l.6-2.6l.7-.6l.6,1.5l.6-1.2l.7,7.2l.6-2.4l.6-3.3l.7-3.5l.6,2.2l.7-.7l.6-.1l.6-2.7l.7,3.2l.6-.1l.6-.1l.7-1.4l.6,3.4l.6-2.7l.7-3l.6,2.4l.6,3.8l.7,.6l.6-4.8l.6,2l.7,1.5l.6,.7l.6-2.9l.7,1.4l.6-1.5l.7-3l.6,5.6l.6-2.2l.7,.8l.6-1.4l.6-1.6l.7,.6l.6,1.6l.6-3.5l.7,5.6l.6,1.3l.6-9.8l.7,6.3l.6-3.1l.6,1.8l.7-1.4l.6-1.1l.7,1.8l.6-2.2l.6,2.3l.7-3.2l.6-4.4l.6,1.6l.7-.7l.6-2.8l.6-3.2l.7,4.2l.6-7.3l.6-3.8l.7-8.6l.6-2.8l.6-12.8l.7-25.2l.6-95.6l.7-296.1l.6-363l.6,0l.7,0l.6,0l.6,350.3l.7,272.1l.6,39.4l.6-137.1l.7-282.8l.6-227l.6,51.2l.7,282.1l.6,265.4l.6,130.8l.7,42.5l.6,11.5l.7,5.1l.6,5.9l.6,2.4l.7-.1l.6,3.2l.6,1.5l.7,3.2l.6-3l.6,2l.7,1.6l.6,1.4l.6,5.3l.7-4.7l.6,2.9l.6-.4l.7,1.5l.6,1.1l.6-2.3l.7-3.1l.6,1.4l.7,3.9l.6,1.3l.6-1.8l.7,2.7l.6-3.4l.6-3l.7,2.1l.6,.5l.6,1.5l.7,0l.6-3.7l.6,4.3l.7-3.6l.6,2l.6,.9l.7,.2l.6-.4l.7-2.1l.6,.8l.6,2.2l.7-2.9l.6-1.4l.6-2.7l.7,5.2l.6-1.8l.6,2l.7-2.1l.6,1.4l.6,.3l.7,2.8l.6-3.6l.6-.5l.7,2.7l.6,1.4l.7-3.7l.6,2.8l.6-.8l.7,1.1l.6-4.9l.6,3.9l.7-.7l.6,1l.6-1.8l.7,1.2l.6-4.4l.6,4.6l.7,2.7l.6-2.3l.6-.3l.7,.6l.6,2.1l.6-4.4l.7-1.7l.6,.7l.7,.6l.6,1l.6-.4l.7-6.6l.6-2.5l.6,5.7l.7,3.4l.6-2.2l.6,3.7l.7-2.1l.6-1.4l.6-.9l.7-2.7l.6-1.5l.6,1.8l.7,2l.6,1.6l.7-1.7l.6-5.5l.6-19.4l.7-17.2l.6-3l.6,19.6l.7,19.8l.6,3.8l.6,5.5l.7-4.5l.6-9.4l.6-11l.7-5.5l.6,16.1l.6,9.3l.7,10.3l.6-1.6l.7-2.8l.6-2.6l.6-.9l.7,3l.6,.8l.6-3.1l.7,4.7l.6,.6l.6-4l.7,1.5l.6-2.3l.6,5.3l.7-3.9l.6-.6l.6-2l.7,2.1l.6-1.5l.7,5.7l.6-.8l.6-4.1l.7,.9l.6,1.5l.6,.3l.7-2.5l.6,4.9l.6-1.6l.7,2.8l.6-9.9l.6,2.4l.7,4.5l.6-1.2l.6-1.1l.7-2l.6,3.1l.6-2.2l.7,3.9l.6-.5l.7-.5l.6-5.9l.6,4.3l.7,3l.6,0l.6-1.5l.7-.4l.6-4.2l.6,4.3l.7,.4l.6-3.8l.6-.5l.7-2.6l.6-1.4l.6-6l.7-12.1l.6-25.5l.7-17.9l.6,14.3l.6,23.6l.7,9.9l.6,2.7l.6-8.1l.7-22.8l.6-66.9l.6-108.5l.7-96.2l.6,12.2l.6,106l.7,100.3l.6,50.3l.6,17.9l.7-8.7l.6-37.2l.7-50l.6-25.3l.6,29.9l.7,50.8l.6,36.7l.6,20.3l.7-.2l.6,8.4l.6,.5l.7,3.8l.6-.8l.6,2l.7-1.2l.6,1.9l.6,4.1l.7-4.9l.6-1.1l.6,7l.7-1.1l.6-1.6l.7-.6l.6,1.6l.6-1.5l.7,3l.6-2.7l.6-.5l.7,2.5l.6-2.7l.6,2.9l.7-3.5l.6,1.5l.6,1.8l.7-1.7l.6,3.7l.6-2.3l.7,.7l.6-4.6l.7,5.4l.6-1.1l.6-4.3l.7,4.8l.6,.2l.6-2.1l.7-.9l.6-.7l.6,3.1l.7,.2l.6-.6l.6,4.6l.7-4.5l.6,.3l.6-3.7l.7,3.9l.6,1.4l.7-3.8l.6,6.3l.6-5.6l.7,1.4l.6-1.1l.6,.1l.7-5.4l.6,7.9l.6-6.7l.7,7.3l.6-4.9l.6,1.2l.7,6.4l.6-7.5l.6,1.7l.7-2l.6,2.2l.7,1.1l.6,2.6l.6-8.9l.7,5.4l.6,1.4l.6,.5l.7-3.7l.6,2l.6,3.7l.7-2.9l.6,3.7l.6-7.1l.7,1.1l.6,1.4l.6-2.1l.7,3.6l.6-3.9l.6,3.2l.7-4l.6,1.6l.7,2.3l.6,.8l.6-3.2l.7-1.2l.6,4.3l.6-3.2l.7,2.9l.6,2l.6-1.5l.7-4.6l.6,5.8l.6-.4l.7-3.7l.6,.5l.6,4l.7-2.3l.6,.2l.7,1.4l.6-1.3l.6,4.8l.7-3.1l.6-2.5l.6,.2l.7-.9l.6,3.3l.6-5.1l.7,4.4l.6-3l.6-2.7l.7,6l.6-1.3l.6-.4l.7-1.3l.6,.6l.7-1.4l.6,4.2l.6,.2l.7-3.1l.6,.1l.6,.7l.7,1.4l.6-1.3l.6-1.5l.7,.5l.6,1.1l.6-.8l.7-.3l.6,3.6l.6-1.6l.7,.9l.6-3.9l.6,3.6l.7-1.7l.6-.6l.7-.8l.6,.1l.6,.3l.7,1.2l.6-.5l.6,4.6l.7-3.3l.6-.4l.6-.7l.7-1.5l.6-.1l.6,2.6l.7-4l.6,6.4l.6-.1l.7-6.5l.6,5.7l.7-.3l.6,.1l.6-.8l.7,2.1l.6-5.1l.6,.6l.7,2.2l.6-1.2l.6-3.2l.7,4.9l.6,.5l.6-2.6l.7,1.3l.6,1.1l.6-6.4l.7,3.3l.6-.7l.7,1.5l.6-2.2l.6-.2l.7,3.1l.6,3.2l.6-6.5l.7,5.8l.6-1.4l.6-.1l.7,.5l.6-3.9l.6,1.7l.7-9.5l.6-3.3l.6,2.4l.7,5.5l.6-.6l.7,.4l.6,5.2l.6-.4l.7,.2l.6-3.6l.6-5.2l.7,4.7l.6,1.6l.6,1.4l.7,5.3l.6-3.6l.6,2.7l.7-3.5l.6-5.8l.6,3.8l.7-3.4l.6,5.5l.6,2.9l.7-6l.6,5.1l.7-2.2l.6,2.5l.6-1.1l.7-3l.6,3.2l.6-1.5l.7,1.8l.6,2.1l.6-4.6l.7,3.8l.6-3.8l.6,1.5l.7-1.1l.6-2l.6,1.5l.7-1.4l.6,1.7l.7-3.7l.6-.1l.6,3.4l.7-1.3l.6-.5l.6-.6l.7,.3l.6-2.3l.6-.3l.7-4.9l.6,1.2l.6-4.8l.7-3.6l.6-1.3l.6-2.6l.7-7.5l.6-5.9l.7-20.9l.6-52.3l.6-140.9l.7-261.9l.6-241.6l.6-1.4l.7,245.2l.6,250.1l.6,137.2l.7,43.2l.6,3.1l.6-44.3l.7-98.3l.6-134.7l.6-52.3l.7,93.3l.6,135.6l.6,96.4l.7,38.5l.6,16.4l.7,8.9l.6,3.1l.6,.2l.7-1.4l.6,5.4l.6-3.1l.7,2.8l.6,1.5l.6-.3l.7,2.9l.6-.4l.6-.3l.7,2.7l.6-2.1l.6,4.5l.7-1.2l.6-2.2l.7,2.1l.6-2.2l.6,.2l.7,3.5l.6-5.4l.6,4.5l.7,3.2l.6-8.9l.6,9.8l.7-9.1l.6-.6l.6,.4l.7,2.2l.6,1.3l.6-2.8l.7,3.6l.6,2.2l.7-3.2l.6,1.7l.6,1.1l.7,2.4l.6-4l.6,1.7l.7-.6l.6-.9l.6-1l.7,1.4l.6,.7l.6-4.5l.7,1.6l.6,1.4l.6-.5l.7-.3l.6,2.6l.7-1.5l.6-5.3l.6,5.7l.7-5.5l.6-1.1l.6,3.2l.7-4l.6-4.3l.6,3.3l.7-2.7l.6-3l.6-8l.7-.6l.6-10.5l.6-10l.7-39.2l.6-106.4l.6-256.5l.7-351.5l.6-29.2l.7,28.9l.6,349.5l.6,255.3l.7,100l.6,26.9l.6-12.4l.7-66.4l.6-144.8l.6-163l.7-31.7l.6,135l.6,173.5l.7,98.8l.6,37.2l.6,17.6l.7,5.6l.6,4.5l.7-.4l.6,4.4l.6-1.1l.7,3.7l.6,.8l.6,.5l.7,1.8l.6-1.3l.6,1.4l.7,2.3l.6,2l.6-2l.7,1.1l.6-.4l.6,2.5l.7,1l.6-5.7l.7,2.9l.6-.6l.6,2.7l.7-8.5l.6,4.1l.6-2.3l.7,6.8l.6-2.1l.6,.9l.7-.8l.6-.3l.6,.4l.7-1.7l.6-3.5l.6,5.1l.7-.6l.6-1l.6,.1l.7,4.2l.6-4.3l.7-.7l.6,3.9l.6,1.7l.7-5.9l.6,.7l.6-.2l.7,3.1l.6,.6l.6,1.7l.7-3l.6-.7l.6-.7l.7,3.5l.6-3.5l.6-.5l.7,1.2l.6,.4l.7,.8l.6-2.3l.6,5.1l.7,.5l.6-6.5l.6,2.7l.7-2.6l.6,1.7l.6-2l.7,1.9l.6,1.1l.6-.4l.7-3.4l.6-1.5l.6,.5l.7,6.4l.6-2.8l.7,.4l.6,2.9l.6-5.3l.7,3.1l.6-2.4l.6,1.9l.7-4.6l.6,3.5l.6,.7l.7,.5l.6-3.4l.6,2.5l.7,2.2l.6-2l.6,2l.7-.6l.6-1.3l.7-2.4l.6-2.3l.6-10.3l.7-6.1l.6-.8l.6,11.3l.7,10.6l.6,.3l.6,.3l.7-.4l.6,1.2l.6-.4l.7-7.5l.6-7.4l.6-.9l.7,10.2l.6,3.7l.6,2.3l.7-4l.6,2.6l.7-1.7l.6,.9l.6,1.3l.7-.2l.6,4.9l.6-5.9l.7,1.5l.6-.4l.6,1.8l.7,1.4l.6-3.3l.6-1.9l.7,2.7l.6,1.8l.6-3.2l.7,4.4l.6-4.3l.7,.9l.6,.5l.6,5.1l.7-2.4l.6-1l.6-3l.7-.3l.6,.7l.6,5l.7-.5l.6-2.5l.6-1.9l.7-2.3l.6,2.8l.6,2l.7,.1l.6-.4l.7-2.2l.6,2.6l.6-1.5l.7,2.2l.6-1.4l.6,1.2l.7-.9l.6-1.8l.6,3.6l.7-4.7l.6,3.8l.6-2.5l.7,.2l.6,1.4l.6-1.6l.7-1l.6,.2l.6-.3l.7,2.5l.6,.6l.7-.8l.6-3l.6,3.7l.7,1.6l.6-4.4l.6,.7l.7,3.7l.6-2.2l.6,2.7l.7-3l.6-2.5l.6,3l.7-.2l.6,.8l.6-2.6l.7,.9l.6,5.4l.7-5.5l.6,4.7l.6-5.8l.7,3l.6,.2l.6,1.1l.7-1.9l.6-1.3l.6,1.4l.7-3.4l.6-2.2l.6,1.9l.7,6.9l.6-1.6l.6,2.1l.7-2.9l.6-4.2l.7,.8l.6,2.6l.6-2.5l.7-.1l.6-.3l.6,.7l.7-2.5l.6,5.1l.6-2.3l.7,4.5l.6,.8l.6-3.6l.7,2.4l.6,.1l.6-2l.7-.7l.6,3l.7-1.7l.6-1.7l.6-.6l.7,1.2l.6,2l.6-.6l.7-2.9l.6,1l.6,.7l.7-1.4l.6,.7l.6-1.8l.7,.2l.6,2.5l.6,.1l.7-.9l.6,5.3l.6-5.1l.7,1.8l.6-1l.7-1.8l.6,2.5l.6,.9l.7-2.5l.6,1.1l.6,4.8l.7-8.1l.6,1.4l.6,1.6l.7-1.5l.6-1.5l.6,.7l.7,.5l.6-.1l.6,.8l.7,3.1l.6-2.7l.7-1.1l.6,2.3l.6-.1l.7-3.7l.6,1.1l.6-1.1l.7,3l.6,1.1l.6-2.3l.7,3l.6-4l.6,.5l.7,.8l.6,.6l.6,3.3l.7-6.1l.6,3.5l.7-1.1l.6,2.3l.6-5.2l.7,.7l.6,6l.6-.9l.7-.2l.6-2.7l.6,2.5l.7-2.3l.6-2.5l.6,1.7l.7-.5l.6-1.9l.6,.3l.7-1.4l.6-1.2l.6-7.8l.7-10.2l.6-.1l.7,6l.6,12.3l.6,4l.7,.2l.6-2.4l.6-4.1l.7,5.7l.6-4.2l.6-1.7l.7-10.2l.6,5.6l.6,4l.7,2.7l.6,3.4l.6,1.1l.7,2.3l.6,.1l.7,1.1l.6-.8l.6-2.5l.7,.1l.6,1.2l.6-1l.7-2.7l.6-1l.6,5.9l.7-1.4l.6,4l.6-5.1l.7,3.4l.6-1.9l.6,.6l.7-1l.6,2.1l.7-1.2l.6-2.1l.6,.7l.7-.3l.6,.6l.6,.2l.7-1.1l.6-.2l.6,1.2l.7-3.8l.6,4.6l.6,0l.7-7.3l.6,4.1l.6,2.2l.7-4.8l.6,5.7l.7,1.1l.6-1l.6,.9l.7-2.2l.6,2.1l.6-.3l.7-1.8l.6,.4l.6-3.9l.7,.5l.6,5l.6,.1l.7-3.9l.6-1.4l.6-.9l.7,6.6l.6-1.7l.6,3.3l.7-1.2l.6,1.5l.7-2.7l.6-3.2l.6,.7l.7,3l.6-5.3l.6,4l.7-2.1l.6,3.6l.6-3.9l.7-.3l.6,3.4l.6-8.8l.7,9l.6-1.6l.6-2l.7,2.8l.6-2.4l.7,2.3l.6-1.2l.6,1.6l.7-3.6l.6,.4l.6,5.4l.7-3.2l.6-1l.6-1.5l.7,.6l.6,1.4l.6-3.1l.7,2.3l.6-.7l.6-3.6l.7,4.1l.6,2.2l.7-3.6l.6,.1l.6,.7l.7-2l.6-2.8l.6,3.4l.7-1.5l.6-.9l.6,3.7l.7-3.5l.6-2.9l.6-1.2l.7,3.2l.6-3.7l.6-8.1l.7,1.1l.6-7.8l.6-9l.7-17.7l.6-63.3l.7-147.8l.6-197.7l.6-101.1l.7,99.3l.6,199l.6,140.2l.7,64.4l.6,19.1l.6,.5l.7-4.3l.6-16.2l.6-51.1l.7-95.9l.6-78.1l.6,16l.7,88l.6,86l.7,31.9l.6-18.5l.6-52.1l.7-57.6l.6,2.1l.6,61.9l.7,61.8l.6,32.3l.6,12.6l.7,4.5l.6,1l.6-4.9l.7-5.8l.6-21.6l.6-35.3l.7-15.3l.6,22.7l.7,32.2l.6,20.3l.6,11.3l.7,2.4l.6,5l.6-4.1l.7,6.2l.6-3.7l.6,2.5l.7-1.1l.6,1.9l.6,2l.7-1.2l.6-3.8l.6,2.2l.7,1.1l.6,3.7l.7-4.9l.6,.3l.6-.6l.7,1.6l.6,1.5l.6-3.3l.7,5.2l.6-.3l.6-.9l.7-.3l.6,4.1l.6-7.5l.7,1l.6,5.7l.6-6.7l.7,3.3l.6-1l.6-1.6l.7,0l.6,1.6l.7,1.1l.6,.6l.6,.2l.7-1.2l.6-.2l.6,1.3l.7-2.5l.6-1.4l.6,4.4l.7-6.3l.6,5.7l.6,1.6l.7-5.3l.6-2.1l.6,2.9l.7,2.6l.6-2.8l.7,4.2l.6-.5l.6-3.4l.7,3.6l.6-4.7l.6,2l.7,1.6l.6,2.2l.6-1.2l.7,1.5l.6-6.3l.6,10l.7-8.6l.6,2.4l.6,2.6l.7-2.1l.6,1.5l.7-5.2l.6,.4l.6,1.3l.7-.1l.6,1.4l.6-.9l.7-1.7l.6,3l.6-3.3l.7,1.4l.6,2.2l.6-2.5l.7,1.9l.6,1.4l.6,1.7l.7-.7l.6-.6l.6-.8l.7-3.7l.6,.9l.7-.1l.6,.7l.6,.8l.7-1.7l.6,1.1l.6,3.2l.7-3.4l.6-3l.6,3.4l.7,.3l.6-.5l.6,5.5l.7-2.5l.6,1.6l.6-4.8l.7,3l.6-.9l.7-.7l.6-1.6l.6,2.2l.7-4.7l.6,6.3l.6,3.9l.7-2.8l.6-7.6"/></defs>
<g clip-path="url(#plot)">
<g fill="none" stroke="#000000" stroke-linejoin="miter" stroke-miterlimit="2"><use href="#c0" stroke-width="5.7" stroke-opacity=".45"/><use href="#c0" stroke-width="3.7"/><path stroke-width="3" stroke-opacity=".8" d="M169.8,525v8.2M172.9,522.2v13.4M176.1,524.5v9.3M179.3,524.7v8.7M182.5,520.5v19.7M185.7,525.4v9.1M188.8,522v14.3M192,524.3v11.7M195.2,525v14.2M198.4,525.2v11.8M201.5,523.5v12.1M204.7,519.9v13.8M207.9,523.7v11.1M211.1,522.8v12M214.2,520.7v12.7M217.4,522.5v13.2M220.6,524.2v15.9M223.8,521.8v15.5M226.9,521.7v16.8M230.1,521.5v14.4M233.3,522.5v11.8M236.5,525.3v10.2M239.6,525.2v9.1M242.8,525.2v11.9M246,523.7v15M249.2,525.2v10.6M252.3,523.9v11.3M255.5,520.2v14.2M258.7,522.3v13.7M261.9,523.5v12.5M265.1,524.8v9.8M268.2,520.4v13.7M271.4,523.2v14M274.6,524.4v10.7M277.8,526.8v10.9M280.9,526v8.9M284.1,525.4v9M287.3,525.2v11.2M290.5,523.6v11.6M293.6,520.6v14.9M296.8,524.3v15.9M300,524.4v10.4M303.2,524.4v12.3M306.3,520.3v17.4M309.5,525.1v12.3M312.7,521.9v14.9M315.9,517.9v18.5M319,525.5v11.3M322.2,525.3v11.8M325.4,525.5v11.2M328.6,524.6v9M331.7,520.1v14.9M334.9,521.2v11.4M338.1,522.2v8.7M341.3,520.7v8.1M344.5,513.9v11.3M347.6,483.9v9.3M357.2,490.9v12.9M360.3,515.8v9.6M363.5,521.8v8.7M366.7,522.6v9.6M369.9,522v20.1M373,526.8v12.5M376.2,524.6v13.8M379.4,525.7v13.1M382.6,527v9.9M385.7,524.7v15.8M388.9,527v10.3M392.1,526v15.6M395.3,527.4v9.4M398.4,527.9v8.3M401.6,527.5v11.2M404.8,522.5v19.2M408,527.9v9.8M411.1,528.4v10.9M414.3,528.8v9.5M417.5,526.5v10.9M420.7,528.7v10.4M423.9,527.9v12.8M427,528.8v10.8M430.2,528.8v9.1M433.4,529.7v11.3M436.6,528.6v12.5M439.7,530.6v10.3M442.9,528v12.3M446.1,531.1v12.7M449.3,524.6v16.9M452.4,529.4v14.3M455.6,526v14.5M458.8,528.7v15.1M462,524.3v15M465.1,528.7v10.6M468.3,523.2v14.6M471.5,526.2v16.2M474.7,531.2v10.4M477.8,527.7v16.6M481,529.7v10.5M484.2,530.7v12.1M487.4,531.4v15.1M490.5,530.8v9.5M493.7,529.8v11.1M496.9,531.7v10.1M500.1,530.7v13.1M503.3,531.1v14.1M506.4,532.3v13.5M509.6,527.2v18.6M512.8,530.5v11.5M516,532.1v13M519.1,533.7v9.6M522.3,531.8v12.9M525.5,531.3v10.3M528.7,528.6v15M531.8,532.2v10.4M535,531.4v11.3M538.2,530.6v11.5M541.4,525.8v16.5M544.5,532.7v13.7M547.7,530.6v14.1M550.9,531.5v13M554.1,533.5v10.4M557.2,533.9v11.6M560.4,534.6v11.4M563.6,534.7v15.1M566.8,533.9v9.4M569.9,532.7v14.5M573.1,530.3v18.4M576.3,533.2v14.2M579.5,534.7v12M582.7,534.7v8.6M585.8,532.9v12.1M589,531.8v11.8M592.2,532.6v10.6M595.4,532v13.6M598.5,532.8v11.9M601.7,532.1v14.4M604.9,530.9v15.9M608.1,533.6v10.5M611.2,528.1v13.2M614.4,532.2v12.5M617.6,526v14.9M620.8,528.5v13.4M623.9,527.6v12.1M627.1,526.5v13.5M630.3,531.4v8.9M633.5,530.4v10.1M636.6,528.5v13.2M639.8,528.3v13.2M643,527.6v12.2M646.2,521.5v13.2M649.3,505.4v15.3M662.1,501.7v13.1M665.2,515.7v16.7M668.4,522.6v14M671.6,524.6v17M674.8,527.8v10.3M677.9,528.7v10.6M681.1,528.6v15.4M684.3,528.6v11.9M687.5,527.6v14.9M690.6,530v10.7M693.8,528.7v10.3M697,527.1v12M700.2,528.2v15.8M703.3,526.3v13M706.5,519.7v20.5M709.7,511v11.7M712.9,515.2v11M716,525.4v12.6M719.2,524.4v11.2M722.4,518.9v13M725.6,520.2v9.7M728.7,513.6v12M731.9,505.3v10.9M760.5,491.4v12.6M763.7,502.3v13.1M766.9,512.7v11.3M770,518.3v9.8M773.2,520.2v12.3M776.4,521.1v12.4M779.6,524.3v12.4M782.7,523.4v11.7M785.9,526.2v13.8M789.1,528.2v9.5M792.3,527.4v9.9M795.4,528.6v13.6M798.6,528.9v14.6M801.8,528v13.1M805,531.6v11.2M808.1,530.6v9.6M811.3,530.9v9.6M814.5,531.1v12.9M817.7,531.7v13.3M820.9,532.8v9.8M824,529.8v14.2M827.2,532.6v12.2M830.4,530.5v11.6M833.6,532.7v14.2M836.7,533.4v11.1M839.9,533.3v10M843.1,532.8v13.2M846.3,534.9v9.3M849.4,532.3v12.6M852.6,534.1v8.6M855.8,533.6v8.9M859,533.5v11M862.1,511.4v10.9M865.3,520.9v14.7M868.5,530.2v13.4M871.7,532v9.9M874.8,532.5v11.3M878,528.3v16.1M881.2,531.6v9.8M884.4,532.5v11.6M887.5,530.7v13.1M890.7,531.8v9.1M893.9,528.4v14.4M897.1,532v8.3M900.3,530v13.8M903.4,529.1v8.8M906.6,520.3v14.3M909.8,514.7v13.5M925.7,506.9v11.4M928.8,512.9v9.3M932,511v10.5M935.2,501.1v11.2M957.4,502.8v12.6M960.6,512.1v11.5M963.8,517.6v14.7M966.9,521v13.5M970.1,523.2v12.3M973.3,527.4v16.1M976.5,529.9v13.8M979.7,532.1v8.1M982.8,531.1v12.7M986,533.1v10.2M989.2,532.6v13.6M992.4,533.9v14.4M995.5,532.4v11M998.7,532.9v11.6M1001.9,533.1v9.6M1005.1,513.2v14.6M1008.2,525v11.9M1011.4,533v10.9M1014.6,530.4v14.4M1017.8,535.5v10.3M1020.9,535.5v9.6M1024.1,534.7v10.4M1027.3,535.9v15.3M1030.5,536.3v9.9M1033.6,534.5v11.3M1036.8,535.5v10.6M1040,533.6v11.1M1043.2,532.2v14.5M1046.3,534.3v11.1M1049.5,534.8v10.4M1052.7,536v9.7M1055.9,535.8v12M1059.1,537.3v9.3M1062.2,538.2v14M1065.4,537.3v12.4M1068.6,533.6v16.2M1071.8,532.8v14.9M1074.9,536v11.9M1078.1,536.4v10M1081.3,534.2v12.1M1084.5,535.8v14.1M1087.6,537.1v14.4M1090.8,529v19.6M1094,537v10.6M1097.2,536.8v9.7M1100.3,537.5v10.7M1103.5,534.8v11.1M1106.7,537.8v7.9M1109.9,537.4v9.6M1113,537.8v9.1M1116.2,533.6v13.8M1119.4,532.3v13.2M1122.6,533.1v15.8M1125.7,536.4v17.5M1128.9,536.6v10M1132.1,536.1v12.3M1135.3,535.7v9.7M1138.5,531.6v16.8M1141.6,537.1v10.1M1144.8,534.3v12.5M1148,536.3v14.7M1151.2,531.5v14.1M1154.3,536.2v9.8M1157.5,529.9v14.5M1160.7,532.8v13.5M1163.9,536.5v8.7M1167,534.8v11.1M1170.2,534.4v13.7M1173.4,535v12.7M1176.6,532.6v12.2M1179.7,532.4v11.3M1182.9,535.5v9.5M1186.1,533.9v9.5M1189.3,531.9v11.7M1192.4,534.2v12.3M1195.6,532.6v11.3M1198.8,527.4v11.3M1202,519.2v12.1M1217.9,522.7v11.9M1221,526.9v14.1M1224.2,530.6v15.7M1227.4,530.1v13.1M1230.6,531.6v11.6M1233.7,532.3v10.8M1236.9,534.8v9.5M1240.1,534v13.5M1243.3,534v12M1246.4,535.8v7.9M1249.6,529.7v20.6M1252.8,534.3v15.1M1256,535.8v9.3M1259.1,525.8v19.9M1262.3,531.9v16.7M1265.5,536v10.3M1268.7,532.3v13M1271.8,537.1v9.6M1275,533.2v14.6M1278.2,536.7v10.2M1281.4,535.1v11.4M1284.5,537.6v8.5M1287.7,536.1v9.9M1290.9,537.4v12.3M1294.1,534.6v11.7M1297.3,532.6v13.1M1300.4,535.2v12.1M1303.6,534.9v11.5M1306.8,529.6v12.3M1310,536.1v15.9M1313.1,529.6v14.1M1316.3,536.8v11.2M1319.5,536.1v16.2M1322.7,533.5v14.8M1325.8,537.3v12M1329,534.4v12.5M1332.2,535.3v12.5M1335.4,535.8v10.9M1338.5,536.5v9M1341.7,537.3v9.8M1344.9,535v10M1348.1,536.1v8.4M1351.2,533.7v15.1M1354.4,533.4v11.2M1357.6,532.4v11.7M1360.8,521.2v20.2M1376.7,516.7v12.1M1379.8,530.8v14.5M1383,532.2v12.8M1386.2,533.5v13M1389.4,531.1v12.5M1392.5,535.2v14.9M1395.7,535.8v12.4M1398.9,534.9v12.2M1402.1,534.4v12.3M1405.2,532.2v14.7M1408.4,535.8v11.3M1411.6,537.1v8.9M1414.8,536v11M1417.9,535.1v10.6M1421.1,532.9v11.9M1424.3,531.3v12.3M1427.5,533.5v11.1M1430.6,530.9v15.7M1433.8,530.4v15.6M1437,494v11.8M1440.2,531.6v9.7M1443.3,530.9v11.8M1446.5,536v10.5M1449.7,535.6v11M1452.9,535.9v14.7M1456.1,534.3v11M1459.2,536.2v11.2M1462.4,536.3v10.2M1465.6,532.8v15.1M1468.8,533.1v11.9M1471.9,534.7v10.6M1475.1,533.3v10.1M1478.3,514.4v12.6M1481.5,520.8v10.3M1494.2,525.5v13.8M1497.3,532.6v12.3M1500.5,535.4v7.9M1503.7,534v11.3M1506.9,532v15.7M1510,533.9v10.8M1513.2,535.7v9.6M1516.4,532.1v15.7M1519.6,534v13.3M1522.7,535.4v13.5M1525.9,533.3v12.9M1529.1,536.4v9.5M1532.3,537v10.8M1535.5,534.1v12.4M1538.6,534.4v11.8M1541.8,532.1v18.8M1545,533.4v11.7M1548.2,532.9v12.6M1551.3,535.4v11.2M1554.5,530.9v12.6M1557.7,533.8v11.8M1560.9,530.6v12.8M1564,531.4v9.2M1567.2,529.1v9.4M1570.4,526.5v12.5M1573.6,521.7v11.4M1576.7,514v12M1579.9,494.6v9.4M1595.8,510.3v9.9M1599,522.3v10.8M1602.1,527.6v11.1M1605.3,527.9v13.4M1608.5,530.2v11.1M1611.7,526.7v11.4M1614.9,529.5v11.4M1618,523.7v14.4M1621.2,532.3v13.4M1624.4,533v11.5M1627.6,533.4v9.6M1630.7,532.7v14M1633.9,533.2v9.6M1637.1,530.4v13M1640.3,532.1v9.7M1643.4,528.6v9.7M1646.6,516.8v12.6M1662.5,523.3v9.4M1665.7,524.5v19.6M1668.8,533.2v11.1M1672,533.5v10.3M1675.2,535.9v8.4M1678.4,534.2v12.6M1681.5,535.5v9.8M1684.7,530.3v14.1M1687.9,532.3v13.2M1691.1,534.4v12.6M1694.3,531.2v13.3M1697.4,526.3v12.4M1700.6,513.8v16.4M1716.5,515.1v12.7M1719.7,530.5v13M1722.8,530.7v16.2M1726,535.3v9.6M1729.2,536.5v11.7M1732.4,533.6v14.6M1735.5,537.9v10.5M1738.7,537v10.2M1741.9,535.5v13.2M1745.1,536.3v18.2M1748.2,538.7v12.9M1751.4,535.8v12.9M1754.6,537.3v11.1M1757.8,537v12M1760.9,539.3v9.3M1764.1,537.7v9.8M1767.3,539.2v11.9M1770.5,538.4v8.8M1773.7,537.5v7.8M1776.8,526.9v11.6M1780,534.4v15.4M1783.2,529.7v12.4M1786.4,534.2v13.7M1789.5,539v10.3M1792.7,538.5v9.2M1795.9,534.9v14M1799.1,536.2v13.2M1802.2,535.2v12.3M1805.4,537.4v12.2M1808.6,533.7v17.8M1811.8,538.5v10M1814.9,539.2v11.5M1818.1,539.1v9.5M1821.3,535.6v17.2M1824.5,539v9.2M1827.6,537.2v10.8M1830.8,537.7v14.8M1834,536.9v12M1837.2,533.7v13.8M1840.3,535.6v19.5M1843.5,535.6v11.9M1846.7,534.1v15.4M1849.9,536.5v14.1M1853.1,535.8v11.2M1856.2,537.2v11.3M1859.4,539.3v8.9M1862.6,537.9v9.2M1865.8,537.1v11M1868.9,533.5v20.5M1872.1,537.3v12.8M1875.3,537v15.1M1878.5,539.5v12.1M1881.6,537.9v11.7M1884.8,538.7v11M1888,540.2v11.4M1891.2,539.6v10.2M1894.3,537.1v13.4M1897.5,533.3v10.1M1900.7,530.1v12.9M1903.9,534.7v14.6M1907,528.9v14.5M1910.2,538.8v10.8M1913.4,536.3v12M1916.6,539.5v9.9M1919.7,538.6v13.4M1922.9,539.9v7.8M1926.1,533.9v14M1929.3,535.9v18.9M1932.5,537.8v10.3M1935.6,537.1v11.7M1938.8,534.6v16M1942,536.1v14.6M1945.2,538.5v10.3M1948.3,537.2v12.2M1951.5,538.2v9M1954.7,533.6v14.2M1957.9,537.2v12.5M1961,537.4v9.8M1964.2,536.4v10.2M1967.4,533.8v14.2M1970.6,533.5v9.9M1973.7,528.3v14.3M1976.9,512.9v13.7M2008.7,503.9v13.2M2011.9,517.7v15.4M2015,528.6v12M2018.2,531.1v13.9M2021.4,531.8v13.7M2024.6,535v15.5M2027.7,535.3v11.8M2030.9,533.2v12.7M2034.1,537.5v10.5M2037.3,537.3v9.1M2040.4,537.2v9.1M2043.6,538.7v10.2M2046.8,538.6v11.2M2050,534.5v16.2M2053.1,539.2v11.4M2056.3,540.1v10.2M2059.5,536.3v13.7M2062.7,540.6v8.3M2065.8,540v13M2069,540.1v9M2072.2,538.4v10.7"/></g>
<g fill="none" stroke="#ff0000" stroke-linejoin="miter" stroke-miterlimit="2"><use href="#c1" stroke-width="5.7" stroke-opacity=".45"/><use href="#c1" stroke-width="3.7"/><path stroke-width="3" stroke-opacity=".8" d="M169.8,613.5v13.6M172.9,618v12.6M176.1,616.7v9.6M179.3,618.1v9.7M182.5,618.4v11.2M185.7,618.7v12.2M188.8,615.9v12.4M192,616.2v11.2M195.2,618.2v11.1M198.4,617.2v11M201.5,615.3v15.4M204.7,617.5v9.1M207.9,618v8.6M211.1,617.3v13.6M214.2,615v15.3M217.4,619.3v9M220.6,615.9v13.3M223.8,616.3v13.5M226.9,618.2v10.2M230.1,614.3v14.2M233.3,614.5v14.6M236.5,614.7v15M239.6,617.5v9.3M242.8,617.5v11.8M246,613.5v14.7M249.2,618.2v9.3M252.3,619.1v8.7M255.5,618.3v15.8M258.7,610.4v18.6M261.9,616.6v12M265.1,618v14.5M268.2,613.9v12.9M271.4,615.5v11.6M274.6,618.2v10.9M277.8,615.2v11.9M280.9,618.7v9.7M284.1,616.4v13.9M287.3,616.2v12.3M290.5,617.3v10.8M293.6,618.2v11.6M296.8,619.3v9.8M300,619.5v8.6M303.2,618.2v9.7M306.3,617.1v11.4M309.5,618v9.9M312.7,618v11.1M315.9,618.6v9M319,616.2v11.4M322.2,613.8v13.2M325.4,617.3v10.6M328.6,616.1v10.8M331.7,617.3v9.8M334.9,617.8v9M338.1,614.4v10.9M341.3,613.8v11.6M344.5,600.9v18.8M347.6,579.4v14.2M357.2,590.1v10.5M360.3,611.8v9.2M363.5,616.1v12.3M366.7,616.6v10.4M369.9,615.6v11.6M373,615.8v12.4M376.2,620.6v9.3M379.4,618.3v11.9M382.6,614.8v15.3M385.7,621.4v11.3M388.9,620.5v9.7M392.1,618.2v16.5M395.3,620.7v12M398.4,618.6v12.4M401.6,619.3v13.3M404.8,620.5v15.9M408,621.9v12.6M411.1,617.1v16.6M414.3,621.4v13.7M417.5,620.9v11.9M420.7,623.3v9.4M423.9,621.8v16.6M427,620.4v16.2M430.2,623.8v12.1M433.4,622.6v9.3M436.6,621.2v10.9M439.7,621.3v13.5M442.9,620.2v13.5M446.1,619.3v13.1M449.3,624.1v14.5M452.4,623.2v12.4M455.6,624v12.7M458.8,624.5v11.8M462,622.2v12.3M465.1,620.8v15.5M468.3,623.6v10.2M471.5,624.4v11.1M474.7,620.7v13.9M477.8,624.4v9.7M481,625.2v12.3M484.2,623.3v11.5M487.4,622.5v14.6M490.5,625.1v10.4M493.7,626.6v9.8M496.9,626.6v11.9M500.1,626.7v15.4M503.3,626.6v11.9M506.4,624.3v12.5M509.6,625.6v10.2M512.8,625.7v9.1M516,626.6v17.7M519.1,624.8v11.5M522.3,624.9v12.8M525.5,625.8v10.9M528.7,621.5v19.3M531.8,628v9.7M535,627.6v9.6M538.2,622.3v17.4M541.4,623.6v14.5M544.5,624.1v13.3M547.7,627.9v11.7M550.9,627.2v12.3M554.1,625.2v16.4M557.2,625.1v11M560.4,623.8v14.7M563.6,623.7v13.6M566.8,622.9v17.1M569.9,628.3v9.6M573.1,627.8v11.1M576.3,624.7v13M579.5,624.9v10.5M582.7,627.2v11.9M585.8,624.3v13.1M589,627v13.1M592.2,627.4v8.8M595.4,622.7v17.1M598.5,622v14.8M601.7,625v14.6M604.9,627.3v11.1M608.1,626.7v13.1M611.2,625.1v11.9M614.4,624.3v11M617.6,624.2v11.8M620.8,622.6v17.3M623.9,616.8v16.6M627.1,625.2v11.6M630.3,622.7v11.4M633.5,621.2v13.1M636.6,624v9.5M639.8,621.5v13.9M643,619v13.5M646.2,616.4v12.3M649.3,603.3v10.3M662.1,597.7v9.7M665.2,614.1v15.8M668.4,618.8v11.8M671.6,622.8v7.8M674.8,623.3v10.2M677.9,624.2v10.2M681.1,624.2v10.8M684.3,623.3v8.8M687.5,623.3v9.6M690.6,622.6v14.4M693.8,622.9v11M697,622.3v11.3M700.2,620.4v10.7M703.3,622.1v9.4M706.5,619.8v9.7M709.7,611v15M712.9,614.2v10M716,618.6v11.6M719.2,614.7v15.4M722.4,616.6v13.7M725.6,612.6v9.8M728.7,606.7v14.9M731.9,600.9v9.3M760.5,585.4v11.7M763.7,595.5v12.1M766.9,600.7v15.4M770,605.3v17M773.2,613.9v9.4M776.4,615.6v11.6M779.6,617.4v13.9M782.7,619.3v10.9M785.9,619.1v9.9M789.1,618.6v12.4M792.3,620.4v11.5M795.4,624v9.9M798.6,617.5v17M801.8,624.9v13.6M805,619.8v15.7M808.1,623v10.3M811.3,623.4v11.1M814.5,626.1v10.2M817.7,625.9v9.4M820.9,622.7v12.8M824,626.4v11.5M827.2,626.8v9.1M830.4,626.6v10.4M833.6,619.4v18.2M836.7,625.1v13M839.9,623.5v16.5M843.1,625.9v10.4M846.3,626.9v12.3M849.4,628v8.2M852.6,623.5v17.8M855.8,626.1v9.5M859,619.7v14.2M862.1,596.9v8.1M865.3,611.1v11M868.5,623.5v9.5M871.7,621.6v17.6M874.8,626v9.7M878,626.7v11.2M881.2,625.6v9.4M884.4,626v10.6M887.5,626.6v7.8M890.7,625.3v9.3M893.9,625.9v9.1M897.1,623.7v9.8M900.3,622.5v12.8M903.4,621.7v8.9M906.6,618.4v13.1M909.8,607v12.9M925.7,604.5v9.2M928.8,608.1v13.3M932,607.1v11.6M935.2,598.6v13.6M957.4,595.9v12.9M960.6,606.3v13M963.8,610v15.7M966.9,618.6v11.3M970.1,619.7v9.9M973.3,622.3v14.1M976.5,623v9.9M979.7,620.7v16.7M982.8,624.8v10.5M986,626.2v12.8M989.2,622.2v17.4M992.4,624.6v12.6M995.5,623.7v15.4M998.7,628.6v8.5M1001.9,624.4v11.3M1005.1,611.3v11M1008.2,621v11M1011.4,628.1v10.1M1014.6,627.5v11.8M1017.8,627.3v15.9M1020.9,630.4v13.1M1024.1,629.4v10M1027.3,630.4v11.7M1030.5,630.1v10M1033.6,626.9v13.4M1036.8,630.2v8.6M1040,625.2v14.4M1043.2,627.9v16M1046.3,630.1v14.7M1049.5,628.7v11M1052.7,629.3v9.2M1055.9,629.3v14.5M1059.1,627.8v13.8M1062.2,629.8v16.1M1065.4,629.1v11.2M1068.6,629.5v9.5M1071.8,629.4v9.1M1074.9,626.8v12.3M1078.1,629v11.3M1081.3,630.1v9M1084.5,629.9v9.7M1087.6,624v15.9M1090.8,626.1v15.8M1094,625.3v14.2M1097.2,628.1v13.1M1100.3,628.6v11M1103.5,628v14M1106.7,630.4v8.8M1109.9,626.2v13.4M1113,627.6v14.2M1116.2,627.4v12.3M1119.4,625.5v16.6M1122.6,625.8v12.3M1125.7,627v15.8M1128.9,629.7v12.2M1132.1,626.1v13.9M1135.3,629.8v8.5M1138.5,629.9v8.7M1141.6,628.8v12M1144.8,627.8v10.9M1148,629v12.5M1151.2,625.6v15.4M1154.3,629.9v12.8M1157.5,630.9v12.6M1160.7,628.8v13.6M1163.9,630.5v9.6M1167,629.1v9.4M1170.2,629.7v12.7M1173.4,627.7v12.3M1176.6,623.5v12.2M1179.7,625.5v13.1M1182.9,628.2v11.5M1186.1,628.5v10M1189.3,623.7v13.6M1192.4,625.9v10.1M1195.6,622.9v11.7M1198.8,622.3v11.2M1202,613.2v9.4M1217.9,606.5v20.6M1221,624.5v8.2M1224.2,626v8.7M1227.4,627.5v12.1M1230.6,628.6v8.3M1233.7,629.2v12M1236.9,629.2v11.7M1240.1,629.1v12.5M1243.3,627.5v11.1M1246.4,628.4v10.8M1249.6,629.2v10.6M1252.8,628.6v16.4M1256,628.1v12.3M1259.1,629v12.7M1262.3,626.4v15.4M1265.5,628.8v12.2M1268.7,629.7v8.6M1271.8,630.3v9.9M1275,627.7v14.7M1278.2,627.3v11.3M1281.4,627.7v10.9M1284.5,627.9v11.7M1287.7,628.8v12.9M1290.9,630.6v9.5M1294.1,629.7v11.1M1297.3,629.4v12.5M1300.4,629v14.7M1303.6,628.6v11.9M1306.8,624.1v12.9M1310,627.8v11.4M1313.1,626.4v14.7M1316.3,629v12.8M1319.5,629.9v10.5M1322.7,629.7v9.4M1325.8,629.8v10.8M1329,630.7v10.2M1332.2,628.3v12.5M1335.4,628.1v11.9M1338.5,630.1v11.3M1341.7,625.8v14.7M1344.9,626.4v13.2M1348.1,629.8v8.7M1351.2,628.4v9.6M1354.4,623.7v13.2M1357.6,626.4v10M1360.8,619.1v13.4M1376.7,609.6v9.5M1379.8,624.7v14.3M1383,623.8v14.9M1386.2,628.1v13.8M1389.4,624.2v16.5M1392.5,629v17M1395.7,628.2v11M1398.9,630v8.9M1402.1,629.6v8.4M1405.2,628.5v12.2M1408.4,629.5v11.1M1411.6,629.5v10.1M1414.8,628.5v10.3M1417.9,628.4v12.1M1421.1,627v16.3M1424.3,627.1v11.4M1427.5,625.6v12.5M1430.6,624.2v14M1433.8,625.8v10.6M1437,595v11.4M1440.2,623.2v11.9M1443.3,619.4v14.6M1446.5,628.5v14.7M1449.7,630v15.5M1452.9,630.5v13M1456.1,622.9v17.2M1459.2,628.7v11.4M1462.4,628.4v12.1M1465.6,630.8v9.8M1468.8,626.6v12.6M1471.9,625.9v14.5M1475.1,626.4v9.9M1478.3,604.7v16.6M1481.5,613.6v14.2M1494.2,616v13.4M1497.3,627.5v10.9M1500.5,625.5v13.9M1503.7,629.6v9.4M1506.9,629.9v10.1M1510,627.6v10.5M1513.2,630.1v8.5M1516.4,624.6v19.7M1519.6,627.1v12.4M1522.7,630v11.7M1525.9,626.2v17.4M1529.1,627.9v11.7M1532.3,629.1v11.1M1535.5,629.3v10.9M1538.6,627.9v10.3M1541.8,628v9.7M1545,628.4v11.8M1548.2,625.8v11.9M1551.3,625.7v13.7M1554.5,622.7v15.1M1557.7,627.3v10.4M1560.9,624v14.4M1564,621.1v14.4M1567.2,623.5v10.2M1570.4,618.7v11.1M1573.6,613.8v11.7M1576.7,607.2v10.9M1579.9,586.5v13.2M1595.8,601.5v9.2M1599,612.5v12.8M1602.1,616.5v15.7M1605.3,619.5v13.6M1608.5,624.3v9.9M1611.7,619.4v9.1M1614.9,623.6v12.1M1618,622.9v11.6M1621.2,623.2v18.3M1624.4,626.1v15M1627.6,626.2v15.3M1630.7,627.6v12.7M1633.9,628.6v11.3M1637.1,624.5v15.2M1640.3,626.5v8.2M1643.4,624.1v9.2M1646.6,613.4v15.9M1662.5,617.2v9.5M1665.7,623.6v16.3M1668.8,628.3v9.7M1672,627.1v12.9M1675.2,629v9.5M1678.4,627.9v13.6M1681.5,629.2v10.7M1684.7,626.1v17.6M1687.9,630.1v14.3M1691.1,628.1v10M1694.3,622.6v20.4M1697.4,624.1v10M1700.6,614.5v10.4M1716.5,612.7v12.3M1719.7,625.2v8.4M1722.8,627.4v9.2M1726,626.8v13.3M1729.2,630.3v10M1732.4,631.2v9.3M1735.5,631.7v8.2M1738.7,630.1v13.1M1741.9,631.8v8.5M1745.1,629.7v11.2M1748.2,631.7v11.7M1751.4,632.6v8.4M1754.6,631.1v10.3M1757.8,630v11.2M1760.9,633v10.3M1764.1,631.9v9.2M1767.3,631.2v10.8M1770.5,631.5v13.7M1773.7,630.9v10.6M1776.8,622.7v10.4M1780,626.2v13.5M1783.2,625v11.3M1786.4,626.7v16.1M1789.5,632.9v9.1M1792.7,628.5v13.6M1795.9,625.7v17.6M1799.1,633v16.2M1802.2,631.1v11.8M1805.4,633.4v9.7M1808.6,631.2v10.8M1811.8,631.4v15.4M1814.9,626.7v15.8M1818.1,632.6v13.9M1821.3,632.7v12.3M1824.5,632.1v10.2M1827.6,631.9v13M1830.8,633.4v8.9M1834,632.9v10.4M1837.2,629.9v12.6M1840.3,632.7v11.8M1843.5,633.4v9.7M1846.7,629.3v12.1M1849.9,633v14.4M1853.1,626.8v19M1856.2,631.1v14.3M1859.4,632.9v10.9M1862.6,629.4v12.2M1865.8,632.3v8.8M1868.9,629.7v14.1M1872.1,632.2v12.9M1875.3,633.2v10.1M1878.5,632.5v9M1881.6,630v13.2M1884.8,631.4v13.2M1888,630.3v11.2M1891.2,631.5v10.5M1894.3,628.7v13.6M1897.5,625.8v9.8M1900.7,625.5v8.4M1903.9,630.6v12.4M1907,624.6v14.3M1910.2,632.6v9.7M1913.4,629.6v11.2M1916.6,630.8v11.4M1919.7,627.1v16M1922.9,631.5v10.3M1926.1,631.9v9.4M1929.3,631.8v11.6M1932.5,632.8v8.9M1935.6,629v16.7M1938.8,630.4v12.3M1942,628.1v14M1945.2,629.5v11.8M1948.3,627.2v14.4M1951.5,631.5v9M1954.7,625.6v13.4M1957.9,628.2v13.5M1961,629.7v10.5M1964.2,628v11.7M1967.4,627.9v10.4M1970.6,621.2v18.4M1973.7,620.8v9.2M1976.9,603.7v14.9M2008.7,588.6v14.5M2011.9,610.1v11.3M2015,618.3v9.3M2018.2,623.1v9M2021.4,624.3v13.3M2024.6,628.1v10.1M2027.7,628.8v15M2030.9,626.6v19.4M2034.1,629.5v12.4M2037.3,627.2v14M2040.4,627.8v12.7M2043.6,631.8v9.5M2046.8,629.3v13.9M2050,627.8v14.8M2053.1,629.6v15.7M2056.3,632.5v11.2M2059.5,627.9v15.6M2062.7,633.3v10.6M2065.8,628.6v15.9M2069,633.1v9.9M2072.2,633.2v9.7"/></g>
<g fill="none" stroke="#0000ff" stroke-linejoin="miter" stroke-miterlimit="2"><use href="#c2" stroke-width="5.7" stroke-opacity=".45"/><use href="#c2" stroke-width="3.7"/><path stroke-width="3" stroke-opacity=".8" d="M169.8,723.5v10.1M172.9,720.3v14M176.1,723.9v9.4M179.3,724.9v12.3M182.5,718.8v15.3M185.7,725.2v9.9M188.8,725.5v10.4M192,723.1v13.1M195.2,719.5v15.3M198.4,723.6v16.7M201.5,722.6v12.2M204.7,722.9v12.2M207.9,723.7v10.8M211.1,721.1v15.2M214.2,723.8v11.2M217.4,718.5v14.4M220.6,719.5v14.5M223.8,723.9v10.7M226.9,720.2v14.7M230.1,720.7v12.5M233.3,723.4v15.8M236.5,718.8v15.3M239.6,723.1v12.2M242.8,720.5v14.3M246,722.2v18.3M249.2,724v10.7M252.3,722.8v13.7M255.5,722.5v16.3M258.7,722.5v13.8M261.9,724.6v10.6M265.1,723.6v9.7M268.2,724.2v13.7M271.4,721.7v14.8M274.6,721.4v13.8M277.8,721.4v12.8M280.9,720.2v13.9M284.1,718.1v18.8M287.3,723.2v13.3M290.5,725v8.3M293.6,722.8v12.4M296.8,721.9v11.4M300,722.3v12.1M303.2,724.7v10.1M306.3,721.5v12.7M309.5,725.3v13.5M312.7,716.4v22.2M315.9,724.8v9.2M319,723.2v10.5M322.2,722.4v13.9M325.4,709.8v17.5M328.6,719.1v11.4M331.7,720.3v13.7M334.9,719.1v13.8M338.1,721.1v10.9M341.3,715.3v12.4M344.5,713.5v11M357.2,689v10.4M360.3,713.2v15M363.5,717.6v13.8M366.7,722.1v11.8M369.9,724.5v10.3M373,721.1v20M376.2,722.5v13.5M379.4,724.7v9.5M382.6,726.1v11.6M385.7,726.7v12.6M388.9,725.6v14.7M392.1,727.5v9M395.3,723.2v13.2M398.4,726.3v11.1M401.6,725.3v11.8M404.8,725.9v12.1M408,723.8v15.6M411.1,729.3v10.8M414.3,728.8v10.6M417.5,725.1v13.4M420.7,722.9v15.5M423.9,727.5v12.7M427,727.7v13.6M430.2,729.1v8.8M433.4,729v9.8M436.6,727.8v12M439.7,728.7v9.4M442.9,726v14.6M446.1,730v12.5M449.3,726.3v13.4M452.4,728.4v11.1M455.6,728.5v9.8M458.8,726.5v13.6M462,726v12.8M465.1,729v11.7M468.3,726.7v16.1M471.5,725.7v18.6M474.7,726.3v17.2M477.8,731.3v8.7M481,729.1v14.6M484.2,731v9.1M487.4,730.8v9.9M490.5,729.7v12.2M493.7,730.6v14.5M496.9,730.2v12M500.1,730.7v12.4M503.3,730.1v12.8M506.4,726.5v14.6M509.6,731.6v8.2M512.8,731.7v10.2M516,729.5v16M519.1,731v14.8M522.3,731.1v13.6M525.5,729.9v11.1M528.7,730.4v11.5M531.8,732.9v14.6M535,730.5v13.7M538.2,732.4v9.6M541.4,732.8v9.8M544.5,731.2v11.5M547.7,730.1v15.6M550.9,733.2v9M554.1,732.8v11.6M557.2,731.3v14M560.4,731.5v11.9M563.6,729.3v14.2M566.8,728.6v15.1M569.9,729.7v12.6M573.1,733.6v13.3M576.3,729v14.7M579.5,732.6v12.3M582.7,733.2v16M585.8,732.8v13.4M589,732.3v8.9M592.2,731.8v11.5M595.4,731.1v14.5M598.5,732.7v11.6M601.7,731.9v11.7M604.9,733.5v11.3M608.1,729.7v17.1M611.2,729.7v13.2M614.4,731.6v10.3M617.6,733v14.6M620.8,732v12.9M623.9,729.8v11.6M627.1,722.8v16.6M630.3,729.3v14.2M633.5,726.2v14M636.6,729.9v10.6M639.8,728.1v9.1M643,723.9v14.5M646.2,717.8v14.2M649.3,703v18.6M662.1,703.6v14.7M665.2,720.7v12.1M668.4,721.2v13.4M671.6,727.1v11.3M674.8,727.2v8.6M677.9,725.1v12.5M681.1,725.4v11.6M684.3,723.1v16.9M687.5,725v13.3M690.6,727.7v9.1M693.8,727.5v8.2M697,725v11.7M700.2,723.1v14.1M703.3,720.4v18.7M706.5,723.2v12.6M709.7,713v10.5M712.9,713.6v11.7M716,715.6v12.9M719.2,716.8v12.7M722.4,711.8v13.6M725.6,707.5v14.4M728.7,707.8v10.7M731.9,696.6v10.8M763.7,688.1v14.2M766.9,700.9v10.1M770,708.2v9.5M773.2,709.5v15M776.4,716.4v13.5M779.6,719.6v8.4M782.7,718.9v11.7M785.9,715.2v16.9M789.1,723v12.3M792.3,724.1v10.9M795.4,726.7v10.9M798.6,719.6v20.4M801.8,724.5v16.7M805,727.1v10.5M808.1,728.7v13.7M811.3,728.3v12.5M814.5,729.5v9.5M817.7,726v15.1M820.9,729.1v10.4M824,730.4v13.5M827.2,727.4v16M830.4,731.2v11.3M833.6,729.1v15.1M836.7,727.1v16.4M839.9,730.3v11.2M843.1,727.3v13.2M846.3,731.1v10.3M849.4,727v13.9M852.6,730.7v10.5M855.8,729.1v13M859,729.8v11.2M862.1,702.8v10.5M865.3,714.8v16.1M868.5,725.6v12.5M871.7,729.3v13M874.8,732v8.7M878,731.9v11.8M881.2,728.5v15.6M884.4,732.9v8.3M887.5,731.7v11.2M890.7,726.7v13.8M893.9,729.6v14.5M897.1,729.9v10.6M900.3,727.8v12.9M903.4,726.9v8.4M906.6,723.2v8.5M909.8,714.5v9.9M925.7,708.3v10.2M928.8,713.5v13.4M932,711v8M935.2,702.1v12.2M957.4,699.7v12.8M960.6,712v11.2M963.8,718.7v12.9M966.9,720.4v13.5M970.1,726.2v12.4M973.3,725.1v12.2M976.5,727.9v14.7M979.7,728.7v12.3M982.8,729v10.9M986,730v13.9M989.2,729.2v12.2M992.4,730.6v10.5M995.5,732.1v11.3M998.7,730v13.6M1001.9,728.1v17M1005.1,713.4v10.9M1008.2,726.2v10.6M1011.4,730.1v12.3M1014.6,732.7v10.9M1017.8,733.4v11.3M1020.9,735.8v11.1M1024.1,732.3v13.1M1027.3,733.8v11M1030.5,735.1v9.7M1033.6,736.2v9.5M1036.8,735.3v10.6M1040,733.4v14.2M1043.2,736.9v8.9M1046.3,736.1v14.7M1049.5,734.3v11.7M1052.7,735.1v9.8M1055.9,736v12.2M1059.1,735.8v10.5M1062.2,732v14.2M1065.4,736.8v9.8M1068.6,732.3v13.2M1071.8,735.1v13.8M1074.9,733v12M1078.1,735.1v10.3M1081.3,735.7v10.4M1084.5,733.2v11.4M1087.6,734.3v13M1090.8,732.2v12.3M1094,736.8v8.8M1097.2,735.1v10.7M1100.3,735.8v12.4M1103.5,733v15.8M1106.7,732.8v13M1109.9,735.9v9.2M1113,736v10.2M1116.2,735v12.7M1119.4,735.9v9.3M1122.6,734.8v13.6M1125.7,736.2v9.8M1128.9,735.7v10M1132.1,736.2v9.4M1135.3,736.5v15.1M1138.5,732.3v14M1141.6,735v11.5M1144.8,737.2v8.8M1148,736v10.5M1151.2,737.5v12.4M1154.3,733.7v13.1M1157.5,736.9v13.6M1160.7,734v14.2M1163.9,735.3v9.5M1167,732.5v14.4M1170.2,730.2v13.4M1173.4,734v12.6M1176.6,732.4v10M1179.7,732.9v13M1182.9,729.1v13.7M1186.1,732.2v12.8M1189.3,734.2v12.5M1192.4,729.6v11.9M1195.6,730.1v12.1M1198.8,725.2v13.5M1202,719.3v10.4M1217.9,718.4v11.3M1221,728.9v7.8M1224.2,729.5v11.7M1227.4,732.2v15.6M1230.6,731.7v13.1M1233.7,733v10.4M1236.9,733.6v12.7M1240.1,733.9v9.1M1243.3,732.8v11M1246.4,733.6v12.3M1249.6,730.2v13.6M1252.8,733.3v19.5M1256,733v11.5M1259.1,735.2v10.5M1262.3,736.5v8.5M1265.5,732.8v12.4M1268.7,736v9.5M1271.8,736.5v10.7M1275,736.5v10.2M1278.2,733.3v11.7M1281.4,734.3v13.7M1284.5,733.1v12.6M1287.7,731.2v18.1M1290.9,732v19.3M1294.1,733.7v10.4M1297.3,734.5v15.9M1300.4,732.3v12.8M1303.6,731.7v14.5M1306.8,729.4v15M1310,735.5v8.5M1313.1,734.9v16.9M1316.3,733.3v13.1M1319.5,735.9v11.8M1322.7,731.4v15.8M1325.8,735.6v16.1M1329,733.9v13.1M1332.2,735.9v11.1M1335.4,736v13.5M1338.5,735.8v9.8M1341.7,731.7v14.9M1344.9,733.7v10.9M1348.1,732.4v11.7M1351.2,733v13.5M1354.4,732.5v11.2M1357.6,727.4v12.4M1360.8,725.4v16.8M1376.7,713v11.2M1379.8,727.8v11.1M1383,729.4v14.6M1386.2,729.2v14.9M1389.4,734.2v10.8M1392.5,735.1v14.2M1395.7,735.6v11.3M1398.9,736.1v8.8M1402.1,733.7v11.4M1405.2,735.9v17M1408.4,736.2v8.3M1411.6,733.2v14M1414.8,735.5v14.4M1417.9,732.6v13.7M1421.1,734.9v10M1424.3,733.9v9M1427.5,732.2v10.1M1430.6,732.3v8M1433.8,732.4v11.4M1437,697.5v12.3M1440.2,724.6v15.2M1443.3,726.6v16.9M1446.5,731.9v13.3M1449.7,733.7v14M1452.9,734.4v13M1456.1,732.6v14.8M1459.2,735v15.3M1462.4,735.1v9.7M1465.6,735.5v11.5M1468.8,735.8v10.8M1471.9,733.2v11.7M1475.1,733v10.6M1478.3,716.1v8.5M1481.5,718.5v11.7M1487.8,693v13.2M1494.2,728.4v11M1497.3,727.8v14.7M1500.5,734.9v11.8M1503.7,732.7v15.5M1506.9,731v15M1510,736.1v8.6M1513.2,731.4v18.2M1516.4,730.9v17.7M1519.6,732.8v14.9M1522.7,736.2v8.5M1525.9,733.8v12.3M1529.1,733.7v12.7M1532.3,734v11.4M1535.5,736.5v9.6M1538.6,736.4v13.1M1541.8,735.9v10M1545,736.1v9.7M1548.2,735.8v8.5M1551.3,732.9v12.4M1554.5,728.4v14.6M1557.7,733.2v9.8M1560.9,727.9v13.8M1564,729v11.7M1567.2,728.2v10.4M1570.4,721.3v12.4M1573.6,718.5v14.2M1576.7,704v15.4M1595.8,705.8v9.3M1599,719.6v11.6M1602.1,724v11.2M1605.3,724v16.1M1608.5,729.6v11.8M1611.7,725.7v8.7M1614.9,731.7v9M1618,727.7v13.3M1621.2,734v8.9M1624.4,734.8v10M1627.6,733.7v11.7M1630.7,734.5v8.5M1633.9,733v12.3M1637.1,732.8v11M1640.3,728.4v13.1M1643.4,728.2v10.1M1646.6,720.7v12.8M1662.5,718.5v16.4M1665.7,726.8v21.3M1668.8,731.6v14.4M1672,733.9v9.2M1675.2,733v12.8M1678.4,734v13.9M1681.5,732.6v13.8M1684.7,735.4v9.6M1687.9,733.8v15.8M1691.1,731.3v11.5M1694.3,733.5v8.5M1697.4,728.3v11.1M1700.6,718.8v10.7M1716.5,718.3v15.1M1719.7,730.8v11.9M1722.8,730.1v19.2M1726,734.9v9.3M1729.2,736.5v10.7M1732.4,732.8v17.8M1735.5,736.6v10.7M1738.7,734.1v14.1M1741.9,737.3v12.3M1745.1,735.1v13.1M1748.2,735.7v10.4M1751.4,735.6v11.7M1754.6,736.6v9.7M1757.8,737.1v10.9M1760.9,737.7v10.6M1764.1,735v14.2M1767.3,738.2v9.3M1770.5,737v10.4M1773.7,736.2v10.4M1776.8,729.6v9M1780,734.7v13.2M1783.2,730v12.3M1786.4,734.9v13.1M1789.5,738.7v8.3M1792.7,734.1v14.3M1795.9,737.9v11M1799.1,738.6v10.6M1802.2,738.4v11.7M1805.4,737.4v10.3M1808.6,738.3v10M1811.8,735.2v17.5M1814.9,739.3v10.1M1818.1,737.7v10.1M1821.3,739.3v10.1M1824.5,735.6v13.8M1827.6,736.3v14.2M1830.8,738.3v13.1M1834,737.7v10.8M1837.2,737.1v12.2M1840.3,738.6v12.1M1843.5,738.9v8.3M1846.7,734.6v14.1M1849.9,737.4v10.7M1853.1,739v10M1856.2,737v12.8M1859.4,739.3v9.1M1862.6,738.5v11.2M1865.8,733.4v14.4M1868.9,737v14.8M1872.1,732.1v11.4M1875.3,737.2v9.3M1878.5,734.4v13.7M1881.6,733.7v14.9M1884.8,738.3v9M1888,739.2v8.5M1891.2,733.7v13.4M1894.3,734.8v14M1897.5,732.2v11.2M1900.7,728.5v17.8M1903.9,736.2v10.6M1907,727.6v14.2M1910.2,733.6v19.4M1913.4,734.7v12.4M1916.6,737.2v12.4M1919.7,738.7v9.8M1922.9,733.3v18.6M1926.1,731.1v15.6M1929.3,734.2v14.4M1932.5,737.4v10.2M1935.6,737.6v10.2M1938.8,739.3v11.6M1942,735.5v15.4M1945.2,735.9v14.7M1948.3,732.5v17M1951.5,735.3v14.4M1954.7,736.6v12.1M1957.9,738v14.9M1961,735.9v9.5M1964.2,737.1v12.1M1967.4,734.8v17.7M1970.6,729.8v15.2M1973.7,730.1v8.6M1976.9,716.9v14.5M2008.7,701.9v16.6M2011.9,720.5v17.8M2015,727.5v11.9M2018.2,730.1v14.9M2021.4,732.5v13.9M2024.6,736.3v9M2027.7,736.6v15.7M2030.9,734.1v19.4M2034.1,735.5v11.4M2037.3,738v11.7M2040.4,737v10.7M2043.6,738v12.2M2046.8,734.9v13.8M2050,735.8v12.8M2053.1,738.5v11.7M2056.3,735.5v12.7M2059.5,731v17.5M2062.7,738.3v13.9M2065.8,734.7v17.4M2069,736.4v11.2M2072.2,739.2v9.7"/></g>
<g fill="none" stroke="#008000" stroke-linejoin="miter" stroke-miterlimit="2"><use href="#c3" stroke-width="5.7" stroke-opacity=".45"/><use href="#c3" stroke-width="3.7"/><path stroke-width="3" stroke-opacity=".8" d="M169.8,813.3v12.1M172.9,815.1v10.6M176.1,816.3v10.9M179.3,815.3v10.4M182.5,813.9v18.6M185.7,813.8v11.5M188.8,815.6v9.9M192,815.3v12.4M195.2,817.2v9.3M198.4,813.3v18.6M201.5,812.9v16.1M204.7,813.5v13.6M207.9,813.6v18.3M211.1,816.9v9.9M214.2,816.4v12.3M217.4,815.7v14.2M220.6,816.5v11M223.8,814.7v11.2M226.9,811.4v15.9M230.1,814.2v10.9M233.3,816.7v9.8M236.5,814.4v14.5M239.6,816.8v9.6M242.8,816.5v9.9M246,814.2v14.2M249.2,815.8v14.3M252.3,813.2v14.8M255.5,814.9v11.6M258.7,814v12.3M261.9,816.2v9.6M265.1,816.1v14.8M268.2,812.6v13.8M271.4,811.8v13.8M274.6,810.9v14.1M277.8,816.8v10.5M280.9,815.3v9.9M284.1,815.5v11.4M287.3,815.9v12.4M290.5,813.6v11.4M293.6,816.1v11M296.8,814.3v14.5M300,815.8v10.1M303.2,815.8v9.8M306.3,816.3v9.5M309.5,817v9.5M312.7,813.4v14.2M315.9,815.2v11.2M319,809.1v17M322.2,812.7v20M325.4,816.4v10.7M328.6,810.2v18.4M331.7,814.3v12.3M334.9,814.8v11.4M338.1,810.3v13.4M341.3,810.1v8.6M344.5,803.4v8.4M347.6,776.2v13.7M357.2,785.2v10.4M360.3,805.2v12.3M363.5,808.4v12.7M366.7,814.3v14.9M369.9,816.3v11M373,815.7v10.3M376.2,817.2v10.4M379.4,816.4v13.4M382.6,816.6v10.2M385.7,814.5v14.5M388.9,816.8v12.8M392.1,819.2v11.6M395.3,816.8v14.7M398.4,816.2v12M401.6,816.8v11.9M404.8,818.7v9.4M408,818.3v13.7M411.1,814.4v18M414.3,820v12.2M417.5,821.1v10.6M420.7,818.2v14.5M423.9,819.4v15.9M427,817.6v13.7M430.2,816.8v14.2M433.4,818.9v15.3M436.6,817.2v16.3M439.7,820.7v9.9M442.9,820.2v15.1M446.1,817.5v13.9M449.3,814.2v16.6M452.4,817.4v13M455.6,820.2v14.9M458.8,821.9v12.2M462,820.3v12.2M465.1,822.5v8.4M468.3,820.1v12M471.5,819.3v12.2M474.7,821.8v10.5M477.8,821.8v9.6M481,822.3v12.4M484.2,822.8v9.3M487.4,823.2v13M490.5,824.5v8.1M493.7,824v11.3M496.9,823.7v12.4M500.1,822.1v11.8M503.3,821.3v13M506.4,824.7v10.8M509.6,821.6v14.5M512.8,821.7v10.4M516,822.9v9.4M519.1,823.3v9.9M522.3,822.9v13.3M525.5,820.4v14.7M528.7,823.1v10.1M531.8,824v10.1M535,824.6v10.3M538.2,822.4v15.2M541.4,826.2v9.9M544.5,823.7v16.1M547.7,825.3v11.2M550.9,820.8v16.2M554.1,823.4v14.3M557.2,821.9v13.8M560.4,824.2v15.2M563.6,827.1v8.7M566.8,821v18.6M569.9,822.7v15.7M573.1,824v13.3M576.3,822.7v16M579.5,823.6v15.6M582.7,825.4v11M585.8,822.9v14.1M589,825.2v10.6M592.2,824v13.2M595.4,821.7v13.1M598.5,821.5v11.6M601.7,824.8v14M604.9,825.3v10.4M608.1,822.1v12.9M611.2,819.6v16.2M614.4,821.6v11.7M617.6,820.9v12.1M620.8,824.2v10.1M623.9,818.9v15.6M627.1,822.5v12.6M630.3,821.5v11.3M633.5,822.1v11.5M636.6,816.7v14.8M639.8,820.2v9.5M643,816.9v16.5M646.2,811.6v14.3M649.3,799.6v11.3M662.1,795v14.2M665.2,810.8v16.1M668.4,817.1v12.7M671.6,815.7v14.9M674.8,820.4v10.4M677.9,821.3v15.2M681.1,821.9v11.7M684.3,824.3v13.8M687.5,820.4v13.1M690.6,822.5v13.6M693.8,821.8v11.4M697,824.1v9.5M700.2,822.2v13M703.3,820.1v15.3M706.5,819.6v11.9M709.7,814.2v8.3M712.9,812v17M716,818.8v17M719.2,821.2v10.3M722.4,818.5v18.6M725.6,820v12.7M728.7,816v10.1M731.9,806.2v11.7M747.8,809.2v10.6M751,817.9v9.5M754.2,820.4v12.3M757.3,823.1v8.6M760.5,815.4v18.3M763.7,822.4v14M766.9,821.5v15.8M770,821.4v12.3M773.2,823.9v11.1M776.4,825v9.3M779.6,820.6v16.1M782.7,821.2v12.7M785.9,824.2v13.8M789.1,821.3v15.3M792.3,824.7v17.8M795.4,822v14M798.6,823.1v11.5M801.8,824.7v12.5M805,824.2v11.4M808.1,826.1v9.9M811.3,826.6v7.8M814.5,825.3v10.2M817.7,825.8v10.9M820.9,820v17M824,823.9v10.2M827.2,822.4v11.3M830.4,826v9.2M833.6,822.6v17M836.7,826.4v10.1M839.9,823.9v13.6M843.1,825.1v13.9M846.3,826.2v9.2M849.4,826.1v9.9M852.6,826.4v9.3M855.8,826v8.4M859,819.1v12.9M865.3,797.8v12.5M868.5,819.4v10.9M871.7,823.7v10.6M874.8,823.6v13.8M878,827v11.3M881.2,825.7v12M884.4,822.9v13.2M887.5,826.8v9.9M890.7,824.2v11.3M893.9,825.4v11.4M897.1,824.6v12.5M900.3,823.6v9.9M903.4,814.5v17M906.6,813.7v15.1M909.8,811.1v9.1M925.7,808.2v14.8M928.8,815.6v18.5M932,824.1v10.8M935.2,824.4v10.8M938.4,825.5v11.2M941.5,826.2v12.2M944.7,824.1v13.6M947.9,824.7v10.4M951.1,823.1v12.2M954.2,827.4v8.4M957.4,826.5v16.2M960.6,826.9v8.7M963.8,822.9v12.5M966.9,821.5v12.7M970.1,827.5v11.3M973.3,824.8v18.7M976.5,826.4v11.6M979.7,824.2v13.6M982.8,825.5v11.7M986,825.4v18M989.2,825.1v13.6M992.4,826.5v11.3M995.5,826.4v11.5M998.7,819.8v18.1M1001.9,824v17.4M1005.1,805.7v9M1008.2,816.2v11.3M1011.4,826.4v10.1M1014.6,825.2v13.6M1017.8,826.6v14.5M1020.9,826v11.4M1024.1,828.3v10.5M1027.3,826.3v10.7M1030.5,826.5v11.4M1033.6,827.4v12.1M1036.8,818v16.4M1040,824.5v11.1M1043.2,828.6v10.3M1046.3,827.8v16.5M1049.5,825.7v13.1M1052.7,830v9.9M1055.9,827v12.8M1059.1,828.4v9.9M1062.2,827.7v14.3M1065.4,828.2v10.6M1068.6,829.2v8.9M1071.8,826v14.4M1074.9,825.7v11.4M1078.1,828.6v11.5M1081.3,828.8v9.7M1084.5,827v10.1M1087.6,829.1v10M1090.8,824.2v13.3M1094,829.1v8.7M1097.2,826.6v14.1M1100.3,823.8v13.1M1103.5,827.5v11.1M1106.7,824.9v15.9M1109.9,828.4v8.7M1113,828.8v10.2M1116.2,826.8v15.5M1119.4,827.6v10.6M1122.6,827.3v10.1M1125.7,826.5v11.5M1128.9,828.7v8.2M1132.1,825.2v11.6M1135.3,827.7v13.4M1138.5,826v14.4M1141.6,826.2v16.7M1144.8,825.8v11.3M1148,827.4v9.4M1151.2,825.6v12.8M1154.3,826.3v13M1157.5,828.2v8.6M1160.7,826.7v10M1163.9,828.4v11.3M1167,823.7v14.3M1170.2,824.2v16.5M1173.4,827.2v8.1M1176.6,824.9v10.6M1179.7,819.5v15M1182.9,824.5v15.2M1186.1,823.6v12M1189.3,825.4v12.8M1192.4,823.5v11.6M1195.6,819.2v14.9M1198.8,817.2v11.2M1202,807.4v11.7M1217.9,813.3v9.2M1221,821.1v11.6M1224.2,818.2v16.8M1227.4,823.2v13.2M1230.6,826.1v10.2M1233.7,826.8v12.1M1236.9,824.9v12M1240.1,827.3v11.1M1243.3,828.2v13.1M1246.4,827.4v11.2M1249.6,827.2v11.8M1252.8,825.5v12.4M1256,826v11.8M1259.1,828.2v11.9M1262.3,827.5v11.2M1265.5,828v9.2M1268.7,827.3v10.2M1271.8,828.4v9.5M1275,824.1v16.8M1278.2,824.5v13.3M1281.4,826.4v13M1284.5,828.5v11M1287.7,822.9v13.9M1290.9,821.8v14.6M1294.1,827.8v8.2M1297.3,828.1v12M1300.4,828.1v11.1M1303.6,827.8v9.6M1306.8,823.8v10.2M1310,825.5v16.4M1313.1,827.3v9M1316.3,827.5v11.6M1319.5,828.8v8.4M1322.7,827.1v11.1M1325.8,827.5v12M1329,829.2v8.5M1332.2,828.3v10.7M1335.4,827.5v12.3M1338.5,826.5v11.3M1341.7,828.4v8.3M1344.9,827.9v12.5M1348.1,824.5v11.2M1351.2,824v14.5M1354.4,823.1v11M1357.6,820.2v10.2M1360.8,811.1v11.8M1376.7,802.5v15.4M1379.8,816.5v11.6M1383,822.8v10.8M1386.2,820.7v15.4M1389.4,821v14.5M1392.5,822.3v12.8M1395.7,826.2v9.6M1398.9,824v12.9M1402.1,827.6v10.7M1405.2,827.1v13.9M1408.4,828.4v11.7M1411.6,828.5v10.4M1414.8,821.9v16M1417.9,827.8v11.5M1421.1,828.6v8.2M1424.3,826.5v10M1427.5,824.4v9.3M1430.6,824.6v9.5M1433.8,823.9v11.4M1440.2,820.4v11M1443.3,814.5v14.6M1446.5,823.1v14.2M1449.7,828.3v11.2M1452.9,828.4v9.2M1456.1,828.3v11.2M1459.2,826.3v12.9M1462.4,821.8v19.7M1465.6,825.3v11.2M1468.8,822.5v18.2M1471.9,823.4v17.9M1475.1,818.8v15.4M1478.3,798.5v12.3M1481.5,805.7v9.9M1494.2,816.5v8.6M1497.3,819.5v12.8M1500.5,824.3v13.2M1503.7,825.9v10.9M1506.9,826.7v9.8M1510,826.5v10.4M1513.2,828.9v10.3M1516.4,826.7v14M1519.6,827.8v10M1522.7,826v14.7M1525.9,823.8v13.8M1529.1,829v7.9M1532.3,826.5v15.7M1535.5,828.3v8.9M1538.6,827.2v11.3M1541.8,828.7v10.5M1545,825.4v13.2M1548.2,825.7v13.6M1551.3,825.8v14M1554.5,826.5v14.6M1557.7,828.1v9.2M1560.9,828.3v9.6M1564,828.4v10.3M1567.2,827.9v9.1M1570.4,827.2v9.7M1573.6,825.9v15.3M1576.7,827.6v12.2M1579.9,829.8v10.9M1583.1,825.1v16.7M1586.3,826.9v14M1589.4,827.5v10.4M1592.6,828.1v9.2M1595.8,826v14.3M1599,829.6v9.5M1602.1,827.8v14.5M1605.3,827.3v10.7M1608.5,825.1v13.7M1611.7,818.2v15.7M1614.9,825.4v11.7M1618,820.4v13.8M1621.2,825.5v16.5M1624.4,825.9v14.4M1627.6,825.1v14.4M1630.7,828.8v13.1M1633.9,823.8v14.1M1637.1,825.7v11.8M1640.3,819.1v15.6M1643.4,818.7v10.9M1646.6,809.3v13.1M1662.5,811.9v11.2M1665.7,820.3v11.5M1668.8,820.9v14.2M1672,825.5v11.3M1675.2,826.6v9.8M1678.4,823.9v15.9M1681.5,827.1v12.7M1684.7,826.7v10.4M1687.9,825.6v13.4M1691.1,825.3v13.7M1694.3,819.3v19.1M1697.4,822.3v8M1700.6,812.1v8.9M1716.5,811.1v8.8M1719.7,816.9v15.1M1722.8,824.9v12.1M1726,825.6v11.6M1729.2,828.2v8.3M1732.4,823.9v16M1735.5,827.3v13.9M1738.7,826.9v13.7M1741.9,830.6v11.4M1745.1,829v10M1748.2,827.7v14M1751.4,824.9v14.8M1754.6,827.5v11.7M1757.8,829.1v10.5M1760.9,828v13.1M1764.1,828.3v15.9M1767.3,828.8v10.9M1770.5,824.5v13M1773.7,825.6v10.6M1776.8,810.2v15.2M1780,828.8v8.3M1783.2,820.5v12.8M1786.4,828.8v11.6M1789.5,830.6v12.6M1792.7,830.5v10.6M1795.9,829.6v12.2M1799.1,831.7v8.5M1802.2,829.6v10.8M1805.4,827.2v15.5M1808.6,830v10.8M1811.8,830.7v9.9M1814.9,829.2v10.2M1818.1,829.7v11M1821.3,832.1v8.7M1824.5,829.5v12.3M1827.6,826.9v15.1M1830.8,829.9v12.2M1834,831.2v12.3M1837.2,830.1v12.2M1840.3,831.5v9.6M1843.5,825.6v16.5M1846.7,830.4v11.2M1849.9,826.9v18.4M1853.1,829.7v13.6M1856.2,830.9v16.9M1859.4,828.4v12.1M1862.6,829.4v16.3M1865.8,829.9v13.7M1868.9,831.5v8.8M1872.1,830.5v9.4M1875.3,826.6v12.8M1878.5,828.1v11.9M1881.6,823.9v19.3M1884.8,827.1v15.7M1888,830.3v11.6M1891.2,830.8v12.1M1894.3,827.6v12.4M1897.5,823.5v11M1900.7,824.1v13.7M1903.9,823.2v16.9M1907,823.1v9.9M1910.2,828.8v12.7M1913.4,829.3v14.6M1916.6,831.6v8.7M1919.7,831.9v9.1M1922.9,829.7v9.8M1926.1,831.1v10.8M1929.3,831.6v8.5M1932.5,829.6v10.7M1935.6,828.2v13.2M1938.8,830.6v11.6M1942,831.3v11M1945.2,831.1v11.9M1948.3,829.7v10.1M1951.5,827.4v11.5M1954.7,830.7v11.2M1957.9,830.3v10.3M1961,830.4v12.2M1964.2,830v13.3M1967.4,826.7v10.5M1970.6,823.4v13.2M1973.7,821.1v10.6M1976.9,806.2v10.3M1996,808.2v17M2002.3,817.9v15.2M2005.5,825.6v10.1M2008.7,827.5v11.4M2011.9,828.4v12M2015,827.1v11.6M2018.2,829.2v13.1M2021.4,830.9v10.4M2024.6,827.4v12.7M2027.7,828.9v10.7M2030.9,826.3v14.6M2034.1,828v12.6M2037.3,829v13.7M2040.4,830.9v12M2043.6,831.4v8.4M2046.8,830.9v12.7M2050,829.5v10.7M2053.1,829.7v10.9M2056.3,830.8v12.8M2059.5,829.7v15.5M2062.7,831.7v9.1M2065.8,827v14.8M2069,829.3v18.3M2072.2,829.2v17.3"/></g>
</g>
<g stroke="#000" stroke-width="5.7" fill="none">
<line x1="167.9" y1="46" x2="167.9" y2="1252"/>
<line x1="165.3" y1="1222.3" x2="2078.8" y2="1222.3"/>
<line x1="165.3" y1="1050.3" x2="2078" y2="1050.3"/>
<line x1="485.8" y1="1222.3" x2="485.8" y2="1252"/>
<line x1="803.7" y1="1222.3" x2="803.7" y2="1252"/>
<line x1="1121.6" y1="1222.3" x2="1121.6" y2="1252"/>
<line x1="1439.5" y1="1222.3" x2="1439.5" y2="1252"/>
<line x1="1757.4" y1="1222.3" x2="1757.4" y2="1252"/>
<line x1="2075.3" y1="1222.3" x2="2075.3" y2="1252"/>
<line x1="326.9" y1="1222.3" x2="326.9" y2="1237.3"/>
<line x1="644.8" y1="1222.3" x2="644.8" y2="1237.3"/>
<line x1="962.6" y1="1222.3" x2="962.6" y2="1237.3"/>
<line x1="1280.5" y1="1222.3" x2="1280.5" y2="1237.3"/>
<line x1="1598.5" y1="1222.3" x2="1598.5" y2="1237.3"/>
<line x1="1916.4" y1="1222.3" x2="1916.4" y2="1237.3"/>
</g>
<g fill="#000">
<rect x="735.8" y="881" width="9.8" height="169.3"/>
<rect x="931.7" y="971.4" width="9.8" height="78.9"/>
<rect x="1572.6" y="1011" width="9.8" height="39.3"/>
<rect x="1984.1" y="1011" width="9.8" height="39.3"/>
<rect x="340.8" y="1103" width="9.8" height="119.3"/>
<rect x="645.8" y="1045.6" width="9.8" height="176.7"/>
<rect x="727.8" y="1137.2" width="9.8" height="85.1"/>
<rect x="854.3" y="1214.5" width="9.8" height="7.8"/>
<rect x="906.9" y="1056.8" width="9.8" height="165.5"/>
<rect x="996.5" y="1214.5" width="9.8" height="7.8"/>
<rect x="1200.2" y="1138" width="9.8" height="84.3"/>
<rect x="1358.1" y="1061" width="9.8" height="161.3"/>
<rect x="1430.5" y="1214" width="9.8" height="8.3"/>
<rect x="1473.1" y="1211.6" width="9.8" height="10.7"/>
<rect x="1481.1" y="1204" width="9.8" height="18.3"/>
<rect x="1646.3" y="1159.5" width="9.8" height="62.8"/>
<rect x="1700.5" y="1128" width="9.8" height="94.3"/>
<rect x="1770.1" y="1216" width="9.8" height="6.3"/>
<rect x="1897.6" y="1215" width="9.8" height="7.3"/>
<rect x="1978.5" y="1192" width="9.8" height="30.3"/>
<rect x="1990.9" y="1203.2" width="9.8" height="19.1"/>
</g>
<g font-family="'Liberation Serif', serif" fill="#000">
<text x="167.1" y="1348" font-size="98.5" text-anchor="middle">20</text>
<text x="485.0" y="1348" font-size="98.5" text-anchor="middle">30</text>
<text x="802.9" y="1348" font-size="98.5" text-anchor="middle">40</text>
<text x="1120.8" y="1348" font-size="98.5" text-anchor="middle">50</text>
<text x="1438.7" y="1348" font-size="98.5" text-anchor="middle">60</text>
<text x="1756.6" y="1348" font-size="98.5" text-anchor="middle">70</text>
<text x="2074.5" y="1348" font-size="98.5" text-anchor="middle">80</text>
<text x="1122" y="1480" font-size="116" text-anchor="middle">2θ (deg.)</text>
<text transform="translate(105.5 555) rotate(-90)" font-size="114" text-anchor="middle">Intensity (a.u.)</text>
<g font-weight="bold" font-size="85" text-anchor="middle">
<text x="254" y="512">1</text>
<text x="254" y="605">2</text>
<text x="254" y="705.5">3</text>
<text x="254" y="803.5">4</text>
</g>
<g font-weight="bold" font-size="65" text-anchor="end">
<text x="2087" y="959.5">Ag (PDF #87-0717)</text>
<text x="2089" y="1113">Al<tspan font-size="38" dy="20.5">2</tspan><tspan dy="-20.5">O</tspan><tspan font-size="38" dy="20.5">3</tspan><tspan dy="-20.5"> (PDF #71-1126)</tspan></text>
</g></g>
</svg>
</body></html>
